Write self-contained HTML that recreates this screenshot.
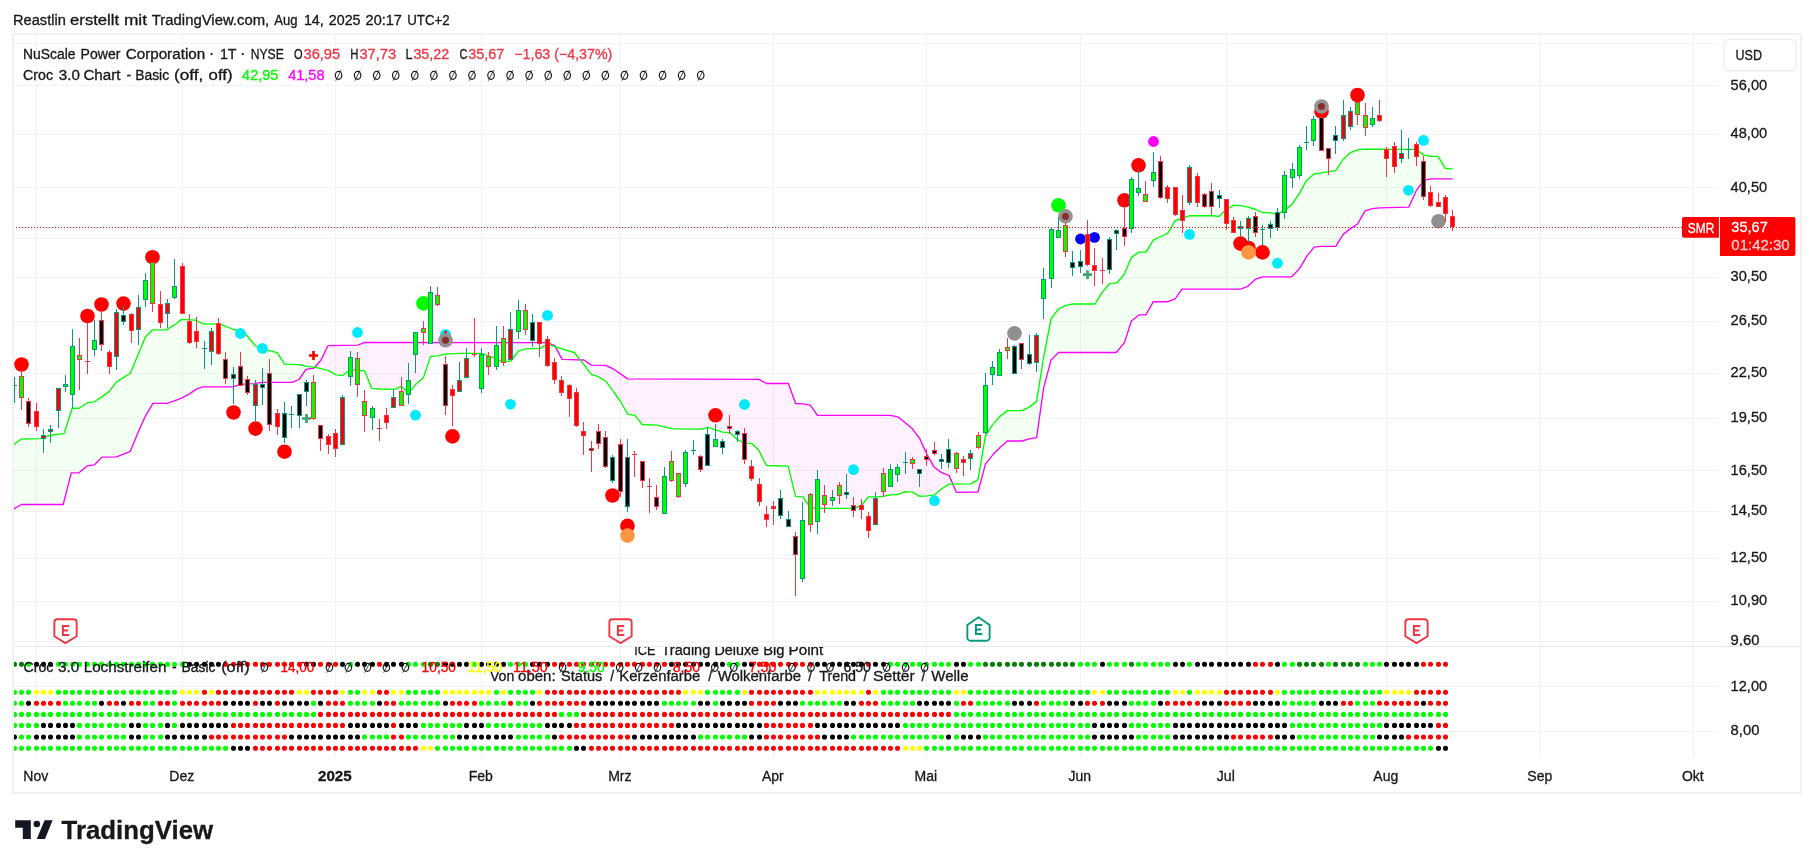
<!DOCTYPE html><html><head><meta charset="utf-8"><title>chart</title>
<style>html,body{margin:0;padding:0;background:#fff}svg{display:block;will-change:transform}text{font-family:"Liberation Sans",sans-serif;font-size:14px;color:#17181c;fill:currentColor;stroke:currentColor;stroke-width:.3px}</style></head><body>
<svg width="1814" height="868" viewBox="0 0 1814 868">
<rect width="1814" height="868" fill="#fff"/>
<path d="M36 35h1V757h-1ZM182 35h1V757h-1ZM335 35h1V757h-1ZM481 35h1V757h-1ZM620 35h1V757h-1ZM773 35h1V757h-1ZM926 35h1V757h-1ZM1080 35h1V757h-1ZM1226 35h1V757h-1ZM1386 35h1V757h-1ZM1540 35h1V757h-1ZM1693 35h1V757h-1ZM14 43H1719v1H14ZM14 85H1719v1H14ZM14 134H1719v1H14ZM14 187H1719v1H14ZM14 238H1719v1H14ZM14 277H1719v1H14ZM14 321H1719v1H14ZM14 373H1719v1H14ZM14 418H1719v1H14ZM14 470H1719v1H14ZM14 511H1719v1H14ZM14 558H1719v1H14ZM14 601H1719v1H14ZM14 641H1719v1H14ZM14 686H1719v1H14ZM14 731H1719v1H14Z" fill="#f3f3f5" shape-rendering="crispEdges"/>
<path d="M14 646H1800v1H14Z" fill="#e8e9ec" shape-rendering="crispEdges"/>
<g>
<path d="M13 445.15L13.5 444.78L14 444.41L14.5 444.04L15 443.66L15.5 443.29L16 442.92L16.5 442.55L17 442.18L17.5 441.8L18 441.43L18.5 441.06L19 440.69L19.5 440.32L20 439.94L20.5 439.57L21 439.2L21.5 439.18L22 439.17L22.5 439.15L23 439.14L23.5 439.12L24 439.11L24.5 439.09L25 439.08L25.5 439.06L26 439.05L26.5 439.03L27 439.01L27.5 439L28 438.98L28.5 438.97L29 438.95L29.5 438.94L30 438.92L30.5 438.91L31 438.89L31.5 438.88L32 438.86L32.5 438.84L33 438.83L33.5 438.81L34 438.8L34.5 438.78L35 438.77L35.5 438.75L36 438.74L36.5 438.72L37 438.71L37.5 438.69L38 438.67L38.5 438.66L39 438.64L39.5 438.63L40 438.61L40.5 438.57L41 438.41L41.5 438.24L42 438.08L42.5 437.92L43 437.76L43.5 437.59L44 437.43L44.5 437.27L45 437.11L45.5 436.95L46 436.78L46.5 436.62L47 436.46L47.5 436.3L48 436.14L48.5 435.97L49 435.81L49.5 435.65L50 435.49L50.5 435.32L51 435.16L51.5 435L52 434.94L52.5 434.89L53 434.83L53.5 434.78L54 434.72L54.5 434.66L55 434.61L55.5 434.55L56 434.5L56.5 434.44L57 434.38L57.5 434.33L58 434.27L58.5 434.22L59 434.16L59.5 434.1L60 434.05L60.5 433.99L61 433.94L61.5 433.88L62 433.82L62.5 433.77L63 433.71L63.5 433.66L64 433.6L64.5 432.05L65 430.5L65.5 428.95L66 427.4L66.5 425.86L67 424.31L67.5 422.76L68 421.21L68.5 419.66L69 418.11L69.5 416.56L70 415.01L70.5 413.47L71 411.92L71.5 410.37L72 408.82L72.5 408.2L73 408.2L73.5 408.2L74 408.2L74.5 408.2L75 408.2L75.5 408.2L76 408.2L76.5 408.2L77 408.2L77.5 408.2L78 408.2L78.5 408.2L79 408.2L79.5 408L80 407.67L80.5 407.34L81 407.01L81.5 406.68L82 406.34L82.5 406.01L83 405.68L83.5 405.35L84 405.02L84.5 404.69L85 404.36L85.5 404.03L86 403.69L86.5 403.36L87 403.03L87.5 402.7L88 402.63L88.5 402.57L89 402.5L89.5 402.44L90 402.37L90.5 402.31L91 402.24L91.5 402.18L92 402.11L92.5 402.05L93 401.98L93.5 401.92L94 401.85L94.5 401.73L95 401.39L95.5 401.05L96 400.71L96.5 400.37L97 400.03L97.5 399.69L98 399.35L98.5 399.01L99 398.67L99.5 398.33L100 397.99L100.5 397.64L101 397.3L101.5 396.96L102 396.6L102.5 396.24L103 395.89L103.5 395.53L104 395.17L104.5 394.81L105 394.46L105.5 394.1L106 393.74L106.5 393.39L107 393.03L107.5 392.67L108 392.31L108.5 391.96L109 391.6L109.5 390.95L110 390.31L110.5 389.66L111 389.01L111.5 388.37L112 387.72L112.5 387.07L113 386.43L113.5 385.78L114 385.13L114.5 384.49L115 383.84L115.5 383.19L116 382.55L116.5 381.9L117 381.59L117.5 381.28L118 380.97L118.5 380.65L119 380.34L119.5 380.03L120 379.72L120.5 379.41L121 379.1L121.5 378.78L122 378.47L122.5 378.16L123 377.85L123.5 377.54L124 377.23L124.5 376.91L125 376.6L125.5 376.29L126 375.98L126.5 375.67L127 375.36L127.5 375.04L128 374.73L128.5 374.42L129 374.11L129.5 373.8L130 373.49L130.5 372.82L131 371.62L131.5 370.42L132 369.22L132.5 368.02L133 366.82L133.5 365.62L134 364.42L134.5 363.21L135 362.01L135.5 360.81L136 359.61L136.5 358.41L137 357.21L137.5 356.01L138 354.81L138.5 353.61L139 352.41L139.5 351.21L140 350.01L140.5 348.81L141 347.61L141.5 346.41L142 345.2L142.5 344L143 342.8L143.5 341.6L144 340.4L144.5 339.2L145 338L145.5 336.8L146 336.31L146.5 335.81L147 335.32L147.5 334.83L148 334.34L148.5 333.84L149 333.35L149.5 332.86L150 332.36L150.5 331.87L151 331.38L151.5 330.89L152 330.39L152.5 329.9L153 329.9L153.5 329.9L154 329.9L154.5 329.9L155 329.9L155.5 329.9L156 329.9L156.5 329.9L157 329.9L157.5 329.9L158 329.9L158.5 329.9L159 329.9L159.5 329.9L160 329.9L160.5 329.9L161 329.9L161.5 329.9L162 329.9L162.5 329.9L163 329.9L163.5 329.9L164 329.9L164.5 329.9L165 329.9L165.5 329.9L166 329.9L166.5 329.77L167 329.46L167.5 329.15L168 328.83L168.5 328.52L169 328.2L169.5 327.89L170 327.57L170.5 327.26L171 326.94L171.5 326.63L172 326.32L172.5 326L173 325.69L173.5 325.37L174 325.06L174.5 324.74L175 324.43L175.5 324.11L176 323.8L176.5 323.4L177 323L177.5 322.6L178 322.2L178.5 321.8L179 321.4L179.5 321L180 320.6L180.5 320.2L181 319.8L181.5 319.4L182 319.43L182.5 319.46L183 319.49L183.5 319.52L184 319.54L184.5 319.57L185 319.6L185.5 319.63L186 319.66L186.5 319.69L187 319.72L187.5 319.75L188 319.78L188.5 319.81L189 319.83L189.5 319.86L190 319.89L190.5 319.92L191 319.95L191.5 319.98L192 320.01L192.5 320.04L193 320.07L193.5 320.1L194 320.12L194.5 320.15L195 320.18L195.5 320.29L196 320.51L196.5 320.73L197 320.95L197.5 321.17L198 321.39L198.5 321.6L199 321.82L199.5 322.04L200 322.26L200.5 322.48L201 322.7L201.5 322.92L202 323.14L202.5 323.36L203 323.58L203.5 323.8L204 323.8L204.5 323.8L205 323.8L205.5 323.8L206 323.8L206.5 323.8L207 323.8L207.5 323.8L208 323.8L208.5 323.8L209 323.8L209.5 323.8L210 323.8L210.5 323.8L211 323.8L211.5 323.8L212 323.8L212.5 323.8L213 323.8L213.5 323.8L214 323.8L214.5 323.8L215 323.8L215.5 323.8L216 323.8L216.5 323.8L217 323.8L217.5 323.8L218 323.8L218.5 323.8L219 323.8L219.5 323.8L220 323.97L220.5 324.17L221 324.38L221.5 324.58L222 324.79L222.5 325L223 325.2L223.5 325.41L224 325.62L224.5 325.82L225 326.03L225.5 326.24L226 326.44L226.5 326.65L227 326.86L227.5 327.06L228 327.27L228.5 327.48L229 327.68L229.5 327.89L230 328.1L230.5 328.3L231 328.51L231.5 328.72L232 328.92L232.5 329.13L233 329.33L233.5 329.52L234 329.63L234.5 329.74L235 329.85L235.5 329.96L236 330.07L236.5 330.19L237 330.3L237.5 330.41L238 330.52L238.5 330.63L239 330.74L239.5 330.85L240 330.96L240.5 331.07L241 331.18L241.5 331.29L242 331.4L242.5 331.51L243 331.62L243.5 331.73L244 332.04L244.5 332.65L245 333.25L245.5 333.85L246 334.46L246.5 335.06L247 335.67L247.5 336.27L248 336.88L248.5 337.48L249 338.09L249.5 338.69L250 339.29L250.5 339.9L251 340.5L251.5 341.11L252 341.71L252.5 342.32L253 342.92L253.5 343.52L254 344.13L254.5 344.73L255 345.34L255.5 345.79L256 346.02L256.5 346.25L257 346.48L257.5 346.71L258 346.94L258.5 347.17L259 347.4L259.5 347.63L260 347.86L260.5 348.09L261 348.32L261.5 348.55L262 348.78L262.5 349.01L263 349.17L263.5 349.29L264 349.41L264.5 349.53L265 349.66L265.5 349.78L266 349.9L266.5 350.02L267 350.14L267.5 350.26L268 350.38L268.5 350.5L269 350.62L269.5 350.74L270 350.86L270.5 350.98L271 351.1L271.5 351.22L272 351.34L272.5 351.47L273 351.59L273.5 351.71L274 351.83L274.5 351.95L275 352.07L275.5 352.19L276 352.31L276.5 352.43L277 352.55L277.5 353.07L278 353.84L278.5 354.62L279 355.4L279.5 356.17L280 356.95L280.5 357.73L281 358.51L281.5 359.28L282 360.06L282.5 360.84L283 361.61L283.5 362.39L284 363.17L284.5 363.94L285 364.11L285.5 364.13L286 364.15L286.5 364.17L287 364.18L287.5 364.2L288 364.22L288.5 364.24L289 364.25L289.5 364.27L290 364.29L290.5 364.3L291 364.32L291.5 364.34L292 364.36L292.5 364.37L293 364.39L293.5 364.41L294 364.43L294.5 364.44L295 364.46L295.5 364.48L296 364.5L296.5 364.51L297 364.53L297.5 364.55L298 364.57L298.5 364.58L299 364.6L299.5 364.72L300 364.83L300.5 364.95L301 365.07L301.5 365.18L302 365.3L302.5 365.42L303 365.54L303.5 365.65L304 365.77L304.5 365.89L305 366L305.5 366.12L306 366.24L306.5 366.35L307 366.43L307.5 366.48L308 366.52L308.5 366.57L309 366.62L309.5 366.67L310 366.72L310.5 366.76L311 366.81L311.5 366.86L312 366.91L312.5 366.96L313 367L313.5 367.05L314 367.1L314.5 367.21L315 367.33L315 367.03L314.5 367.61L314 368.2L313.5 368.27L313 368.35L312.5 368.43L312 368.5L311.5 368.57L311 368.65L310.5 368.72L310 368.8L309.5 368.88L309 368.95L308.5 369.02L308 369.1L307.5 369.17L307 369.25L306.5 369.32L306 369.4L305.5 370.12L305 370.84L304.5 371.56L304 372.29L303.5 373.01L303 373.73L302.5 374.45L302 375.17L301.5 375.89L301 376.61L300.5 377.34L300 378.06L299.5 378.78L299 379.5L298.5 379.71L298 379.91L297.5 380.12L297 380.33L296.5 380.54L296 380.74L295.5 380.95L295 381.16L294.5 381.36L294 381.57L293.5 381.78L293 381.99L292.5 382.19L292 382.4L291.5 382.4L291 382.4L290.5 382.4L290 382.4L289.5 382.4L289 382.4L288.5 382.4L288 382.4L287.5 382.4L287 382.4L286.5 382.4L286 382.4L285.5 382.4L285 382.4L284.5 382.4L284 382.4L283.5 382.4L283 382.4L282.5 382.4L282 382.4L281.5 382.4L281 382.4L280.5 382.4L280 382.4L279.5 382.4L279 382.4L278.5 382.4L278 382.4L277.5 382.4L277 382.4L276.5 382.4L276 382.4L275.5 382.4L275 382.4L274.5 382.4L274 382.4L273.5 382.4L273 382.4L272.5 382.4L272 382.4L271.5 382.4L271 382.4L270.5 382.4L270 382.4L269.5 382.4L269 382.4L268.5 382.4L268 382.4L267.5 382.4L267 382.4L266.5 382.4L266 382.4L265.5 382.4L265 382.4L264.5 382.4L264 382.4L263.5 382.4L263 382.4L262.5 382.4L262 382.4L261.5 382.45L261 382.53L260.5 382.61L260 382.69L259.5 382.77L259 382.85L258.5 382.94L258 383.02L257.5 383.1L257 383.18L256.5 383.26L256 383.34L255.5 383.42L255 383.5L254.5 383.58L254 383.61L253.5 383.62L253 383.64L252.5 383.65L252 383.66L251.5 383.68L251 383.69L250.5 383.71L250 383.72L249.5 383.73L249 383.75L248.5 383.76L248 383.77L247.5 383.79L247 383.8L246.5 383.85L246 383.91L245.5 383.96L245 384.02L244.5 384.07L244 384.13L243.5 384.18L243 384.24L242.5 384.29L242 384.35L241.5 384.4L241 384.46L240.5 384.51L240 384.57L239.5 384.66L239 384.82L238.5 384.98L238 385.14L237.5 385.3L237 385.46L236.5 385.62L236 385.78L235.5 385.94L235 386.1L234.5 386.26L234 386.42L233.5 386.58L233 386.74L232.5 386.8L232 386.8L231.5 386.8L231 386.8L230.5 386.8L230 386.8L229.5 386.8L229 386.8L228.5 386.8L228 386.8L227.5 386.8L227 386.8L226.5 386.8L226 386.8L225.5 386.8L225 386.8L224.5 386.8L224 386.8L223.5 386.8L223 386.8L222.5 386.8L222 386.8L221.5 386.8L221 386.8L220.5 386.8L220 386.8L219.5 386.8L219 386.8L218.5 386.8L218 386.8L217.5 386.8L217 386.8L216.5 386.8L216 386.8L215.5 386.8L215 386.8L214.5 386.8L214 386.8L213.5 386.8L213 386.8L212.5 386.8L212 386.8L211.5 386.8L211 386.8L210.5 386.8L210 386.8L209.5 386.8L209 386.8L208.5 386.8L208 386.8L207.5 386.8L207 386.8L206.5 386.8L206 386.8L205.5 386.8L205 386.8L204.5 386.8L204 386.8L203.5 386.8L203 386.8L202.5 386.91L202 387.08L201.5 387.25L201 387.43L200.5 387.61L200 387.78L199.5 387.95L199 388.13L198.5 388.31L198 388.48L197.5 388.65L197 388.83L196.5 389.1L196 389.43L195.5 389.77L195 390.1L194.5 390.43L194 390.77L193.5 391.1L193 391.43L192.5 391.77L192 392.1L191.5 392.43L191 392.77L190.5 393.1L190 393.43L189.5 393.77L189 394.1L188.5 394.37L188 394.64L187.5 394.91L187 395.18L186.5 395.45L186 395.72L185.5 395.99L185 396.26L184.5 396.53L184 396.8L183.5 397.07L183 397.34L182.5 397.61L182 397.88L181.5 398.14L181 398.33L180.5 398.52L180 398.71L179.5 398.89L179 399.08L178.5 399.27L178 399.46L177.5 399.65L177 399.84L176.5 400.03L176 400.22L175.5 400.41L175 400.6L174.5 400.79L174 400.97L173.5 401.14L173 401.31L172.5 401.48L172 401.65L171.5 401.82L171 402L170.5 402.17L170 402.34L169.5 402.51L169 402.68L168.5 402.85L168 403.02L167.5 403.19L167 403.37L166.5 403.4L166 403.4L165.5 403.4L165 403.4L164.5 403.4L164 403.4L163.5 403.4L163 403.4L162.5 403.4L162 403.4L161.5 403.4L161 403.4L160.5 403.4L160 403.4L159.5 403.4L159 403.4L158.5 403.4L158 403.4L157.5 403.4L157 403.4L156.5 403.4L156 403.4L155.5 403.4L155 403.4L154.5 403.4L154 403.4L153.5 403.4L153 403.4L152.5 404.07L152 404.91L151.5 405.75L151 406.58L150.5 407.42L150 408.26L149.5 409.1L149 409.94L148.5 410.77L148 411.61L147.5 412.45L147 413.29L146.5 414.12L146 414.96L145.5 415.8L145 416.92L144.5 418.03L144 419.15L143.5 420.26L143 421.38L142.5 422.49L142 423.61L141.5 424.72L141 425.84L140.5 426.95L140 428.07L139.5 429.18L139 430.3L138.5 431.51L138 432.71L137.5 433.92L137 435.13L136.5 436.33L136 437.54L135.5 438.75L135 439.96L134.5 441.16L134 442.37L133.5 443.58L133 444.78L132.5 445.99L132 447.2L131.5 448.4L131 449.61L130.5 450.82L130 451.42L129.5 451.62L129 451.82L128.5 452.02L128 452.22L127.5 452.42L127 452.62L126.5 452.81L126 453.01L125.5 453.21L125 453.41L124.5 453.61L124 453.81L123.5 454.01L123 454.21L122.5 454.41L122 454.61L121.5 454.81L121 455.01L120.5 455.21L120 455.41L119.5 455.6L119 455.8L118.5 456L118 456.2L117.5 456.4L117 456.6L116.5 456.8L116 456.81L115.5 456.82L115 456.83L114.5 456.84L114 456.85L113.5 456.86L113 456.87L112.5 456.88L112 456.89L111.5 456.9L111 456.91L110.5 456.92L110 456.93L109.5 456.94L109 456.95L108.5 456.96L108 456.97L107.5 456.98L107 457L106.5 457.01L106 457.02L105.5 457.03L105 457.04L104.5 457.05L104 457.06L103.5 457.07L103 457.08L102.5 457.09L102 457.1L101.5 457.52L101 458.04L100.5 458.56L100 459.08L99.5 459.6L99 460.12L98.5 460.64L98 461.16L97.5 461.68L97 462.2L96.5 462.72L96 463.24L95.5 463.76L95 464.28L94.5 464.8L94 464.87L93.5 464.94L93 465.01L92.5 465.08L92 465.15L91.5 465.22L91 465.29L90.5 465.36L90 465.43L89.5 465.5L89 465.57L88.5 465.65L88 465.72L87.5 465.79L87 466.13L86.5 466.53L86 466.94L85.5 467.35L85 467.76L84.5 468.17L84 468.57L83.5 468.98L83 469.39L82.5 469.8L82 470.21L81.5 470.61L81 471.02L80.5 471.43L80 471.84L79.5 472.25L79 472.66L78.5 472.9L78 472.9L77.5 472.9L77 472.9L76.5 472.9L76 472.9L75.5 472.9L75 472.9L74.5 472.9L74 472.9L73.5 472.9L73 472.9L72.5 472.9L72 472.9L71.5 472.9L71 474.07L70.5 476.02L70 477.97L69.5 479.92L69 481.87L68.5 483.82L68 485.77L67.5 487.72L67 489.68L66.5 491.63L66 493.58L65.5 495.53L65 497.48L64.5 499.43L64 501.38L63.5 503.33L63 504.5L62.5 504.5L62 504.5L61.5 504.5L61 504.5L60.5 504.5L60 504.5L59.5 504.5L59 504.5L58.5 504.5L58 504.5L57.5 504.5L57 504.5L56.5 504.5L56 504.5L55.5 504.5L55 504.5L54.5 504.5L54 504.5L53.5 504.5L53 504.5L52.5 504.5L52 504.5L51.5 504.5L51 504.5L50.5 504.5L50 504.5L49.5 504.5L49 504.5L48.5 504.5L48 504.5L47.5 504.5L47 504.5L46.5 504.5L46 504.5L45.5 504.5L45 504.5L44.5 504.5L44 504.5L43.5 504.5L43 504.5L42.5 504.5L42 504.5L41.5 504.5L41 504.5L40.5 504.5L40 504.5L39.5 504.5L39 504.5L38.5 504.5L38 504.5L37.5 504.5L37 504.5L36.5 504.5L36 504.5L35.5 504.5L35 504.5L34.5 504.5L34 504.5L33.5 504.5L33 504.5L32.5 504.5L32 504.5L31.5 504.5L31 504.5L30.5 504.5L30 504.5L29.5 504.5L29 504.5L28.5 504.5L28 504.5L27.5 504.5L27 504.5L26.5 504.5L26 504.5L25.5 504.5L25 504.5L24.5 504.5L24 504.5L23.5 504.5L23 504.5L22.5 504.5L22 504.5L21.5 504.5L21 504.68L20.5 504.98L20 505.29L19.5 505.59L19 505.89L18.5 506.19L18 506.5L17.5 506.8L17 507.1L16.5 507.4L16 507.71L15.5 508.01L15 508.31L14.5 508.61L14 508.92L13.5 509.22L13 509.4Z" fill="rgba(0,255,0,0.052)" stroke="none"/>
<path d="M315 367.33L315.5 367.44L316 367.56L316.5 367.67L317 367.79L317.5 367.9L318 368.01L318.5 368.13L319 368.24L319.5 368.36L320 368.47L320.5 368.59L321 368.7L321.5 368.81L322 368.92L322.5 369.03L323 369.14L323.5 369.25L324 369.36L324.5 369.47L325 369.58L325.5 369.69L326 369.8L326.5 369.91L327 370.02L327.5 370.12L328 370.23L328.5 370.42L329 370.72L329.5 371.02L330 371.32L330.5 371.61L331 371.91L331.5 372.21L332 372.51L332.5 372.81L333 373.11L333.5 373.41L334 373.71L334.5 374L335 374.3L335.5 374.6L336 374.9L336.5 374.95L337 375L337.5 375.05L338 375.1L338.5 375.15L339 375.2L339.5 375.26L340 375.31L340.5 375.36L341 375.41L341.5 375.46L342 375.51L342.5 375.56L343 375.52L343.5 375.09L344 374.67L344.5 374.24L345 373.82L345.5 373.39L346 372.97L346.5 372.54L347 372.12L347.5 371.69L348 371.27L348.5 370.84L349 370.42L349.5 369.99L350 369.57L350.5 369.43L351 369.49L351.5 369.54L352 369.6L352.5 369.65L353 369.71L353.5 369.76L354 369.82L354.5 369.87L355 369.93L355.5 369.98L356 370.04L356.5 370.1L357 370.15L357.5 370.21L358 370.26L358.5 370.32L359 370.37L359.5 370.43L360 370.48L360.5 370.54L361 370.59L361.5 370.65L362 370.7L362.5 370.76L363 370.81L363.5 370.87L364 370.92L364.5 370.98L365 371.74L365.5 372.98L366 374.21L366.5 375.45L367 376.68L367.5 377.92L368 379.16L368.5 380.39L369 381.63L369.5 382.86L370 384.1L370.5 385.33L371 386.57L371.5 387.81L372 388.33L372.5 388.37L373 388.41L373.5 388.46L374 388.5L374.5 388.55L375 388.59L375.5 388.63L376 388.68L376.5 388.72L377 388.76L377.5 388.81L378 388.85L378.5 388.89L379 388.94L379.5 388.98L380 389.01L380.5 389.02L381 389.04L381.5 389.05L382 389.06L382.5 389.08L383 389.09L383.5 389.1L384 389.12L384.5 389.13L385 389.15L385.5 389.16L386 389.17L386.5 389.19L387 389.2L387.5 389.22L388 389.23L388.5 389.24L389 389.26L389.5 389.27L390 389.28L390.5 389.3L391 389.31L391.5 389.33L392 389.34L392.5 389.35L393 389.37L393.5 389.38L394 389.39L394.5 389.28L395 389.07L395.5 388.87L396 388.66L396.5 388.45L397 388.25L397.5 388.04L398 387.84L398.5 387.63L399 387.43L399.5 387.22L400 387.02L400.5 386.81L401 386.61L401.5 386.4L402 386.88L402.5 387.36L403 387.84L403.5 388.32L404 388.8L404.5 389.27L405 389.75L405.5 390.23L406 390.71L406.5 391.19L407 391.67L407.5 392.15L408 392.63L408.5 393.11L409 392.92L409.5 392.29L410 391.66L410.5 391.03L411 390.4L411.5 389.77L412 389.14L412.5 388.51L413 387.88L413.5 387.25L414 386.62L414.5 385.99L415 385.36L415.5 384.73L416 384.1L416.5 383.67L417 383.25L417.5 382.82L418 382.4L418.5 381.97L419 381.55L419.5 381.12L420 380.69L420.5 380.27L421 379.84L421.5 379.42L422 378.99L422.5 378.57L423 378.14L423.5 377.5L424 376.02L424.5 374.53L425 373.04L425.5 371.56L426 370.07L426.5 368.59L427 367.1L427.5 365.61L428 364.13L428.5 362.64L429 361.16L429.5 359.67L430 358.18L430.5 356.7L431 356.37L431.5 356.34L432 356.31L432.5 356.27L433 356.24L433.5 356.2L434 356.17L434.5 356.14L435 356.1L435.5 356.07L436 356.04L436.5 356L437 355.97L437.5 355.93L438 355.9L438.5 355.78L439 355.65L439.5 355.53L440 355.41L440.5 355.28L441 355.16L441.5 355.04L442 354.91L442.5 354.79L443 354.67L443.5 354.54L444 354.42L444.5 354.3L445 354.17L445.5 354.09L446 354.07L446.5 354.04L447 354.02L447.5 353.99L448 353.97L448.5 353.95L449 353.92L449.5 353.9L450 353.87L450.5 353.85L451 353.82L451.5 353.8L452 353.78L452.5 353.75L453 353.73L453.5 353.7L454 353.68L454.5 353.66L455 353.63L455.5 353.61L456 353.58L456.5 353.56L457 353.54L457.5 353.51L458 353.49L458.5 353.46L459 353.44L459.5 353.41L460 353.4L460.5 353.4L461 353.4L461.5 353.4L462 353.4L462.5 353.4L463 353.4L463.5 353.4L464 353.4L464.5 353.4L465 353.4L465.5 353.4L466 353.4L466.5 353.4L467 353.4L467.5 353.4L468 353.4L468.5 353.4L469 353.4L469.5 353.4L470 353.4L470.5 353.4L471 353.4L471.5 353.4L472 353.4L472.5 353.4L473 353.4L473.5 353.4L474 353.4L474.5 353.4L475 353.4L475.5 353.4L476 353.4L476.5 353.4L477 353.4L477.5 353.4L478 353.4L478.5 353.4L479 353.4L479.5 353.4L480 353.4L480.5 353.4L481 353.4L481.5 353.4L482 353.51L482.5 353.69L483 353.88L483.5 354.06L484 354.24L484.5 354.42L485 354.61L485.5 354.79L486 354.97L486.5 355.15L487 355.34L487.5 355.52L488 355.7L488.5 355.89L489 356.07L489.5 356.25L490 356.43L490.5 356.62L491 356.8L491.5 356.98L492 357.16L492.5 357.35L493 357.53L493.5 357.71L494 357.9L494.5 358.08L495 358.26L495.5 358.44L496 358.63L496.5 358.84L497 359.08L497.5 359.31L498 359.55L498.5 359.79L499 360.02L499.5 360.26L500 360.5L500.5 360.73L501 360.97L501.5 361.21L502 361.44L502.5 361.68L503 361.92L503.5 362.15L504 362.14L504.5 362.05L505 361.97L505.5 361.89L506 361.81L506.5 361.73L507 361.65L507.5 361.57L508 361.49L508.5 361.41L509 361.32L509.5 361.24L510 361.16L510.5 361.08L511 361L511.5 360.32L512 359.64L512.5 358.97L513 358.29L513.5 357.61L514 356.93L514.5 356.25L515 355.58L515.5 354.9L516 354.22L516.5 353.54L517 352.86L517.5 352.18L518 351.51L518.5 351.04L519 350.88L519.5 350.72L520 350.56L520.5 350.4L521 350.24L521.5 350.08L522 349.92L522.5 349.76L523 349.6L523.5 349.44L524 349.28L524.5 349.12L525 348.96L525.5 348.8L526 348.78L526.5 348.77L527 348.75L527.5 348.73L528 348.71L528.5 348.7L529 348.68L529.5 348.66L530 348.64L530.5 348.63L531 348.61L531.5 348.59L532 348.58L532.5 348.56L533 348.54L533.5 348.52L534 348.51L534.5 348.49L535 348.47L535.5 348.46L536 348.44L536.5 348.42L537 348.4L537.5 348.39L538 348.37L538.5 348.35L539 348.33L539.5 348.32L540 348.3L540.5 348.02L541 347.75L541.5 347.47L542 347.19L542.5 346.91L543 346.64L543.5 346.36L544 346.08L544.5 345.81L545 345.53L545.5 345.25L546 344.98L546.5 344.7L547 344.42L547.5 344.23L548 344.41L548.5 344.58L549 344.75L549.5 344.92L550 345.09L550.5 345.26L551 345.43L551.5 345.6L552 345.78L552.5 345.95L553 346.12L553.5 346.29L554 346.46L554.5 346.63L555 346.79L555.5 346.94L555.5 347.09L555 346.16L554.5 345.52L554 345.31L553.5 345.11L553 344.9L552.5 344.7L552 344.49L551.5 344.28L551 344.08L550.5 343.87L550 343.67L549.5 343.46L549 343.26L548.5 343.05L548 342.85L547.5 342.64L547 342.6L546.5 342.6L546 342.6L545.5 342.6L545 342.6L544.5 342.6L544 342.6L543.5 342.6L543 342.6L542.5 342.59L542 342.59L541.5 342.59L541 342.59L540.5 342.59L540 342.59L539.5 342.59L539 342.59L538.5 342.59L538 342.59L537.5 342.59L537 342.59L536.5 342.59L536 342.59L535.5 342.59L535 342.59L534.5 342.59L534 342.59L533.5 342.58L533 342.58L532.5 342.58L532 342.58L531.5 342.58L531 342.58L530.5 342.58L530 342.58L529.5 342.58L529 342.58L528.5 342.58L528 342.58L527.5 342.58L527 342.58L526.5 342.58L526 342.58L525.5 342.58L525 342.58L524.5 342.57L524 342.57L523.5 342.57L523 342.57L522.5 342.57L522 342.57L521.5 342.57L521 342.57L520.5 342.57L520 342.57L519.5 342.57L519 342.57L518.5 342.57L518 342.57L517.5 342.57L517 342.57L516.5 342.57L516 342.57L515.5 342.57L515 342.56L514.5 342.56L514 342.56L513.5 342.56L513 342.56L512.5 342.56L512 342.56L511.5 342.56L511 342.56L510.5 342.56L510 342.56L509.5 342.56L509 342.56L508.5 342.56L508 342.56L507.5 342.56L507 342.56L506.5 342.56L506 342.55L505.5 342.55L505 342.55L504.5 342.55L504 342.55L503.5 342.55L503 342.55L502.5 342.55L502 342.55L501.5 342.55L501 342.55L500.5 342.55L500 342.55L499.5 342.55L499 342.55L498.5 342.55L498 342.55L497.5 342.55L497 342.54L496.5 342.54L496 342.54L495.5 342.54L495 342.54L494.5 342.54L494 342.54L493.5 342.54L493 342.54L492.5 342.54L492 342.54L491.5 342.54L491 342.54L490.5 342.54L490 342.54L489.5 342.54L489 342.54L488.5 342.54L488 342.53L487.5 342.53L487 342.53L486.5 342.53L486 342.53L485.5 342.53L485 342.53L484.5 342.53L484 342.53L483.5 342.53L483 342.53L482.5 342.53L482 342.53L481.5 342.53L481 342.53L480.5 342.53L480 342.53L479.5 342.53L479 342.53L478.5 342.52L478 342.52L477.5 342.52L477 342.52L476.5 342.52L476 342.52L475.5 342.52L475 342.52L474.5 342.52L474 342.52L473.5 342.52L473 342.52L472.5 342.52L472 342.52L471.5 342.52L471 342.52L470.5 342.52L470 342.52L469.5 342.51L469 342.51L468.5 342.51L468 342.51L467.5 342.51L467 342.51L466.5 342.51L466 342.51L465.5 342.51L465 342.51L464.5 342.51L464 342.51L463.5 342.51L463 342.51L462.5 342.51L462 342.51L461.5 342.51L461 342.51L460.5 342.5L460 342.5L459.5 342.5L459 342.5L458.5 342.5L458 342.5L457.5 342.5L457 342.5L456.5 342.5L456 342.5L455.5 342.5L455 342.5L454.5 342.5L454 342.5L453.5 342.5L453 342.5L452.5 342.5L452 342.5L451.5 342.5L451 342.49L450.5 342.49L450 342.49L449.5 342.49L449 342.49L448.5 342.49L448 342.49L447.5 342.49L447 342.49L446.5 342.49L446 342.49L445.5 342.49L445 342.49L444.5 342.49L444 342.49L443.5 342.49L443 342.49L442.5 342.49L442 342.48L441.5 342.48L441 342.48L440.5 342.48L440 342.48L439.5 342.48L439 342.48L438.5 342.48L438 342.48L437.5 342.48L437 342.48L436.5 342.48L436 342.48L435.5 342.48L435 342.48L434.5 342.48L434 342.48L433.5 342.48L433 342.47L432.5 342.47L432 342.47L431.5 342.47L431 342.47L430.5 342.47L430 342.47L429.5 342.47L429 342.47L428.5 342.47L428 342.47L427.5 342.47L427 342.47L426.5 342.47L426 342.47L425.5 342.47L425 342.47L424.5 342.47L424 342.46L423.5 342.46L423 342.46L422.5 342.46L422 342.46L421.5 342.46L421 342.46L420.5 342.46L420 342.46L419.5 342.46L419 342.46L418.5 342.46L418 342.46L417.5 342.46L417 342.46L416.5 342.46L416 342.46L415.5 342.46L415 342.46L414.5 342.45L414 342.45L413.5 342.45L413 342.45L412.5 342.45L412 342.45L411.5 342.45L411 342.45L410.5 342.45L410 342.45L409.5 342.45L409 342.45L408.5 342.45L408 342.45L407.5 342.45L407 342.45L406.5 342.45L406 342.45L405.5 342.44L405 342.44L404.5 342.44L404 342.44L403.5 342.44L403 342.44L402.5 342.44L402 342.44L401.5 342.44L401 342.44L400.5 342.44L400 342.44L399.5 342.44L399 342.44L398.5 342.44L398 342.44L397.5 342.44L397 342.44L396.5 342.43L396 342.43L395.5 342.43L395 342.43L394.5 342.43L394 342.43L393.5 342.43L393 342.43L392.5 342.43L392 342.43L391.5 342.43L391 342.43L390.5 342.43L390 342.43L389.5 342.43L389 342.43L388.5 342.43L388 342.43L387.5 342.42L387 342.42L386.5 342.42L386 342.42L385.5 342.42L385 342.42L384.5 342.42L384 342.42L383.5 342.42L383 342.42L382.5 342.42L382 342.42L381.5 342.42L381 342.42L380.5 342.42L380 342.42L379.5 342.42L379 342.42L378.5 342.42L378 342.41L377.5 342.41L377 342.41L376.5 342.41L376 342.41L375.5 342.41L375 342.41L374.5 342.41L374 342.41L373.5 342.41L373 342.41L372.5 342.41L372 342.41L371.5 342.41L371 342.41L370.5 342.41L370 342.41L369.5 342.41L369 342.4L368.5 342.4L368 342.4L367.5 342.4L367 342.4L366.5 342.4L366 342.4L365.5 342.4L365 342.4L364.5 342.48L364 342.68L363.5 342.89L363 343.09L362.5 343.29L362 343.5L361.5 343.7L361 343.9L360.5 344.1L360 344.31L359.5 344.51L359 344.71L358.5 344.92L358 345.12L357.5 345.21L357 345.21L356.5 345.22L356 345.23L355.5 345.24L355 345.25L354.5 345.26L354 345.26L353.5 345.27L353 345.28L352.5 345.29L352 345.3L351.5 345.31L351 345.31L350.5 345.32L350 345.33L349.5 345.34L349 345.35L348.5 345.36L348 345.36L347.5 345.37L347 345.38L346.5 345.39L346 345.4L345.5 345.41L345 345.41L344.5 345.42L344 345.43L343.5 345.44L343 345.45L342.5 345.46L342 345.46L341.5 345.47L341 345.48L340.5 345.49L340 345.5L339.5 345.51L339 345.51L338.5 345.52L338 345.53L337.5 345.54L337 345.55L336.5 345.56L336 345.56L335.5 345.57L335 345.58L334.5 345.59L334 345.6L333.5 345.61L333 345.61L332.5 345.62L332 345.63L331.5 345.64L331 345.65L330.5 345.66L330 345.66L329.5 345.67L329 345.68L328.5 345.69L328 345.7L327.5 346.53L327 347.57L326.5 348.6L326 349.64L325.5 350.67L325 351.71L324.5 352.75L324 353.78L323.5 354.82L323 355.86L322.5 356.89L322 357.93L321.5 358.96L321 360L320.5 360.59L320 361.17L319.5 361.76L319 362.34L318.5 362.93L318 363.51L317.5 364.1L317 364.69L316.5 365.27L316 365.86L315.5 366.44L315 367.03Z" fill="rgba(255,0,255,0.055)" stroke="none"/>
<path d="M555.5 346.94L556 347.08L556.5 347.23L557 347.38L557.5 347.53L558 347.68L558.5 347.82L559 347.97L559.5 348.12L560 348.27L560.5 348.42L561 348.56L561.5 348.71L562 348.86L562.5 349.01L563 349.16L563.5 349.3L564 349.45L564.5 349.6L565 349.75L565.5 349.9L566 350.04L566.5 350.19L567 350.34L567.5 350.49L568 350.64L568.5 350.78L569 350.93L569.5 351.08L570 351.23L570.5 351.38L571 351.52L571.5 351.67L572 351.82L572.5 351.97L573 352.12L573.5 352.26L574 352.41L574.5 352.75L575 353.37L575.5 354L576 354.62L576.5 355.24L577 355.87L577.5 356.49L578 357.12L578.5 357.74L579 358.36L579.5 358.99L580 359.61L580.5 360.23L580.5 359.9L580 359.89L579.5 359.88L579 359.86L578.5 359.85L578 359.84L577.5 359.82L577 359.81L576.5 359.79L576 359.78L575.5 359.77L575 359.75L574.5 359.74L574 359.73L573.5 359.71L573 359.7L572.5 359.68L572 359.67L571.5 359.66L571 359.64L570.5 359.63L570 359.62L569.5 359.6L569 359.59L568.5 359.58L568 359.56L567.5 359.55L567 359.53L566.5 359.52L566 359.51L565.5 359.49L565 359.48L564.5 359.47L564 359.45L563.5 359.44L563 359.42L562.5 359.41L562 359.21L561.5 358.28L561 357.35L560.5 356.42L560 355.48L559.5 354.55L559 353.62L558.5 352.69L558 351.75L557.5 350.82L557 349.89L556.5 348.96L556 348.02L555.5 347.09Z" fill="rgba(0,255,0,0.052)" stroke="none"/>
<path d="M580.5 360.23L581 360.86L581.5 361.48L582 362.11L582.5 362.73L583 363.35L583.5 363.98L584 364.6L584.5 365.26L585 365.93L585.5 366.59L586 367.26L586.5 367.92L587 368.59L587.5 369.25L588 369.92L588.5 370.58L589 371.24L589.5 371.91L590 372.57L590.5 373.24L591 373.9L591.5 374.36L592 374.53L592.5 374.69L593 374.85L593.5 375.01L594 375.17L594.5 375.34L595 375.5L595.5 375.66L596 375.82L596.5 375.98L597 376.15L597.5 376.31L598 376.47L598.5 376.66L599 376.97L599.5 377.28L600 377.59L600.5 377.91L601 378.22L601.5 378.53L602 378.84L602.5 379.15L603 379.46L603.5 379.77L604 380.08L604.5 380.39L605 380.7L605.5 381.01L606 381.47L606.5 382.14L607 382.81L607.5 383.47L608 384.14L608.5 384.81L609 385.48L609.5 386.15L610 386.82L610.5 387.49L611 388.16L611.5 388.83L612 389.49L612.5 390.16L613 390.83L613.5 391.53L614 392.24L614.5 392.95L615 393.66L615.5 394.38L616 395.09L616.5 395.8L617 396.51L617.5 397.23L618 397.94L618.5 398.65L619 399.36L619.5 400.08L620 400.79L620.5 401.5L621 402.38L621.5 403.25L622 404.12L622.5 405L623 405.88L623.5 406.75L624 407.62L624.5 408.5L625 409.37L625.5 410.25L626 411.12L626.5 412L627 412.87L627.5 413.75L628 414.15L628.5 414.23L629 414.31L629.5 414.4L630 414.48L630.5 414.56L631 414.64L631.5 414.72L632 414.81L632.5 414.89L633 414.97L633.5 415.05L634 415.14L634.5 415.22L635 415.3L635.5 415.94L636 416.58L636.5 417.22L637 417.86L637.5 418.49L638 419.13L638.5 419.77L639 420.41L639.5 421.05L640 421.69L640.5 422.33L641 422.97L641.5 423.61L642 424.24L642.5 424.51L643 424.54L643.5 424.56L644 424.59L644.5 424.61L645 424.63L645.5 424.66L646 424.68L646.5 424.7L647 424.73L647.5 424.75L648 424.77L648.5 424.8L649 424.82L649.5 424.85L650 424.87L650.5 424.89L651 424.92L651.5 424.94L652 424.96L652.5 424.99L653 425.01L653.5 425.03L654 425.06L654.5 425.08L655 425.11L655.5 425.13L656 425.15L656.5 425.18L657 425.2L657.5 425.32L658 425.44L658.5 425.56L659 425.68L659.5 425.8L660 425.92L660.5 426.04L661 426.17L661.5 426.29L662 426.41L662.5 426.53L663 426.65L663.5 426.77L664 426.89L664.5 427.01L665 427.13L665.5 427.25L666 427.37L666.5 427.49L667 427.61L667.5 427.73L668 427.86L668.5 427.98L669 428.1L669.5 428.22L670 428.34L670.5 428.46L671 428.58L671.5 428.7L672 428.71L672.5 428.73L673 428.74L673.5 428.75L674 428.77L674.5 428.78L675 428.8L675.5 428.81L676 428.82L676.5 428.84L677 428.85L677.5 428.86L678 428.88L678.5 428.89L679 428.9L679.5 428.92L680 428.93L680.5 428.94L681 428.96L681.5 428.97L682 428.99L682.5 429L683 429.01L683.5 429.03L684 429.04L684.5 429.05L685 429.07L685.5 429.08L686 429.09L686.5 429.1L687 429.1L687.5 429.1L688 429.1L688.5 429.1L689 429.1L689.5 429.1L690 429.1L690.5 429.1L691 429.1L691.5 429.1L692 429.1L692.5 429.1L693 429.1L693.5 429.1L694 429.1L694.5 429.1L695 429.1L695.5 429.1L696 429.1L696.5 429.1L697 429.1L697.5 429.1L698 429.1L698.5 429.1L699 429.1L699.5 429.1L700 429.1L700.5 429.1L701 429.1L701.5 428.97L702 428.85L702.5 428.72L703 428.59L703.5 428.47L704 428.34L704.5 428.21L705 428.09L705.5 427.96L706 427.83L706.5 427.71L707 427.58L707.5 427.45L708 427.33L708.5 427.44L709 427.6L709.5 427.77L710 427.94L710.5 428.11L711 428.28L711.5 428.45L712 428.62L712.5 428.79L713 428.96L713.5 429.12L714 429.29L714.5 429.46L715 429.63L715.5 429.8L716 429.96L716.5 430.12L717 430.29L717.5 430.45L718 430.61L718.5 430.77L719 430.93L719.5 431.1L720 431.26L720.5 431.42L721 431.58L721.5 431.74L722 431.91L722.5 432.07L723 432.13L723.5 432.16L724 432.19L724.5 432.23L725 432.26L725.5 432.3L726 432.33L726.5 432.36L727 432.4L727.5 432.43L728 432.46L728.5 432.5L729 432.53L729.5 432.57L730 432.6L730.5 433.09L731 433.57L731.5 434.06L732 434.54L732.5 435.03L733 435.52L733.5 436L734 436.49L734.5 436.97L735 437.46L735.5 437.95L736 438.43L736.5 438.92L737 439.4L737.5 439.68L738 439.91L738.5 440.14L739 440.37L739.5 440.6L740 440.83L740.5 441.06L741 441.29L741.5 441.52L742 441.75L742.5 441.98L743 442.21L743.5 442.44L744 442.67L744.5 442.9L745 442.95L745.5 442.99L746 443.04L746.5 443.09L747 443.14L747.5 443.18L748 443.23L748.5 443.28L749 443.33L749.5 443.37L750 443.42L750.5 443.47L751 443.51L751.5 443.56L752 443.7L752.5 444.19L753 444.68L753.5 445.18L754 445.67L754.5 446.16L755 446.66L755.5 447.15L756 447.64L756.5 448.14L757 448.63L757.5 449.12L758 449.61L758.5 450.11L759 450.6L759.5 451.61L760 452.61L760.5 453.62L761 454.63L761.5 455.63L762 456.64L762.5 457.65L763 458.65L763.5 459.66L764 460.67L764.5 461.67L765 462.68L765.5 463.69L766 464.69L766.5 465.5L767 465.52L767.5 465.53L768 465.54L768.5 465.56L769 465.57L769.5 465.59L770 465.6L770.5 465.61L771 465.63L771.5 465.64L772 465.65L772.5 465.67L773 465.68L773.5 465.7L774 465.71L774.5 465.72L775 465.74L775.5 465.75L776 465.76L776.5 465.78L777 465.79L777.5 465.81L778 465.82L778.5 465.83L779 465.85L779.5 465.86L780 465.87L780.5 465.89L781 465.9L781.5 465.92L782 465.93L782.5 465.94L783 465.96L783.5 465.97L784 465.98L784.5 466L785 466.01L785.5 466.03L786 466.04L786.5 466.05L787 466.07L787.5 466.08L788 466.09L788.5 467.32L789 469.36L789.5 471.41L790 473.45L790.5 475.49L791 477.53L791.5 479.57L792 481.61L792.5 483.65L793 485.69L793.5 487.73L794 489.77L794.5 491.81L795 493.85L795.5 495.89L796 496.33L796.5 496.36L797 496.39L797.5 496.43L798 496.46L798.5 496.5L799 496.53L799.5 496.56L800 496.6L800.5 496.63L801 496.66L801.5 496.7L802 496.73L802.5 496.77L803 496.8L803.5 497.55L804 498.31L804.5 499.06L805 499.81L805.5 500.57L806 501.32L806.5 502.07L807 502.83L807.5 503.58L808 504.33L808.5 505.09L809 505.84L809.5 506.59L810 507.35L810.5 507.81L811 507.85L811.5 507.88L812 507.92L812.5 507.95L813 507.99L813.5 508.02L814 508.06L814.5 508.09L815 508.13L815.5 508.16L816 508.2L816.5 508.23L817 508.27L817.5 508.3L818 508.3L818.5 508.3L819 508.3L819.5 508.3L820 508.3L820.5 508.3L821 508.3L821.5 508.3L822 508.3L822.5 508.3L823 508.3L823.5 508.3L824 508.3L824.5 508.3L825 508.3L825.5 508.3L826 508.3L826.5 508.3L827 508.3L827.5 508.3L828 508.3L828.5 508.3L829 508.3L829.5 508.3L830 508.3L830.5 508.3L831 508.3L831.5 508.3L832 508.3L832.5 508.3L833 508.3L833.5 508.3L834 508.3L834.5 508.3L835 508.3L835.5 508.3L836 508.3L836.5 508.3L837 508.3L837.5 508.3L838 508.3L838.5 508.3L839 508.3L839.5 508.3L840 508.3L840.5 508.3L841 508.3L841.5 508.3L842 508.3L842.5 508.3L843 508.3L843.5 508.3L844 508.3L844.5 508.3L845 508.3L845.5 508.3L846 508.3L846.5 508.3L847 508.3L847.5 508.3L848 508.3L848.5 508.3L849 508.3L849.5 508.3L850 508.3L850.5 508.3L851 508.3L851.5 508.3L852 508.3L852.5 508.3L853 508.3L853.5 508.3L854 508.3L854.5 508.14L855 507.95L855.5 507.75L856 507.55L856.5 507.35L857 507.16L857.5 506.96L858 506.76L858.5 506.56L859 506.37L859.5 506.17L860 505.97L860.5 505.78L861 505.58L861.5 505.15L862 504.56L862.5 503.97L863 503.38L863.5 502.8L864 502.21L864.5 501.62L865 501.03L865.5 500.44L866 499.86L866.5 499.27L867 498.68L867.5 498.09L868 497.51L868.5 496.92L869 496.8L869.5 496.8L870 496.8L870.5 496.8L871 496.8L871.5 496.8L872 496.8L872.5 496.8L873 496.8L873.5 496.8L874 496.8L874.5 496.8L875 496.8L875.5 496.8L876 496.8L876.5 496.76L877 496.73L877.5 496.69L878 496.66L878.5 496.62L879 496.59L879.5 496.55L880 496.52L880.5 496.48L881 496.45L881.5 496.41L882 496.38L882.5 496.34L883 496.31L883.5 496.22L884 496.13L884.5 496.04L885 495.94L885.5 495.85L886 495.75L886.5 495.66L887 495.56L887.5 495.47L888 495.37L888.5 495.28L889 495.18L889.5 495.09L890 494.99L890.5 494.9L891 494.87L891.5 494.85L892 494.82L892.5 494.79L893 494.76L893.5 494.74L894 494.71L894.5 494.68L895 494.66L895.5 494.63L896 494.6L896.5 494.58L897 494.55L897.5 494.52L898 494.46L898.5 494.26L899 494.07L899.5 493.87L900 493.67L900.5 493.47L901 493.28L901.5 493.08L902 492.88L902.5 492.69L903 492.49L903.5 492.29L904 492.09L904.5 491.9L905 491.7L905.5 491.73L906 491.77L906.5 491.8L907 491.84L907.5 491.87L908 491.9L908.5 491.94L909 491.97L909.5 492L910 492.04L910.5 492.07L911 492.11L911.5 492.14L912 492.17L912.5 492.26L913 492.53L913.5 492.81L914 493.09L914.5 493.36L915 493.64L915.5 493.92L916 494.19L916.5 494.47L917 494.75L917.5 495.03L918 495.3L918.5 495.58L919 495.86L919.5 496.13L920 496.29L920.5 496.26L921 496.23L921.5 496.21L922 496.18L922.5 496.15L923 496.12L923.5 496.1L924 496.07L924.5 496.04L925 496.02L925.5 495.99L926 495.96L926.5 495.93L927 495.91L927.5 495.84L928 495.77L928.5 495.71L929 495.64L929.5 495.57L930 495.5L930.5 495.43L931 495.36L931.5 495.29L932 495.22L932.5 495.15L933 495.08L933.5 495.01L934 494.94L934.5 494.73L935 494.31L935.5 493.89L936 493.48L936.5 493.06L937 492.64L937.5 492.22L938 491.8L938.5 491.38L939 490.96L939.5 490.54L940 490.12L940.5 489.71L941 489.29L941.5 488.87L942 488.51L942.5 488.2L943 487.88L943.5 487.57L944 487.25L944.5 486.94L945 486.62L945.5 486.31L946 485.99L946.5 485.68L947 485.36L947.5 485.05L948 484.73L948.5 484.42L949 484.1L949.5 484.1L950 484.09L950.5 484.09L951 484.08L951.5 484.08L952 484.07L952.5 484.07L953 484.06L953 484.49L952.5 483.34L952 482.19L951.5 481.04L951 479.89L950.5 478.75L950 477.6L949.5 476.45L949 475.3L948.5 475.12L948 474.93L947.5 474.75L947 474.56L946.5 474.38L946 474.19L945.5 474.01L945 473.82L944.5 473.64L944 473.45L943.5 473.27L943 473.08L942.5 472.9L942 472.71L941.5 472.46L941 472.1L940.5 471.74L940 471.38L939.5 471.02L939 470.67L938.5 470.31L938 469.95L937.5 469.59L937 469.23L936.5 468.88L936 468.52L935.5 468.16L935 467.8L934.5 467.44L934 466.77L933.5 465.89L933 465.01L932.5 464.13L932 463.24L931.5 462.36L931 461.48L930.5 460.6L930 459.72L929.5 458.83L929 457.95L928.5 457.07L928 456.19L927.5 455.31L927 454.38L926.5 453.29L926 452.2L925.5 451.12L925 450.03L924.5 448.94L924 447.85L923.5 446.76L923 445.67L922.5 444.58L922 443.49L921.5 442.4L921 441.31L920.5 440.22L920 439.14L919.5 438.3L919 437.63L918.5 436.96L918 436.29L917.5 435.62L917 434.95L916.5 434.29L916 433.62L915.5 432.95L915 432.28L914.5 431.61L914 430.94L913.5 430.27L913 429.6L912.5 428.93L912 428.46L911.5 428.05L911 427.63L910.5 427.21L910 426.79L909.5 426.37L909 425.95L908.5 425.53L908 425.11L907.5 424.69L907 424.28L906.5 423.86L906 423.44L905.5 423.02L905 422.6L904.5 422.19L904 421.78L903.5 421.37L903 420.97L902.5 420.56L902 420.15L901.5 419.74L901 419.33L900.5 418.92L900 418.52L899.5 418.11L899 417.7L898.5 417.29L898 416.88L897.5 416.72L897 416.63L896.5 416.54L896 416.44L895.5 416.35L895 416.25L894.5 416.16L894 416.06L893.5 415.97L893 415.87L892.5 415.78L892 415.68L891.5 415.59L891 415.49L890.5 415.4L890 415.4L889.5 415.4L889 415.4L888.5 415.4L888 415.4L887.5 415.4L887 415.4L886.5 415.4L886 415.4L885.5 415.4L885 415.4L884.5 415.4L884 415.4L883.5 415.4L883 415.4L882.5 415.4L882 415.4L881.5 415.4L881 415.4L880.5 415.4L880 415.4L879.5 415.4L879 415.4L878.5 415.4L878 415.4L877.5 415.4L877 415.4L876.5 415.4L876 415.4L875.5 415.4L875 415.4L874.5 415.4L874 415.4L873.5 415.4L873 415.4L872.5 415.4L872 415.4L871.5 415.4L871 415.4L870.5 415.4L870 415.4L869.5 415.4L869 415.4L868.5 415.4L868 415.4L867.5 415.4L867 415.4L866.5 415.4L866 415.4L865.5 415.4L865 415.4L864.5 415.4L864 415.4L863.5 415.4L863 415.4L862.5 415.4L862 415.4L861.5 415.4L861 415.4L860.5 415.4L860 415.4L859.5 415.4L859 415.4L858.5 415.4L858 415.4L857.5 415.4L857 415.4L856.5 415.4L856 415.4L855.5 415.4L855 415.4L854.5 415.4L854 415.4L853.5 415.4L853 415.4L852.5 415.4L852 415.4L851.5 415.4L851 415.4L850.5 415.4L850 415.4L849.5 415.4L849 415.4L848.5 415.4L848 415.4L847.5 415.4L847 415.4L846.5 415.4L846 415.4L845.5 415.4L845 415.4L844.5 415.4L844 415.4L843.5 415.4L843 415.4L842.5 415.4L842 415.4L841.5 415.4L841 415.4L840.5 415.4L840 415.4L839.5 415.4L839 415.4L838.5 415.4L838 415.4L837.5 415.4L837 415.4L836.5 415.4L836 415.4L835.5 415.4L835 415.4L834.5 415.4L834 415.4L833.5 415.4L833 415.4L832.5 415.4L832 415.4L831.5 415.4L831 415.4L830.5 415.4L830 415.4L829.5 415.4L829 415.4L828.5 415.4L828 415.4L827.5 415.4L827 415.4L826.5 415.4L826 415.4L825.5 415.4L825 415.4L824.5 415.4L824 415.4L823.5 415.4L823 415.4L822.5 415.4L822 415.4L821.5 415.4L821 415.4L820.5 415.4L820 415.4L819.5 415.4L819 415.4L818.5 415.4L818 415.4L817.5 415.4L817 414.68L816.5 413.97L816 413.25L815.5 412.54L815 411.82L814.5 411.11L814 410.39L813.5 409.68L813 408.96L812.5 408.25L812 407.53L811.5 406.82L811 406.1L810.5 405.39L810 405.05L809.5 404.97L809 404.89L808.5 404.8L808 404.72L807.5 404.64L807 404.56L806.5 404.48L806 404.39L805.5 404.31L805 404.23L804.5 404.15L804 404.06L803.5 403.98L803 403.9L802.5 403.87L802 403.85L801.5 403.82L801 403.79L800.5 403.76L800 403.74L799.5 403.71L799 403.68L798.5 403.66L798 403.63L797.5 403.6L797 403.58L796.5 403.55L796 403.52L795.5 403.22L795 401.83L794.5 400.44L794 399.06L793.5 397.67L793 396.28L792.5 394.89L792 393.5L791.5 392.11L791 390.72L790.5 389.33L790 387.94L789.5 386.56L789 385.17L788.5 383.78L788 383.5L787.5 383.5L787 383.5L786.5 383.5L786 383.5L785.5 383.5L785 383.5L784.5 383.5L784 383.5L783.5 383.5L783 383.5L782.5 383.5L782 383.5L781.5 383.5L781 383.5L780.5 383.5L780 383.5L779.5 383.5L779 383.5L778.5 383.5L778 383.5L777.5 383.5L777 383.5L776.5 383.5L776 383.5L775.5 383.5L775 383.5L774.5 383.5L774 383.5L773.5 383.5L773 383.5L772.5 383.5L772 383.5L771.5 383.5L771 383.5L770.5 383.5L770 383.5L769.5 383.5L769 383.5L768.5 383.5L768 383.5L767.5 383.5L767 383.5L766.5 383.5L766 383.28L765.5 383L765 382.72L764.5 382.45L764 382.17L763.5 381.89L763 381.62L762.5 381.34L762 381.06L761.5 380.79L761 380.51L760.5 380.23L760 379.95L759.5 379.68L759 379.4L758.5 379.4L758 379.4L757.5 379.39L757 379.39L756.5 379.39L756 379.39L755.5 379.39L755 379.38L754.5 379.38L754 379.38L753.5 379.38L753 379.38L752.5 379.38L752 379.37L751.5 379.37L751 379.37L750.5 379.37L750 379.37L749.5 379.36L749 379.36L748.5 379.36L748 379.36L747.5 379.36L747 379.35L746.5 379.35L746 379.35L745.5 379.35L745 379.35L744.5 379.34L744 379.34L743.5 379.34L743 379.34L742.5 379.34L742 379.34L741.5 379.33L741 379.33L740.5 379.33L740 379.33L739.5 379.33L739 379.32L738.5 379.32L738 379.32L737.5 379.32L737 379.32L736.5 379.31L736 379.31L735.5 379.31L735 379.31L734.5 379.31L734 379.3L733.5 379.3L733 379.3L732.5 379.3L732 379.3L731.5 379.3L731 379.29L730.5 379.29L730 379.29L729.5 379.29L729 379.29L728.5 379.28L728 379.28L727.5 379.28L727 379.28L726.5 379.28L726 379.27L725.5 379.27L725 379.27L724.5 379.27L724 379.27L723.5 379.26L723 379.26L722.5 379.26L722 379.26L721.5 379.26L721 379.26L720.5 379.25L720 379.25L719.5 379.25L719 379.25L718.5 379.25L718 379.24L717.5 379.24L717 379.24L716.5 379.24L716 379.24L715.5 379.23L715 379.23L714.5 379.23L714 379.23L713.5 379.23L713 379.22L712.5 379.22L712 379.22L711.5 379.22L711 379.22L710.5 379.22L710 379.21L709.5 379.21L709 379.21L708.5 379.21L708 379.21L707.5 379.2L707 379.2L706.5 379.2L706 379.2L705.5 379.2L705 379.19L704.5 379.19L704 379.19L703.5 379.19L703 379.19L702.5 379.18L702 379.18L701.5 379.18L701 379.18L700.5 379.18L700 379.18L699.5 379.17L699 379.17L698.5 379.17L698 379.17L697.5 379.17L697 379.16L696.5 379.16L696 379.16L695.5 379.16L695 379.16L694.5 379.15L694 379.15L693.5 379.15L693 379.15L692.5 379.15L692 379.14L691.5 379.14L691 379.14L690.5 379.14L690 379.14L689.5 379.14L689 379.13L688.5 379.13L688 379.13L687.5 379.13L687 379.13L686.5 379.12L686 379.12L685.5 379.12L685 379.12L684.5 379.12L684 379.11L683.5 379.11L683 379.11L682.5 379.11L682 379.11L681.5 379.1L681 379.1L680.5 379.1L680 379.1L679.5 379.1L679 379.1L678.5 379.09L678 379.09L677.5 379.09L677 379.09L676.5 379.09L676 379.08L675.5 379.08L675 379.08L674.5 379.08L674 379.08L673.5 379.07L673 379.07L672.5 379.07L672 379.07L671.5 379.07L671 379.06L670.5 379.06L670 379.06L669.5 379.06L669 379.06L668.5 379.06L668 379.05L667.5 379.05L667 379.05L666.5 379.05L666 379.05L665.5 379.04L665 379.04L664.5 379.04L664 379.04L663.5 379.04L663 379.03L662.5 379.03L662 379.03L661.5 379.03L661 379.03L660.5 379.02L660 379.02L659.5 379.02L659 379.02L658.5 379.02L658 379.02L657.5 379.01L657 379.01L656.5 379.01L656 379.01L655.5 379.01L655 379L654.5 379L654 379L653.5 379L653 379L652.5 378.99L652 378.99L651.5 378.99L651 378.99L650.5 378.99L650 378.98L649.5 378.98L649 378.98L648.5 378.98L648 378.98L647.5 378.98L647 378.97L646.5 378.97L646 378.97L645.5 378.97L645 378.97L644.5 378.96L644 378.96L643.5 378.96L643 378.96L642.5 378.96L642 378.95L641.5 378.95L641 378.95L640.5 378.95L640 378.95L639.5 378.94L639 378.94L638.5 378.94L638 378.94L637.5 378.94L637 378.94L636.5 378.93L636 378.93L635.5 378.93L635 378.93L634.5 378.93L634 378.92L633.5 378.92L633 378.92L632.5 378.92L632 378.92L631.5 378.91L631 378.91L630.5 378.91L630 378.91L629.5 378.91L629 378.9L628.5 378.9L628 378.9L627.5 378.76L627 378.41L626.5 378.06L626 377.72L625.5 377.37L625 377.02L624.5 376.67L624 376.32L623.5 375.97L623 375.63L622.5 375.28L622 374.93L621.5 374.58L621 374.23L620.5 373.88L620 373.54L619.5 373.19L619 372.84L618.5 372.49L618 372.14L617.5 371.8L617 371.45L616.5 371.1L616 370.75L615.5 370.4L615 370.05L614.5 369.71L614 369.36L613.5 369.01L613 368.71L612.5 368.47L612 368.23L611.5 368L611 367.76L610.5 367.52L610 367.29L609.5 367.05L609 366.81L608.5 366.58L608 366.34L607.5 366.1L607 365.87L606.5 365.63L606 365.39L605.5 365.3L605 365.29L604.5 365.28L604 365.28L603.5 365.27L603 365.26L602.5 365.25L602 365.25L601.5 365.24L601 365.23L600.5 365.23L600 365.22L599.5 365.21L599 365.21L598.5 365.2L598 365.19L597.5 365.19L597 365.18L596.5 365.17L596 365.16L595.5 365.16L595 365.15L594.5 365.14L594 365.14L593.5 365.13L593 365.12L592.5 365.12L592 365.11L591.5 365.1L591 364.89L590.5 364.54L590 364.19L589.5 363.84L589 363.49L588.5 363.14L588 362.79L587.5 362.45L587 362.1L586.5 361.75L586 361.4L585.5 361.05L585 360.7L584.5 360.35L584 360L583.5 359.99L583 359.97L582.5 359.96L582 359.95L581.5 359.93L581 359.92L580.5 359.9Z" fill="rgba(255,0,255,0.055)" stroke="none"/>
<path d="M953 484.06L953.5 484.06L954 484.05L954.5 484.05L955 484.05L955.5 484.04L956 484.04L956.5 484.03L957 484.03L957.5 484.02L958 484.02L958.5 484.01L959 484.01L959.5 484L960 484L960.5 483.99L961 483.99L961.5 483.99L962 483.98L962.5 483.98L963 483.97L963.5 483.97L964 483.96L964.5 483.96L965 483.95L965.5 483.95L966 483.94L966.5 483.94L967 483.94L967.5 483.93L968 483.93L968.5 483.92L969 483.92L969.5 483.91L970 483.91L970.5 483.9L971 483.84L971.5 483.55L972 483.25L972.5 482.95L973 482.66L973.5 482.36L974 482.07L974.5 481.77L975 481.47L975.5 481.18L976 480.88L976.5 480.59L977 480.29L977.5 480L978 479.7L978.5 476.74L979 473.78L979.5 470.82L980 467.86L980.5 464.9L981 461.94L981.5 458.98L982 456.02L982.5 453.06L983 450.11L983.5 447.15L984 444.19L984.5 441.23L985 438.27L985.5 435.74L986 434.97L986.5 434.19L987 433.41L987.5 432.64L988 431.86L988.5 431.08L989 430.31L989.5 429.53L990 428.75L990.5 427.97L991 427.2L991.5 426.42L992 425.64L992.5 424.87L993 424.18L993.5 423.62L994 423.07L994.5 422.51L995 421.96L995.5 421.4L996 420.84L996.5 420.29L997 419.73L997.5 419.18L998 418.62L998.5 418.07L999 417.51L999.5 416.96L1000 416.4L1000.5 416L1001 415.61L1001.5 415.21L1002 414.81L1002.5 414.41L1003 414.02L1003.5 413.62L1004 413.22L1004.5 412.82L1005 412.43L1005.5 412.03L1006 411.63L1006.5 411.24L1007 410.84L1007.5 410.6L1008 410.6L1008.5 410.6L1009 410.6L1009.5 410.6L1010 410.6L1010.5 410.6L1011 410.6L1011.5 410.6L1012 410.6L1012.5 410.6L1013 410.6L1013.5 410.6L1014 410.6L1014.5 410.6L1015 410.6L1015.5 410.6L1016 410.6L1016.5 410.6L1017 410.6L1017.5 410.6L1018 410.6L1018.5 410.6L1019 410.6L1019.5 410.6L1020 410.6L1020.5 410.6L1021 410.6L1021.5 410.6L1022 410.51L1022.5 410.27L1023 410.03L1023.5 409.8L1024 409.56L1024.5 409.32L1025 409.09L1025.5 408.85L1026 408.61L1026.5 408.38L1027 408.14L1027.5 407.9L1028 407.67L1028.5 407.43L1029 407.19L1029.5 406.87L1030 406.48L1030.5 406.1L1031 405.71L1031.5 405.33L1032 404.94L1032.5 404.56L1033 404.17L1033.5 403.79L1034 403.4L1034.5 403.02L1035 402.63L1035.5 402.25L1036 401.86L1036.5 401.48L1037 398.87L1037.5 395.71L1038 392.55L1038.5 389.38L1039 386.22L1039.5 383.06L1040 379.9L1040.5 376.74L1041 373.57L1041.5 370.41L1042 367.25L1042.5 364.09L1043 360.93L1043.5 357.76L1044 354.98L1044.5 352.44L1045 349.89L1045.5 347.35L1046 344.81L1046.5 342.27L1047 339.73L1047.5 337.19L1048 334.65L1048.5 332.11L1049 329.57L1049.5 327.03L1050 324.49L1050.5 321.95L1051 319.41L1051.5 318.36L1052 317.7L1052.5 317.03L1053 316.36L1053.5 315.69L1054 315.02L1054.5 314.35L1055 313.68L1055.5 313.01L1056 312.34L1056.5 311.68L1057 311.01L1057.5 310.34L1058 309.67L1058.5 309L1059 308.75L1059.5 308.51L1060 308.26L1060.5 308.01L1061 307.77L1061.5 307.52L1062 307.27L1062.5 307.03L1063 306.78L1063.5 306.53L1064 306.29L1064.5 306.04L1065 305.79L1065.5 305.55L1066 305.36L1066.5 305.26L1067 305.17L1067.5 305.07L1068 304.97L1068.5 304.88L1069 304.78L1069.5 304.68L1070 304.58L1070.5 304.49L1071 304.39L1071.5 304.29L1072 304.19L1072.5 304.1L1073 304L1073.5 304L1074 304L1074.5 304L1075 304L1075.5 304L1076 304L1076.5 304L1077 304L1077.5 304L1078 304L1078.5 304L1079 304L1079.5 304L1080 304L1080.5 304L1081 304L1081.5 304L1082 304L1082.5 304L1083 304L1083.5 304L1084 304L1084.5 304L1085 304L1085.5 304L1086 304L1086.5 304L1087 304L1087.5 304L1088 304L1088.5 304L1089 304L1089.5 304L1090 304L1090.5 304L1091 304L1091.5 304L1092 304L1092.5 304L1093 304L1093.5 304L1094 304L1094.5 304L1095 304L1095.5 303.18L1096 302.37L1096.5 301.55L1097 300.73L1097.5 299.92L1098 299.1L1098.5 298.28L1099 297.46L1099.5 296.65L1100 295.83L1100.5 295.01L1101 294.2L1101.5 293.38L1102 292.56L1102.5 291.93L1103 291.34L1103.5 290.75L1104 290.17L1104.5 289.58L1105 288.99L1105.5 288.4L1106 287.81L1106.5 287.23L1107 286.64L1107.5 286.05L1108 285.46L1108.5 284.88L1109 284.29L1109.5 283.7L1110 283.64L1110.5 283.58L1111 283.52L1111.5 283.46L1112 283.4L1112.5 283.34L1113 283.27L1113.5 283.21L1114 283.15L1114.5 283.09L1115 283.03L1115.5 282.97L1116 282.91L1116.5 282.85L1117 282.69L1117.5 282.12L1118 281.55L1118.5 280.97L1119 280.4L1119.5 279.83L1120 279.26L1120.5 278.69L1121 278.12L1121.5 277.55L1122 276.98L1122.5 276.41L1123 275.84L1123.5 275.27L1124 274.7L1124.5 273.53L1125 272.36L1125.5 271.19L1126 270.02L1126.5 268.86L1127 267.69L1127.5 266.52L1128 265.35L1128.5 264.18L1129 263.01L1129.5 261.84L1130 260.67L1130.5 259.5L1131 258.34L1131.5 257.33L1132 256.97L1132.5 256.61L1133 256.25L1133.5 255.9L1134 255.54L1134.5 255.18L1135 254.82L1135.5 254.46L1136 254.11L1136.5 253.75L1137 253.39L1137.5 253.03L1138 252.67L1138.5 252.31L1139 252.1L1139.5 252.1L1140 252.1L1140.5 252.1L1141 252.1L1141.5 252.1L1142 252.1L1142.5 252.1L1143 252.1L1143.5 252.1L1144 252.1L1144.5 252.1L1145 252.1L1145.5 252.1L1146 251.94L1146.5 251.13L1147 250.32L1147.5 249.51L1148 248.69L1148.5 247.88L1149 247.07L1149.5 246.26L1150 245.45L1150.5 244.64L1151 243.83L1151.5 243.02L1152 242.21L1152.5 241.4L1153 240.59L1153.5 240L1154 239.75L1154.5 239.51L1155 239.26L1155.5 239.02L1156 238.77L1156.5 238.52L1157 238.28L1157.5 238.03L1158 237.78L1158.5 237.54L1159 237.29L1159.5 237.04L1160 236.8L1160.5 236.55L1161 236.32L1161.5 236.09L1162 235.86L1162.5 235.63L1163 235.4L1163.5 235.17L1164 234.94L1164.5 234.71L1165 234.48L1165.5 234.25L1166 234.02L1166.5 233.8L1167 233.57L1167.5 233.34L1168 232.86L1168.5 232.01L1169 231.16L1169.5 230.31L1170 229.45L1170.5 228.6L1171 227.75L1171.5 226.9L1172 226.05L1172.5 225.2L1173 224.35L1173.5 223.49L1174 222.64L1174.5 221.79L1175 220.94L1175.5 220.49L1176 220.32L1176.5 220.14L1177 219.96L1177.5 219.78L1178 219.6L1178.5 219.42L1179 219.25L1179.5 219.07L1180 218.89L1180.5 218.71L1181 218.53L1181.5 218.36L1182 218.18L1182.5 218L1183 217.84L1183.5 217.69L1184 217.53L1184.5 217.38L1185 217.22L1185.5 217.07L1186 216.91L1186.5 216.76L1187 216.6L1187.5 216.45L1188 216.29L1188.5 216.14L1189 215.98L1189.5 215.82L1190 215.7L1190.5 215.7L1191 215.7L1191.5 215.7L1192 215.7L1192.5 215.7L1193 215.7L1193.5 215.7L1194 215.7L1194.5 215.7L1195 215.7L1195.5 215.7L1196 215.7L1196.5 215.7L1197 215.7L1197.5 215.7L1198 215.7L1198.5 215.7L1199 215.7L1199.5 215.7L1200 215.7L1200.5 215.7L1201 215.7L1201.5 215.7L1202 215.7L1202.5 215.7L1203 215.7L1203.5 215.7L1204 215.7L1204.5 215.7L1205 215.7L1205.5 215.7L1206 215.7L1206.5 215.7L1207 215.7L1207.5 215.7L1208 215.7L1208.5 215.7L1209 215.7L1209.5 215.7L1210 215.7L1210.5 215.7L1211 215.7L1211.5 215.7L1212 215.72L1212.5 215.78L1213 215.84L1213.5 215.89L1214 215.95L1214.5 216L1215 216.06L1215.5 216.12L1216 216.17L1216.5 216.23L1217 216.29L1217.5 216.34L1218 216.4L1218.5 216.45L1219 216.41L1219.5 215.94L1220 215.47L1220.5 215.01L1221 214.54L1221.5 214.08L1222 213.61L1222.5 213.14L1223 212.68L1223.5 212.21L1224 211.74L1224.5 211.28L1225 210.81L1225.5 210.35L1226 209.88L1226.5 209.48L1227 209.17L1227.5 208.87L1228 208.57L1228.5 208.26L1229 207.96L1229.5 207.65L1230 207.35L1230.5 207.05L1231 206.74L1231.5 206.44L1232 206.13L1232.5 205.83L1233 205.53L1233.5 205.22L1234 205.12L1234.5 205.16L1235 205.19L1235.5 205.23L1236 205.26L1236.5 205.3L1237 205.33L1237.5 205.37L1238 205.4L1238.5 205.44L1239 205.47L1239.5 205.51L1240 205.54L1240.5 205.58L1241 205.64L1241.5 205.75L1242 205.86L1242.5 205.97L1243 206.08L1243.5 206.18L1244 206.29L1244.5 206.4L1245 206.51L1245.5 206.62L1246 206.72L1246.5 206.83L1247 206.94L1247.5 207.05L1248 207.16L1248.5 207.29L1249 207.45L1249.5 207.6L1250 207.76L1250.5 207.91L1251 208.07L1251.5 208.23L1252 208.38L1252.5 208.54L1253 208.69L1253.5 208.85L1254 209L1254.5 209.16L1255 209.31L1255.5 209.47L1256 209.67L1256.5 209.88L1257 210.09L1257.5 210.3L1258 210.51L1258.5 210.73L1259 210.94L1259.5 211.15L1260 211.36L1260.5 211.57L1261 211.78L1261.5 211.99L1262 212.2L1262.5 212.42L1263 212.52L1263.5 212.54L1264 212.57L1264.5 212.6L1265 212.62L1265.5 212.65L1266 212.68L1266.5 212.71L1267 212.73L1267.5 212.76L1268 212.79L1268.5 212.81L1269 212.84L1269.5 212.87L1270 212.89L1270.5 212.98L1271 213.07L1271.5 213.17L1272 213.26L1272.5 213.36L1273 213.46L1273.5 213.55L1274 213.65L1274.5 213.74L1275 213.84L1275.5 213.94L1276 214.03L1276.5 214.13L1277 214.22L1277.5 214.24L1278 213.97L1278.5 213.69L1279 213.41L1279.5 213.14L1280 212.86L1280.5 212.58L1281 212.31L1281.5 212.03L1282 211.75L1282.5 211.47L1283 211.2L1283.5 210.92L1284 210.64L1284.5 210.37L1285 210.04L1285.5 209.64L1286 209.23L1286.5 208.83L1287 208.43L1287.5 208.02L1288 207.62L1288.5 207.22L1289 206.82L1289.5 206.41L1290 206.01L1290.5 205.61L1291 205.21L1291.5 204.8L1292 204.4L1292.5 203.66L1293 202.92L1293.5 202.18L1294 201.44L1294.5 200.7L1295 199.96L1295.5 199.22L1296 198.48L1296.5 197.74L1297 197L1297.5 196.26L1298 195.52L1298.5 194.78L1299 194.04L1299.5 193.24L1300 192.33L1300.5 191.43L1301 190.52L1301.5 189.62L1302 188.71L1302.5 187.81L1303 186.9L1303.5 185.99L1304 185.09L1304.5 184.18L1305 183.28L1305.5 182.37L1306 181.47L1306.5 180.56L1307 179.95L1307.5 179.53L1308 179.11L1308.5 178.69L1309 178.27L1309.5 177.85L1310 177.44L1310.5 177.02L1311 176.6L1311.5 176.18L1312 175.76L1312.5 175.34L1313 174.92L1313.5 174.5L1314 174.08L1314.5 173.94L1315 173.86L1315.5 173.78L1316 173.71L1316.5 173.63L1317 173.55L1317.5 173.47L1318 173.4L1318.5 173.32L1319 173.24L1319.5 173.16L1320 173.09L1320.5 173.01L1321 172.93L1321.5 172.85L1322 172.77L1322.5 172.69L1323 172.61L1323.5 172.53L1324 172.45L1324.5 172.36L1325 172.28L1325.5 172.2L1326 172.12L1326.5 172.04L1327 171.96L1327.5 171.88L1328 171.8L1328.5 171.72L1329 171.64L1329.5 171.56L1330 171.48L1330.5 171.41L1331 171.33L1331.5 171.25L1332 171.17L1332.5 171.1L1333 171.02L1333.5 170.94L1334 170.86L1334.5 170.79L1335 170.71L1335.5 170.63L1336 170.15L1336.5 169.4L1337 168.65L1337.5 167.9L1338 167.15L1338.5 166.4L1339 165.65L1339.5 164.9L1340 164.15L1340.5 163.4L1341 162.65L1341.5 161.9L1342 161.15L1342.5 160.4L1343 159.65L1343.5 159.13L1344 158.66L1344.5 158.19L1345 157.73L1345.5 157.26L1346 156.8L1346.5 156.33L1347 155.86L1347.5 155.4L1348 154.93L1348.5 154.46L1349 154L1349.5 153.53L1350 153.07L1350.5 152.6L1351 152.4L1351.5 152.21L1352 152.01L1352.5 151.81L1353 151.61L1353.5 151.42L1354 151.22L1354.5 151.02L1355 150.83L1355.5 150.63L1356 150.43L1356.5 150.23L1357 150.04L1357.5 149.84L1358 149.77L1358.5 149.73L1359 149.69L1359.5 149.65L1360 149.61L1360.5 149.56L1361 149.52L1361.5 149.48L1362 149.44L1362.5 149.4L1363 149.36L1363.5 149.32L1364 149.28L1364.5 149.24L1365 149.2L1365.5 149.2L1366 149.2L1366.5 149.21L1367 149.21L1367.5 149.21L1368 149.21L1368.5 149.21L1369 149.22L1369.5 149.22L1370 149.22L1370.5 149.22L1371 149.22L1371.5 149.23L1372 149.23L1372.5 149.23L1373 149.23L1373.5 149.23L1374 149.24L1374.5 149.24L1375 149.24L1375.5 149.24L1376 149.24L1376.5 149.24L1377 149.25L1377.5 149.25L1378 149.25L1378.5 149.25L1379 149.25L1379.5 149.26L1380 149.26L1380.5 149.26L1381 149.26L1381.5 149.26L1382 149.27L1382.5 149.27L1383 149.27L1383.5 149.27L1384 149.27L1384.5 149.28L1385 149.28L1385.5 149.28L1386 149.28L1386.5 149.28L1387 149.29L1387.5 149.29L1388 149.29L1388.5 149.29L1389 149.29L1389.5 149.3L1390 149.3L1390.5 149.3L1391 149.3L1391.5 149.3L1392 149.31L1392.5 149.31L1393 149.31L1393.5 149.31L1394 149.31L1394.5 149.32L1395 149.32L1395.5 149.32L1396 149.32L1396.5 149.32L1397 149.32L1397.5 149.33L1398 149.33L1398.5 149.33L1399 149.33L1399.5 149.33L1400 149.34L1400.5 149.34L1401 149.34L1401.5 149.34L1402 149.34L1402.5 149.35L1403 149.35L1403.5 149.35L1404 149.35L1404.5 149.35L1405 149.36L1405.5 149.36L1406 149.36L1406.5 149.36L1407 149.36L1407.5 149.37L1408 149.37L1408.5 149.37L1409 149.37L1409.5 149.37L1410 149.38L1410.5 149.38L1411 149.38L1411.5 149.38L1412 149.38L1412.5 149.39L1413 149.39L1413.5 149.39L1414 149.39L1414.5 149.39L1415 149.4L1415.5 149.4L1416 149.4L1416.5 149.63L1417 150L1417.5 150.38L1418 150.76L1418.5 151.13L1419 151.51L1419.5 151.89L1420 152.26L1420.5 152.64L1421 153.02L1421.5 153.39L1422 153.77L1422.5 154.15L1423 154.52L1423.5 154.9L1424 155L1424.5 155.11L1425 155.21L1425.5 155.32L1426 155.42L1426.5 155.53L1427 155.63L1427.5 155.73L1428 155.84L1428.5 155.94L1429 156.05L1429.5 156.15L1430 156.25L1430.5 156.36L1431 156.4L1431.5 156.4L1432 156.4L1432.5 156.4L1433 156.4L1433.5 156.4L1434 156.4L1434.5 156.4L1435 156.4L1435.5 156.4L1436 156.4L1436.5 156.4L1437 156.4L1437.5 156.4L1438 156.4L1438.5 157.21L1439 158.02L1439.5 158.83L1440 159.64L1440.5 160.45L1441 161.26L1441.5 162.08L1442 162.89L1442.5 163.7L1443 164.51L1443.5 165.32L1444 166.13L1444.5 166.94L1445 167.75L1445.5 168.41L1446 168.43L1446.5 168.46L1447 168.49L1447.5 168.52L1448 168.54L1448.5 168.57L1449 168.6L1449.5 168.62L1450 168.65L1450.5 168.68L1451 168.71L1451.5 168.73L1452 168.76L1452.5 168.79L1452.5 178.9L1452 178.9L1451.5 178.9L1451 178.9L1450.5 178.9L1450 178.9L1449.5 178.9L1449 178.9L1448.5 178.9L1448 178.9L1447.5 178.9L1447 178.9L1446.5 178.9L1446 178.9L1445.5 178.9L1445 178.9L1444.5 178.9L1444 178.9L1443.5 178.9L1443 178.9L1442.5 178.9L1442 178.9L1441.5 178.9L1441 178.9L1440.5 178.9L1440 178.9L1439.5 178.9L1439 178.9L1438.5 178.9L1438 178.9L1437.5 178.9L1437 178.9L1436.5 178.9L1436 178.9L1435.5 178.9L1435 178.9L1434.5 178.9L1434 178.9L1433.5 178.9L1433 178.9L1432.5 178.9L1432 178.9L1431.5 178.9L1431 178.9L1430.5 178.94L1430 179.05L1429.5 179.15L1429 179.25L1428.5 179.36L1428 179.46L1427.5 179.57L1427 179.67L1426.5 179.78L1426 179.88L1425.5 179.98L1425 180.09L1424.5 180.19L1424 180.3L1423.5 180.4L1423 181.11L1422.5 181.82L1422 182.54L1421.5 183.25L1421 183.96L1420.5 184.67L1420 185.39L1419.5 186.1L1419 186.81L1418.5 187.52L1418 188.24L1417.5 188.95L1417 189.66L1416.5 190.37L1416 191.24L1415.5 192.35L1415 193.46L1414.5 194.57L1414 195.68L1413.5 196.78L1413 197.89L1412.5 199L1412 200.11L1411.5 201.22L1411 202.32L1410.5 203.43L1410 204.54L1409.5 205.65L1409 206.76L1408.5 207.21L1408 207.22L1407.5 207.23L1407 207.24L1406.5 207.25L1406 207.27L1405.5 207.28L1405 207.29L1404.5 207.3L1404 207.31L1403.5 207.33L1403 207.34L1402.5 207.35L1402 207.36L1401.5 207.37L1401 207.39L1400.5 207.4L1400 207.41L1399.5 207.42L1399 207.43L1398.5 207.45L1398 207.46L1397.5 207.47L1397 207.48L1396.5 207.49L1396 207.51L1395.5 207.52L1395 207.53L1394.5 207.54L1394 207.55L1393.5 207.57L1393 207.58L1392.5 207.59L1392 207.6L1391.5 207.61L1391 207.63L1390.5 207.64L1390 207.65L1389.5 207.66L1389 207.67L1388.5 207.68L1388 207.7L1387.5 207.71L1387 207.72L1386.5 207.73L1386 207.74L1385.5 207.76L1385 207.77L1384.5 207.78L1384 207.79L1383.5 207.8L1383 207.82L1382.5 207.83L1382 207.84L1381.5 207.85L1381 207.86L1380.5 207.88L1380 207.89L1379.5 207.9L1379 207.95L1378.5 208L1378 208.05L1377.5 208.1L1377 208.15L1376.5 208.2L1376 208.25L1375.5 208.29L1375 208.34L1374.5 208.39L1374 208.44L1373.5 208.49L1373 208.54L1372.5 208.59L1372 208.72L1371.5 208.88L1371 209.04L1370.5 209.19L1370 209.35L1369.5 209.5L1369 209.66L1368.5 209.81L1368 209.97L1367.5 210.12L1367 210.28L1366.5 210.43L1366 210.59L1365.5 210.74L1365 210.9L1364.5 211.79L1364 212.67L1363.5 213.56L1363 214.44L1362.5 215.33L1362 216.21L1361.5 217.1L1361 217.98L1360.5 218.87L1360 219.75L1359.5 220.64L1359 221.52L1358.5 222.41L1358 223.29L1357.5 224.06L1357 224.39L1356.5 224.71L1356 225.04L1355.5 225.36L1355 225.68L1354.5 226.01L1354 226.33L1353.5 226.66L1353 226.98L1352.5 227.3L1352 227.63L1351.5 227.95L1351 228.28L1350.5 228.6L1350 228.99L1349.5 229.38L1349 229.78L1348.5 230.17L1348 230.56L1347.5 230.95L1347 231.34L1346.5 231.74L1346 232.13L1345.5 232.52L1345 232.91L1344.5 233.3L1344 233.69L1343.5 234.09L1343 234.56L1342.5 235.37L1342 236.18L1341.5 236.99L1341 237.81L1340.5 238.62L1340 239.43L1339.5 240.24L1339 241.05L1338.5 241.86L1338 242.67L1337.5 243.48L1337 244.29L1336.5 245.1L1336 245.91L1335.5 246.4L1335 246.4L1334.5 246.4L1334 246.4L1333.5 246.4L1333 246.4L1332.5 246.4L1332 246.4L1331.5 246.4L1331 246.4L1330.5 246.4L1330 246.4L1329.5 246.4L1329 246.4L1328.5 246.4L1328 246.4L1327.5 246.4L1327 246.4L1326.5 246.4L1326 246.4L1325.5 246.4L1325 246.4L1324.5 246.4L1324 246.4L1323.5 246.4L1323 246.4L1322.5 246.4L1322 246.4L1321.5 246.4L1321 246.42L1320.5 246.47L1320 246.52L1319.5 246.57L1319 246.62L1318.5 246.67L1318 246.72L1317.5 246.76L1317 246.81L1316.5 246.86L1316 246.91L1315.5 246.96L1315 247.01L1314.5 247.06L1314 247.22L1313.5 247.85L1313 248.47L1312.5 249.09L1312 249.71L1311.5 250.33L1311 250.95L1310.5 251.58L1310 252.2L1309.5 252.82L1309 253.44L1308.5 254.06L1308 254.68L1307.5 255.31L1307 255.93L1306.5 256.64L1306 257.49L1305.5 258.34L1305 259.19L1304.5 260.05L1304 260.9L1303.5 261.75L1303 262.6L1302.5 263.45L1302 264.3L1301.5 265.15L1301 266.01L1300.5 266.86L1300 267.71L1299.5 268.56L1299 269.21L1298.5 269.72L1298 270.23L1297.5 270.75L1297 271.26L1296.5 271.77L1296 272.29L1295.5 272.8L1295 273.31L1294.5 273.82L1294 274.34L1293.5 274.85L1293 275.36L1292.5 275.88L1292 276.39L1291.5 276.8L1291 276.8L1290.5 276.8L1290 276.8L1289.5 276.8L1289 276.8L1288.5 276.8L1288 276.8L1287.5 276.8L1287 276.8L1286.5 276.8L1286 276.8L1285.5 276.8L1285 276.8L1284.5 276.8L1284 276.8L1283.5 276.8L1283 276.8L1282.5 276.8L1282 276.8L1281.5 276.8L1281 276.8L1280.5 276.8L1280 276.8L1279.5 276.8L1279 276.8L1278.5 276.8L1278 276.8L1277.5 276.8L1277 276.8L1276.5 276.8L1276 276.8L1275.5 276.8L1275 276.8L1274.5 276.8L1274 276.8L1273.5 276.8L1273 276.8L1272.5 276.8L1272 276.8L1271.5 276.8L1271 276.8L1270.5 276.8L1270 276.8L1269.5 276.8L1269 276.8L1268.5 276.8L1268 276.8L1267.5 276.8L1267 276.8L1266.5 276.8L1266 276.8L1265.5 276.8L1265 276.8L1264.5 276.8L1264 276.8L1263.5 276.8L1263 276.8L1262.5 276.84L1262 277.01L1261.5 277.19L1261 277.36L1260.5 277.54L1260 277.71L1259.5 277.89L1259 278.06L1258.5 278.24L1258 278.42L1257.5 278.59L1257 278.77L1256.5 278.94L1256 279.12L1255.5 279.29L1255 279.59L1254.5 280.05L1254 280.52L1253.5 280.99L1253 281.45L1252.5 281.92L1252 282.38L1251.5 282.85L1251 283.32L1250.5 283.78L1250 284.25L1249.5 284.71L1249 285.18L1248.5 285.65L1248 286.11L1247.5 286.42L1247 286.61L1246.5 286.8L1246 286.99L1245.5 287.18L1245 287.37L1244.5 287.57L1244 287.76L1243.5 287.95L1243 288.14L1242.5 288.33L1242 288.52L1241.5 288.72L1241 288.91L1240.5 289.1L1240 289.1L1239.5 289.1L1239 289.1L1238.5 289.1L1238 289.1L1237.5 289.1L1237 289.1L1236.5 289.1L1236 289.1L1235.5 289.1L1235 289.1L1234.5 289.1L1234 289.1L1233.5 289.1L1233 289.1L1232.5 289.1L1232 289.1L1231.5 289.1L1231 289.1L1230.5 289.1L1230 289.1L1229.5 289.1L1229 289.1L1228.5 289.1L1228 289.1L1227.5 289.1L1227 289.1L1226.5 289.1L1226 289.1L1225.5 289.1L1225 289.1L1224.5 289.1L1224 289.1L1223.5 289.1L1223 289.1L1222.5 289.1L1222 289.1L1221.5 289.1L1221 289.1L1220.5 289.1L1220 289.1L1219.5 289.1L1219 289.1L1218.5 289.1L1218 289.1L1217.5 289.1L1217 289.1L1216.5 289.1L1216 289.1L1215.5 289.1L1215 289.1L1214.5 289.1L1214 289.1L1213.5 289.1L1213 289.1L1212.5 289.1L1212 289.1L1211.5 289.1L1211 289.1L1210.5 289.1L1210 289.1L1209.5 289.1L1209 289.1L1208.5 289.1L1208 289.1L1207.5 289.1L1207 289.1L1206.5 289.1L1206 289.1L1205.5 289.1L1205 289.1L1204.5 289.1L1204 289.1L1203.5 289.1L1203 289.1L1202.5 289.1L1202 289.1L1201.5 289.1L1201 289.1L1200.5 289.1L1200 289.1L1199.5 289.1L1199 289.1L1198.5 289.1L1198 289.1L1197.5 289.1L1197 289.1L1196.5 289.1L1196 289.1L1195.5 289.1L1195 289.1L1194.5 289.1L1194 289.1L1193.5 289.1L1193 289.1L1192.5 289.1L1192 289.1L1191.5 289.1L1191 289.1L1190.5 289.1L1190 289.1L1189.5 289.1L1189 289.1L1188.5 289.1L1188 289.1L1187.5 289.1L1187 289.1L1186.5 289.1L1186 289.1L1185.5 289.1L1185 289.1L1184.5 289.1L1184 289.1L1183.5 289.1L1183 289.1L1182.5 289.1L1182 289.1L1181.5 289.69L1181 290.42L1180.5 291.15L1180 291.88L1179.5 292.61L1179 293.34L1178.5 294.07L1178 294.8L1177.5 295.54L1177 296.27L1176.5 297L1176 297.73L1175.5 298.46L1175 298.98L1174.5 299.16L1174 299.35L1173.5 299.54L1173 299.73L1172.5 299.92L1172 300.11L1171.5 300.3L1171 300.49L1170.5 300.68L1170 300.87L1169.5 301.06L1169 301.25L1168.5 301.44L1168 301.62L1167.5 301.7L1167 301.7L1166.5 301.7L1166 301.7L1165.5 301.7L1165 301.7L1164.5 301.7L1164 301.7L1163.5 301.7L1163 301.7L1162.5 301.7L1162 301.7L1161.5 301.7L1161 301.7L1160.5 301.7L1160 301.7L1159.5 301.7L1159 301.7L1158.5 301.7L1158 301.7L1157.5 301.7L1157 301.7L1156.5 301.7L1156 301.7L1155.5 301.7L1155 301.7L1154.5 301.7L1154 301.7L1153.5 301.7L1153 302.23L1152.5 303.12L1152 304L1151.5 304.89L1151 305.77L1150.5 306.66L1150 307.54L1149.5 308.43L1149 309.31L1148.5 310.2L1148 311.08L1147.5 311.97L1147 312.85L1146.5 313.74L1146 314.62L1145.5 314.81L1145 314.81L1144.5 314.82L1144 314.83L1143.5 314.83L1143 314.84L1142.5 314.85L1142 314.85L1141.5 314.86L1141 314.87L1140.5 314.88L1140 314.88L1139.5 314.89L1139 314.9L1138.5 315.15L1138 315.56L1137.5 315.97L1137 316.38L1136.5 316.8L1136 317.21L1135.5 317.62L1135 318.03L1134.5 318.44L1134 318.86L1133.5 319.27L1133 319.68L1132.5 320.09L1132 320.51L1131.5 320.92L1131 322.23L1130.5 323.78L1130 325.32L1129.5 326.86L1129 328.41L1128.5 329.95L1128 331.49L1127.5 333.03L1127 334.58L1126.5 336.12L1126 337.66L1125.5 339.21L1125 340.75L1124.5 342.29L1124 343.09L1123.5 343.7L1123 344.31L1122.5 344.92L1122 345.53L1121.5 346.14L1121 346.76L1120.5 347.37L1120 347.98L1119.5 348.59L1119 349.2L1118.5 349.81L1118 350.42L1117.5 351.03L1117 351.64L1116.5 352.26L1116 352.5L1115.5 352.5L1115 352.5L1114.5 352.5L1114 352.5L1113.5 352.5L1113 352.5L1112.5 352.5L1112 352.5L1111.5 352.5L1111 352.5L1110.5 352.5L1110 352.5L1109.5 352.5L1109 352.5L1108.5 352.5L1108 352.5L1107.5 352.5L1107 352.5L1106.5 352.5L1106 352.5L1105.5 352.5L1105 352.5L1104.5 352.5L1104 352.5L1103.5 352.5L1103 352.5L1102.5 352.5L1102 352.5L1101.5 352.5L1101 352.5L1100.5 352.5L1100 352.5L1099.5 352.5L1099 352.5L1098.5 352.5L1098 352.5L1097.5 352.5L1097 352.5L1096.5 352.5L1096 352.5L1095.5 352.5L1095 352.5L1094.5 352.5L1094 352.5L1093.5 352.5L1093 352.5L1092.5 352.5L1092 352.5L1091.5 352.5L1091 352.5L1090.5 352.5L1090 352.5L1089.5 352.5L1089 352.5L1088.5 352.5L1088 352.5L1087.5 352.5L1087 352.5L1086.5 352.5L1086 352.5L1085.5 352.5L1085 352.5L1084.5 352.5L1084 352.5L1083.5 352.5L1083 352.5L1082.5 352.5L1082 352.5L1081.5 352.5L1081 352.5L1080.5 352.5L1080 352.5L1079.5 352.5L1079 352.5L1078.5 352.5L1078 352.5L1077.5 352.5L1077 352.5L1076.5 352.5L1076 352.5L1075.5 352.5L1075 352.5L1074.5 352.5L1074 352.5L1073.5 352.5L1073 352.5L1072.5 352.5L1072 352.5L1071.5 352.5L1071 352.5L1070.5 352.5L1070 352.5L1069.5 352.5L1069 352.5L1068.5 352.5L1068 352.5L1067.5 352.5L1067 352.5L1066.5 352.5L1066 352.5L1065.5 352.5L1065 352.5L1064.5 352.5L1064 352.5L1063.5 352.5L1063 352.5L1062.5 352.5L1062 352.5L1061.5 352.5L1061 352.5L1060.5 352.5L1060 352.5L1059.5 352.5L1059 352.5L1058.5 352.5L1058 353L1057.5 353.5L1057 354L1056.5 354.5L1056 355L1055.5 355.5L1055 356L1054.5 356.5L1054 357L1053.5 357.5L1053 358L1052.5 358.5L1052 359L1051.5 359.5L1051 360.27L1050.5 362.15L1050 364.02L1049.5 365.89L1049 367.76L1048.5 369.63L1048 371.5L1047.5 373.38L1047 375.25L1046.5 377.12L1046 378.99L1045.5 380.86L1045 382.73L1044.5 384.61L1044 386.48L1043.5 389.01L1043 392.53L1042.5 396.05L1042 399.57L1041.5 403.09L1041 406.61L1040.5 410.14L1040 413.66L1039.5 417.18L1039 420.7L1038.5 424.22L1038 427.74L1037.5 431.26L1037 434.78L1036.5 437.62L1036 437.71L1035.5 437.79L1035 437.88L1034.5 437.97L1034 438.06L1033.5 438.14L1033 438.23L1032.5 438.32L1032 438.41L1031.5 438.5L1031 438.58L1030.5 438.67L1030 438.76L1029.5 438.85L1029 438.96L1028.5 439.1L1028 439.24L1027.5 439.38L1027 439.52L1026.5 439.67L1026 439.81L1025.5 439.95L1025 440.09L1024.5 440.23L1024 440.38L1023.5 440.52L1023 440.66L1022.5 440.8L1022 440.94L1021.5 441L1021 441L1020.5 441L1020 441L1019.5 441L1019 441L1018.5 441L1018 441L1017.5 441L1017 441L1016.5 441L1016 441L1015.5 441L1015 441L1014.5 441L1014 441L1013.5 441L1013 441L1012.5 441L1012 441L1011.5 441L1011 441L1010.5 441L1010 441L1009.5 441L1009 441L1008.5 441L1008 441L1007.5 441L1007 441.27L1006.5 441.71L1006 442.16L1005.5 442.6L1005 443.05L1004.5 443.49L1004 443.94L1003.5 444.38L1003 444.83L1002.5 445.27L1002 445.72L1001.5 446.16L1001 446.61L1000.5 447.05L1000 447.5L999.5 448.01L999 448.51L998.5 449.02L998 449.53L997.5 450.03L997 450.54L996.5 451.05L996 451.56L995.5 452.06L995 452.57L994.5 453.08L994 453.58L993.5 454.09L993 454.6L992.5 455.18L992 455.81L991.5 456.43L991 457.06L990.5 457.69L990 458.32L989.5 458.95L989 459.58L988.5 460.2L988 460.83L987.5 461.46L987 462.09L986.5 462.72L986 463.35L985.5 463.97L985 465.61L984.5 467.49L984 469.38L983.5 471.26L983 473.15L982.5 475.03L982 476.92L981.5 478.8L981 480.69L980.5 482.57L980 484.46L979.5 486.34L979 488.23L978.5 490.11L978 492L977.5 492.01L977 492.01L976.5 492.02L976 492.03L975.5 492.03L975 492.04L974.5 492.05L974 492.06L973.5 492.06L973 492.07L972.5 492.08L972 492.08L971.5 492.09L971 492.1L970.5 492.1L970 492.11L969.5 492.12L969 492.12L968.5 492.13L968 492.14L967.5 492.15L967 492.15L966.5 492.16L966 492.17L965.5 492.17L965 492.18L964.5 492.19L964 492.19L963.5 492.2L963 492.21L962.5 492.22L962 492.22L961.5 492.23L961 492.24L960.5 492.24L960 492.25L959.5 492.26L959 492.26L958.5 492.27L958 492.28L957.5 492.28L957 492.29L956.5 492.3L956 491.38L955.5 490.23L955 489.08L954.5 487.94L954 486.79L953.5 485.64L953 484.49Z" fill="rgba(0,255,0,0.052)" stroke="none"/>
<polyline points="13.2,509.4 21.3,504.5 63.2,504.5 71.3,472.9 78.7,472.9 87.4,465.8 94.5,464.8 101.9,457.1 116.5,456.8 130.3,451.3 139,430.3 145.5,415.8 152.9,403.4 166.9,403.4 174.2,400.9 181.6,398.1 189,394.1 196.8,388.9 202.8,386.8 232.8,386.8 239.7,384.6 247,383.8 254.4,383.6 261.8,382.4 292,382.4 299,379.5 306,369.4 314,368.2 321,360 327.9,345.7 357.8,345.2 364.7,342.4 547.4,342.6 554.7,345.6 562.1,359.4 584,360 591.3,365.1 605.8,365.3 613.2,368.8 627.7,378.9 759,379.4 766.4,383.5 788.4,383.5 795.6,403.5 803,403.9 810.3,405.1 817.5,415.4 890.5,415.4 897.9,416.8 905,422.6 912.4,428.8 919.8,438.7 927.1,454.6 934.3,467.3 941.7,472.6 949,475.3 956.4,492.3 978,492 985.4,464.1 992.8,454.8 1000,447.5 1007.3,441 1021.8,441 1029.2,438.9 1036.6,437.6 1043.7,387.6 1051.1,359.9 1058.5,352.5 1116.3,352.5 1124.4,342.6 1131.4,321 1138.8,314.9 1145.9,314.8 1153.3,301.7 1167.8,301.7 1175.2,298.9 1181.9,289.1 1240.5,289.1 1247.8,286.3 1255.2,279.4 1262.6,276.8 1291.6,276.8 1299.3,268.9 1306.7,256.3 1314.1,247.1 1321.2,246.4 1335.7,246.4 1343.1,234.4 1350.5,228.6 1357.6,224 1365,210.9 1372.4,208.6 1379.5,207.9 1408.8,207.2 1416.2,190.8 1423.5,180.4 1430.7,178.9 1452.7,178.9" fill="none" stroke="#ff00ff" stroke-width="1.35" stroke-linejoin="round"/>
<polyline points="12.8,445.3 21,439.2 40.4,438.6 51.5,435 64,433.6 72.2,408.2 79.2,408.2 87.5,402.7 94.4,401.8 101.3,397.1 109,391.6 116.5,381.9 130.3,373.3 145.5,336.8 152.5,329.9 166.3,329.9 176,323.8 181.5,319.4 195.3,320.2 203.5,323.8 219.6,323.8 233.4,329.5 243.8,331.8 255.3,345.7 262.7,349.1 277.2,352.6 284.6,364.1 299,364.6 306.7,366.4 314,367.1 321,368.7 328.3,370.3 336,374.9 342.9,375.6 350.2,369.4 364.7,371 371.7,388.3 379.7,389 394.2,389.4 401.5,386.4 408.7,393.3 416,384.1 423.4,377.8 430.6,356.4 438,355.9 445.3,354.1 459.8,353.4 481.7,353.4 496.2,358.7 503.6,362.2 511,361 518.3,351.1 525.5,348.8 540,348.3 547.4,344.2 554.7,346.7 574.3,352.5 584,364.6 591.3,374.3 598.4,376.6 605.8,381.2 613.2,391.1 620.5,401.5 627.7,414.1 635,415.3 642.2,424.5 657,425.2 671.5,428.7 686.2,429.1 701,429.1 708.1,427.3 715.5,429.8 722.6,432.1 730,432.6 737.1,439.5 744.5,442.9 751.9,443.6 759,450.6 766.4,465.5 788.2,466.1 795.6,496.3 803,496.8 810.3,507.8 817.5,508.3 854.1,508.3 861.2,505.5 868.6,496.8 876,496.8 883.1,496.3 890.5,494.9 897.9,494.5 905,491.7 912.4,492.2 919.8,496.3 927.1,495.9 934.3,494.9 941.7,488.7 949,484.1 970.9,483.9 978,479.7 985.4,435.9 992.8,424.4 1000,416.4 1007.3,410.6 1021.8,410.6 1029.2,407.1 1036.6,401.4 1043.7,356.5 1051.1,318.9 1058.5,309 1065.8,305.4 1073,304 1095,304 1102.1,292.4 1109.5,283.7 1116.9,282.8 1124,274.7 1131.4,257.4 1138.8,252.1 1145.9,252.1 1153.3,240.1 1160.6,236.5 1167.8,233.2 1175.2,220.6 1182.5,218 1189.9,215.7 1211.8,215.7 1218.9,216.5 1226.3,209.6 1233.7,205.1 1240.8,205.6 1248.2,207.2 1255.6,209.5 1262.7,212.5 1270.1,212.9 1277.4,214.3 1284.8,210.2 1292,204.4 1299.3,193.6 1306.7,180.2 1314.1,174 1321.2,172.9 1328.6,171.7 1335.7,170.6 1343.1,159.5 1350.5,152.6 1357.6,149.8 1365,149.2 1416.2,149.4 1423.5,154.9 1430.7,156.4 1438,156.4 1445.4,168.4 1452.7,168.8" fill="none" stroke="#00ff00" stroke-width="1.35" stroke-linejoin="round"/>
<path d="M444.15 331h2.7v9h-2.7ZM441 334.15h9v2.7h-9Z" fill="#ff0000"/>
<circle cx="445.5" cy="334.3" r="5.4" fill="#00eaff"/>
<path d="M444.15 331h2.7v9h-2.7ZM441 334.15h9v2.7h-9Z" fill="#ff0000"/>
<circle cx="240.5" cy="333.5" r="5.4" fill="#00eaff"/>
<circle cx="262.5" cy="348.4" r="5.4" fill="#00eaff"/>
<circle cx="357.5" cy="332.5" r="5.4" fill="#00eaff"/>
<circle cx="547.5" cy="315.4" r="5.4" fill="#00eaff"/>
<circle cx="415.5" cy="415.2" r="5.4" fill="#00eaff"/>
<circle cx="510.5" cy="404.3" r="5.4" fill="#00eaff"/>
<circle cx="744.5" cy="404.5" r="5.4" fill="#00eaff"/>
<circle cx="853.5" cy="469.6" r="5.4" fill="#00eaff"/>
<circle cx="934.5" cy="500.7" r="5.4" fill="#00eaff"/>
<circle cx="1189.5" cy="234.4" r="5.4" fill="#00eaff"/>
<circle cx="1277.5" cy="263.2" r="5.4" fill="#00eaff"/>
<circle cx="1408.5" cy="190.3" r="5.4" fill="#00eaff"/>
<circle cx="1423.5" cy="140.4" r="5.4" fill="#00eaff"/>
<circle cx="1080.5" cy="239" r="5.4" fill="#0000ff"/>
<circle cx="1094.5" cy="237.4" r="5.4" fill="#0000ff"/>
<circle cx="1153.5" cy="141.5" r="5.4" fill="#ff00ff"/>
<circle cx="21.5" cy="364.5" r="7.3" fill="#ff0000"/>
<circle cx="87.5" cy="316" r="7.3" fill="#ff0000"/>
<circle cx="101.5" cy="304.5" r="7.3" fill="#ff0000"/>
<circle cx="123.5" cy="303.6" r="7.3" fill="#ff0000"/>
<circle cx="152.5" cy="257.2" r="7.3" fill="#ff0000"/>
<circle cx="233.5" cy="412.5" r="7.3" fill="#ff0000"/>
<circle cx="255.5" cy="428.6" r="7.3" fill="#ff0000"/>
<circle cx="284.5" cy="451.7" r="7.3" fill="#ff0000"/>
<circle cx="452.5" cy="436.4" r="7.3" fill="#ff0000"/>
<circle cx="612.5" cy="495.5" r="7.3" fill="#ff0000"/>
<circle cx="627.5" cy="525.9" r="7.3" fill="#ff0000"/>
<circle cx="627.5" cy="535.6" r="7.3" fill="#ff9840"/>
<circle cx="715.5" cy="415.3" r="7.3" fill="#ff0000"/>
<circle cx="1124.5" cy="200.3" r="7.3" fill="#ff0000"/>
<circle cx="1138.5" cy="165.3" r="7.3" fill="#ff0000"/>
<circle cx="1240.5" cy="243.6" r="7.3" fill="#ff0000"/>
<circle cx="1248.5" cy="248" r="7.3" fill="#ff0000"/>
<circle cx="1262.5" cy="252.4" r="7.3" fill="#ff0000"/>
<circle cx="1248.5" cy="252.4" r="7.3" fill="#ff9840"/>
<circle cx="1321.5" cy="111.6" r="7.3" fill="#ff0000"/>
<circle cx="1357.5" cy="95" r="7.3" fill="#ff0000"/>
<circle cx="423.5" cy="303.4" r="7.3" fill="#00ff00"/>
<circle cx="1058.5" cy="205.3" r="7.3" fill="#00ff00"/>
<circle cx="1014.5" cy="333.4" r="7.3" fill="#8f8f8f"/>
<circle cx="1438.5" cy="221.2" r="7.3" fill="#8f8f8f"/>
<circle cx="445.5" cy="340.3" r="7.3" fill="#929292"/>
<circle cx="445.5" cy="340.3" r="3.5" fill="#8f2a2a"/>
<circle cx="1065.5" cy="216.4" r="7.3" fill="#929292"/>
<circle cx="1065.5" cy="216.4" r="3.5" fill="#8f2a2a"/>
<circle cx="1321.5" cy="106.5" r="7.3" fill="#929292"/>
<circle cx="1321.5" cy="106.5" r="3.5" fill="#8f2a2a"/>
<path d="M312.15 351h2.7v9h-2.7ZM309 354.15h9v2.7h-9Z" fill="#ff0000"/>
<path d="M305.15 414h2.7v9h-2.7ZM302 417.15h9v2.7h-9Z" fill="#3aa76d"/>
<path d="M1086.15 270.2h2.7v9h-2.7ZM1083 273.35h9v2.7h-9Z" fill="#3aa76d"/>
<g shape-rendering="crispEdges">
<path d="M14 377h1V403h-1ZM43 429h1V453h-1ZM50 425h1V443h-1ZM58 388h1V428h-1ZM65 375h1V392h-1ZM72 329h1V408h-1ZM94 320h1V356h-1ZM116 309h1V370h-1ZM123 306h1V325h-1ZM138 295h1V345h-1ZM145 273h1V307h-1ZM167 299h1V328h-1ZM174 259h1V299h-1ZM204 341h1V369h-1ZM211 328h1V365h-1ZM233 367h1V404h-1ZM255 380h1V421h-1ZM262 368h1V405h-1ZM284 402h1V443h-1ZM291 406h1V428h-1ZM299 394h1V428h-1ZM306 380h1V406h-1ZM342 395h1V445h-1ZM350 351h1V386h-1ZM372 406h1V430h-1ZM393 389h1V408h-1ZM408 363h1V404h-1ZM415 332h1V373h-1ZM430 286h1V344h-1ZM459 362h1V392h-1ZM466 348h1V378h-1ZM481 348h1V393h-1ZM496 326h1V370h-1ZM510 312h1V360h-1ZM518 300h1V339h-1ZM532 314h1V347h-1ZM612 455h1V483h-1ZM627 439h1V512h-1ZM664 467h1V513h-1ZM685 450h1V487h-1ZM693 440h1V455h-1ZM707 427h1V466h-1ZM715 424h1V447h-1ZM722 439h1V454h-1ZM737 430h1V442h-1ZM780 490h1V519h-1ZM788 511h1V527h-1ZM802 502h1V582h-1ZM817 470h1V534h-1ZM832 490h1V506h-1ZM846 474h1V499h-1ZM875 492h1V525h-1ZM890 464h1V487h-1ZM897 464h1V482h-1ZM905 452h1V474h-1ZM919 469h1V487h-1ZM941 454h1V469h-1ZM948 439h1V468h-1ZM970 450h1V470h-1ZM985 373h1V434h-1ZM992 361h1V385h-1ZM999 349h1V376h-1ZM1014 345h1V374h-1ZM1029 335h1V365h-1ZM1036 333h1V372h-1ZM1043 268h1V319h-1ZM1051 228h1V288h-1ZM1058 217h1V238h-1ZM1072 251h1V276h-1ZM1080 250h1V273h-1ZM1109 237h1V274h-1ZM1116 229h1V250h-1ZM1131 177h1V233h-1ZM1138 169h1V196h-1ZM1153 152h1V187h-1ZM1189 165h1V205h-1ZM1219 190h1V208h-1ZM1240 221h1V236h-1ZM1248 216h1V242h-1ZM1262 225h1V245h-1ZM1270 221h1V238h-1ZM1277 208h1V231h-1ZM1284 171h1V219h-1ZM1292 163h1V188h-1ZM1299 145h1V179h-1ZM1306 126h1V150h-1ZM1313 116h1V146h-1ZM1335 126h1V154h-1ZM1343 100h1V141h-1ZM1350 107h1V130h-1ZM1372 107h1V127h-1ZM1401 130h1V163h-1ZM1408 138h1V159h-1Z" fill="#089981"/>
<path d="M21 370h1V410h-1ZM28 398h1V427h-1ZM36 403h1V431h-1ZM79 338h1V390h-1ZM87 323h1V374h-1ZM101 312h1V351h-1ZM109 350h1V374h-1ZM131 313h1V343h-1ZM152 262h1V312h-1ZM160 291h1V328h-1ZM182 263h1V314h-1ZM189 314h1V344h-1ZM196 317h1V348h-1ZM218 318h1V355h-1ZM225 352h1V384h-1ZM240 352h1V386h-1ZM247 376h1V395h-1ZM269 359h1V431h-1ZM277 409h1V435h-1ZM313 375h1V420h-1ZM320 425h1V451h-1ZM328 434h1V454h-1ZM335 429h1V457h-1ZM357 352h1V397h-1ZM364 390h1V432h-1ZM379 419h1V441h-1ZM386 408h1V429h-1ZM401 377h1V406h-1ZM423 321h1V345h-1ZM437 287h1V306h-1ZM445 356h1V415h-1ZM452 385h1V426h-1ZM474 318h1V357h-1ZM488 352h1V375h-1ZM503 326h1V366h-1ZM525 304h1V335h-1ZM539 322h1V357h-1ZM547 336h1V367h-1ZM554 358h1V384h-1ZM561 376h1V396h-1ZM569 384h1V417h-1ZM576 388h1V427h-1ZM583 422h1V455h-1ZM591 441h1V472h-1ZM598 424h1V449h-1ZM605 431h1V468h-1ZM620 439h1V497h-1ZM634 451h1V477h-1ZM642 461h1V488h-1ZM649 478h1V513h-1ZM656 485h1V510h-1ZM671 451h1V482h-1ZM678 473h1V498h-1ZM700 455h1V472h-1ZM729 415h1V434h-1ZM744 428h1V464h-1ZM751 460h1V481h-1ZM759 478h1V506h-1ZM766 506h1V527h-1ZM773 501h1V525h-1ZM795 532h1V596h-1ZM810 493h1V532h-1ZM824 485h1V513h-1ZM839 482h1V504h-1ZM853 497h1V517h-1ZM861 499h1V519h-1ZM868 512h1V538h-1ZM883 468h1V497h-1ZM912 457h1V469h-1ZM926 449h1V466h-1ZM934 442h1V455h-1ZM956 452h1V473h-1ZM963 456h1V476h-1ZM978 432h1V449h-1ZM1007 338h1V359h-1ZM1021 343h1V369h-1ZM1065 223h1V257h-1ZM1087 220h1V266h-1ZM1094 248h1V286h-1ZM1102 258h1V284h-1ZM1124 205h1V246h-1ZM1145 181h1V202h-1ZM1160 156h1V199h-1ZM1167 185h1V203h-1ZM1175 187h1V216h-1ZM1182 195h1V233h-1ZM1197 173h1V207h-1ZM1204 193h1V208h-1ZM1211 183h1V215h-1ZM1226 199h1V230h-1ZM1233 217h1V233h-1ZM1255 212h1V237h-1ZM1321 117h1V151h-1ZM1328 148h1V175h-1ZM1357 102h1V125h-1ZM1365 103h1V136h-1ZM1379 100h1V122h-1ZM1386 147h1V177h-1ZM1394 142h1V173h-1ZM1416 142h1V166h-1ZM1423 156h1V200h-1ZM1430 186h1V207h-1ZM1438 193h1V207h-1ZM1445 195h1V222h-1ZM1452 210h1V231h-1Z" fill="#f23645"/>
<path d="M12 385h5v1h-5ZM41 435h5V439h-5ZM48 429h5V432h-5ZM56 388h5V411h-5ZM63 384h5V387h-5ZM70 346h5V395h-5ZM92 340h5V350h-5ZM114 312h5V357h-5ZM121 315h5V322h-5ZM136 307h5V330h-5ZM143 280h5V300h-5ZM165 303h5V314h-5ZM172 286h5V298h-5ZM202 348h5v1h-5ZM209 331h5V352h-5ZM231 374h5V379h-5ZM253 384h5V406h-5ZM260 384h5V388h-5ZM282 413h5V438h-5ZM289 414h5v1h-5ZM297 394h5V416h-5ZM304 382h5V392h-5ZM340 397h5V445h-5ZM348 357h5V377h-5ZM370 408h5V418h-5ZM391 397h5V408h-5ZM406 380h5V395h-5ZM413 332h5V355h-5ZM428 292h5V344h-5ZM457 380h5V392h-5ZM464 358h5V378h-5ZM479 354h5V389h-5ZM494 345h5V367h-5ZM508 329h5V360h-5ZM516 310h5V332h-5ZM530 322h5V341h-5ZM610 457h5V481h-5ZM625 457h5V507h-5ZM662 476h5V514h-5ZM683 452h5V484h-5ZM691 450h5v1h-5ZM705 434h5V466h-5ZM713 439h5V447h-5ZM720 441h5V448h-5ZM735 431h5V435h-5ZM778 498h5V516h-5ZM786 519h5V527h-5ZM800 520h5V579h-5ZM815 479h5V522h-5ZM830 497h5V501h-5ZM844 492h5V495h-5ZM873 498h5V525h-5ZM888 469h5V487h-5ZM895 467h5V475h-5ZM903 462h5v1h-5ZM917 469h5V474h-5ZM939 459h5V462h-5ZM946 449h5V463h-5ZM968 453h5V459h-5ZM983 385h5V433h-5ZM990 367h5V375h-5ZM997 352h5V376h-5ZM1012 346h5V374h-5ZM1027 354h5V364h-5ZM1034 335h5V363h-5ZM1041 279h5V299h-5ZM1049 229h5V279h-5ZM1056 230h5V238h-5ZM1070 262h5V268h-5ZM1078 261h5V267h-5ZM1107 239h5V270h-5ZM1114 230h5V234h-5ZM1129 179h5V229h-5ZM1136 188h5V193h-5ZM1151 172h5V181h-5ZM1187 167h5V203h-5ZM1217 195h5V199h-5ZM1238 226h5V229h-5ZM1246 218h5V229h-5ZM1260 229h5v1h-5ZM1268 224h5V229h-5ZM1275 212h5V228h-5ZM1282 175h5V213h-5ZM1290 169h5V178h-5ZM1297 147h5V176h-5ZM1304 142h5v1h-5ZM1311 119h5V141h-5ZM1333 135h5V141h-5ZM1341 115h5V139h-5ZM1348 111h5V127h-5ZM1370 118h5V125h-5ZM1399 153h5V159h-5ZM1406 149h5v1h-5Z" fill="#089981"/>
<path d="M19 376h5V398h-5ZM26 401h5V424h-5ZM34 411h5V427h-5ZM77 355h5V360h-5ZM85 361h5v1h-5ZM99 320h5V345h-5ZM107 352h5V367h-5ZM129 314h5V331h-5ZM150 262h5V304h-5ZM158 304h5V323h-5ZM180 266h5V314h-5ZM187 321h5V343h-5ZM194 331h5V342h-5ZM216 323h5V354h-5ZM223 359h5V379h-5ZM238 366h5V386h-5ZM245 379h5V393h-5ZM267 373h5V425h-5ZM275 413h5V427h-5ZM311 382h5V419h-5ZM318 425h5V439h-5ZM326 436h5V445h-5ZM333 433h5V449h-5ZM355 358h5V385h-5ZM362 401h5V416h-5ZM377 428h5v1h-5ZM384 415h5V423h-5ZM399 391h5V406h-5ZM421 328h5V333h-5ZM435 295h5V305h-5ZM443 364h5V406h-5ZM450 389h5V396h-5ZM472 354h5v1h-5ZM486 356h5V367h-5ZM501 338h5V363h-5ZM523 310h5V330h-5ZM537 322h5V344h-5ZM545 339h5V366h-5ZM552 362h5V380h-5ZM559 380h5V393h-5ZM567 385h5V399h-5ZM574 392h5V426h-5ZM581 431h5V436h-5ZM589 448h5V451h-5ZM596 431h5V444h-5ZM603 437h5V467h-5ZM618 444h5V492h-5ZM632 454h5v1h-5ZM640 461h5V481h-5ZM647 486h5v1h-5ZM654 497h5V507h-5ZM669 461h5V481h-5ZM676 473h5V497h-5ZM698 456h5V470h-5ZM727 426h5V429h-5ZM742 433h5V460h-5ZM749 466h5V479h-5ZM757 484h5V502h-5ZM764 514h5V520h-5ZM771 506h5V509h-5ZM793 536h5V555h-5ZM808 494h5V525h-5ZM822 495h5V505h-5ZM837 485h5V496h-5ZM851 505h5V511h-5ZM859 505h5V510h-5ZM866 516h5V531h-5ZM881 473h5V492h-5ZM910 459h5V464h-5ZM924 456h5V460h-5ZM932 450h5V454h-5ZM954 453h5V469h-5ZM961 459h5V463h-5ZM976 435h5V448h-5ZM1005 347h5V351h-5ZM1019 343h5V360h-5ZM1063 225h5V252h-5ZM1085 234h5V265h-5ZM1092 265h5V271h-5ZM1100 270h5v1h-5ZM1122 228h5V237h-5ZM1143 194h5V202h-5ZM1158 161h5V198h-5ZM1165 187h5V199h-5ZM1173 187h5V215h-5ZM1180 210h5V221h-5ZM1195 176h5V203h-5ZM1202 194h5V207h-5ZM1209 191h5V207h-5ZM1224 199h5V224h-5ZM1231 220h5V233h-5ZM1253 216h5V233h-5ZM1319 117h5V151h-5ZM1326 148h5V159h-5ZM1355 102h5V115h-5ZM1363 115h5V128h-5ZM1377 115h5V121h-5ZM1384 149h5V159h-5ZM1392 146h5V167h-5ZM1414 144h5V157h-5ZM1421 161h5V197h-5ZM1428 192h5V206h-5ZM1436 202h5V207h-5ZM1443 197h5V214h-5ZM1450 216h5V227h-5Z" fill="#f23645"/>
<path d="M20 377h3V397h-3ZM64 385h3V386h-3ZM71 347h3V394h-3ZM78 356h3V359h-3ZM93 341h3V349h-3ZM144 281h3V299h-3ZM151 263h3V303h-3ZM173 287h3V297h-3ZM312 383h3V418h-3ZM349 358h3V376h-3ZM356 359h3V384h-3ZM363 402h3V415h-3ZM371 409h3V417h-3ZM400 392h3V405h-3ZM407 381h3V394h-3ZM414 333h3V354h-3ZM422 329h3V332h-3ZM429 293h3V343h-3ZM436 296h3V304h-3ZM480 355h3V388h-3ZM487 357h3V366h-3ZM495 346h3V366h-3ZM502 339h3V362h-3ZM517 311h3V331h-3ZM524 311h3V329h-3ZM663 477h3V513h-3ZM670 462h3V480h-3ZM677 474h3V496h-3ZM684 453h3V483h-3ZM714 440h3V446h-3ZM801 521h3V578h-3ZM809 495h3V524h-3ZM816 480h3V521h-3ZM823 496h3V504h-3ZM831 498h3V500h-3ZM838 486h3V495h-3ZM882 474h3V491h-3ZM889 470h3V486h-3ZM896 468h3V474h-3ZM911 460h3V463h-3ZM955 454h3V468h-3ZM977 436h3V447h-3ZM984 386h3V432h-3ZM991 368h3V374h-3ZM998 353h3V375h-3ZM1006 348h3V350h-3ZM1042 280h3V298h-3ZM1050 230h3V278h-3ZM1057 231h3V237h-3ZM1064 226h3V251h-3ZM1130 180h3V228h-3ZM1137 189h3V192h-3ZM1144 195h3V201h-3ZM1152 173h3V180h-3ZM1283 176h3V212h-3ZM1291 170h3V177h-3ZM1298 148h3V175h-3ZM1312 120h3V140h-3ZM1356 103h3V114h-3ZM1364 116h3V127h-3ZM1371 119h3V124h-3Z" fill="#00ff00"/>
<path d="M35 412h3V426h-3ZM42 436h3V438h-3ZM49 430h3V431h-3ZM57 389h3V410h-3ZM108 353h3V366h-3ZM115 313h3V356h-3ZM130 315h3V330h-3ZM137 308h3V329h-3ZM159 305h3V322h-3ZM166 304h3V313h-3ZM181 267h3V313h-3ZM188 322h3V342h-3ZM195 332h3V341h-3ZM210 332h3V351h-3ZM217 324h3V353h-3ZM254 385h3V405h-3ZM276 414h3V426h-3ZM327 437h3V444h-3ZM334 434h3V448h-3ZM341 398h3V444h-3ZM385 416h3V422h-3ZM392 398h3V407h-3ZM451 390h3V395h-3ZM458 381h3V391h-3ZM465 359h3V377h-3ZM509 330h3V359h-3ZM538 323h3V343h-3ZM546 340h3V365h-3ZM553 363h3V379h-3ZM560 381h3V392h-3ZM568 386h3V398h-3ZM575 393h3V425h-3ZM582 432h3V435h-3ZM750 467h3V478h-3ZM758 485h3V501h-3ZM765 515h3V519h-3ZM772 507h3V508h-3ZM860 506h3V509h-3ZM867 517h3V530h-3ZM874 499h3V524h-3ZM962 460h3V462h-3ZM969 454h3V458h-3ZM1035 336h3V362h-3ZM1086 235h3V264h-3ZM1093 266h3V270h-3ZM1166 188h3V198h-3ZM1174 188h3V214h-3ZM1181 211h3V220h-3ZM1188 168h3V202h-3ZM1196 177h3V202h-3ZM1225 200h3V223h-3ZM1232 221h3V232h-3ZM1239 227h3V228h-3ZM1247 219h3V228h-3ZM1342 116h3V138h-3ZM1349 112h3V126h-3ZM1378 116h3V120h-3ZM1385 150h3V158h-3ZM1393 147h3V166h-3ZM1400 154h3V158h-3ZM1415 145h3V156h-3ZM1429 193h3V205h-3ZM1437 203h3V206h-3ZM1444 198h3V213h-3ZM1451 217h3V226h-3Z" fill="#ff0000"/>
<path d="M27 402h3V423h-3ZM100 321h3V344h-3ZM122 316h3V321h-3ZM224 360h3V378h-3ZM232 375h3V378h-3ZM239 367h3V385h-3ZM246 380h3V392h-3ZM261 385h3V387h-3ZM268 374h3V424h-3ZM283 414h3V437h-3ZM298 395h3V415h-3ZM305 383h3V391h-3ZM319 426h3V438h-3ZM444 365h3V405h-3ZM531 323h3V340h-3ZM590 449h3V450h-3ZM597 432h3V443h-3ZM604 438h3V466h-3ZM611 458h3V480h-3ZM619 445h3V491h-3ZM626 458h3V506h-3ZM641 462h3V480h-3ZM655 498h3V506h-3ZM699 457h3V469h-3ZM706 435h3V465h-3ZM721 442h3V447h-3ZM728 427h3V428h-3ZM736 432h3V434h-3ZM743 434h3V459h-3ZM779 499h3V515h-3ZM787 520h3V526h-3ZM794 537h3V554h-3ZM845 493h3V494h-3ZM852 506h3V510h-3ZM918 470h3V473h-3ZM925 457h3V459h-3ZM933 451h3V453h-3ZM940 460h3V461h-3ZM947 450h3V462h-3ZM1013 347h3V373h-3ZM1020 344h3V359h-3ZM1028 355h3V363h-3ZM1071 263h3V267h-3ZM1079 262h3V266h-3ZM1108 240h3V269h-3ZM1115 231h3V233h-3ZM1123 229h3V236h-3ZM1159 162h3V197h-3ZM1203 195h3V206h-3ZM1210 192h3V206h-3ZM1218 196h3V198h-3ZM1254 217h3V232h-3ZM1269 225h3V228h-3ZM1276 213h3V227h-3ZM1320 118h3V150h-3ZM1327 149h3V158h-3ZM1334 136h3V140h-3ZM1422 162h3V196h-3Z" fill="#000000"/>
</g>
</g>
<path d="M13 227.5H1682" stroke="#ff0000" stroke-width="1" stroke-dasharray="1 2" fill="none"/>
<path d="M1718.9 217V237.8H1684a2 2 0 0 1 -2 -2V219a2 2 0 0 1 2 -2Z" fill="#ff0000"/>
<text x="1687.8" y="232.8" style="color:#fff;font-size:14.6px" textLength="26.5" lengthAdjust="spacingAndGlyphs">SMR</text>
<path d="M1720 217H1793.4a2 2 0 0 1 2 2V253.9a2 2 0 0 1 -2 2H1720Z" fill="#ff0000"/>
<text x="1731.3" y="231.9" style="color:#fff;font-size:14.6px" textLength="36.5" lengthAdjust="spacingAndGlyphs">35,67</text>
<text x="1731.3" y="249.8" style="color:#ffcdcd;font-size:14.6px" textLength="58.4" lengthAdjust="spacingAndGlyphs">01:42:30</text>
<text x="1730.6" y="89.85" style="font-size:14.7px" textLength="36.6" lengthAdjust="spacingAndGlyphs">56,00</text>
<text x="1730.6" y="138" style="font-size:14.7px" textLength="36.6" lengthAdjust="spacingAndGlyphs">48,00</text>
<text x="1730.6" y="191.9" style="font-size:14.7px" textLength="36.6" lengthAdjust="spacingAndGlyphs">40,50</text>
<text x="1730.6" y="280.9" style="font-size:14.7px" textLength="36.6" lengthAdjust="spacingAndGlyphs">30,50</text>
<text x="1730.6" y="325" style="font-size:14.7px" textLength="36.6" lengthAdjust="spacingAndGlyphs">26,50</text>
<text x="1730.6" y="377.1" style="font-size:14.7px" textLength="36.6" lengthAdjust="spacingAndGlyphs">22,50</text>
<text x="1730.6" y="422.2" style="font-size:14.7px" textLength="36.6" lengthAdjust="spacingAndGlyphs">19,50</text>
<text x="1730.6" y="474.9" style="font-size:14.7px" textLength="36.6" lengthAdjust="spacingAndGlyphs">16,50</text>
<text x="1730.6" y="515.3" style="font-size:14.7px" textLength="36.6" lengthAdjust="spacingAndGlyphs">14,50</text>
<text x="1730.6" y="561.8" style="font-size:14.7px" textLength="36.6" lengthAdjust="spacingAndGlyphs">12,50</text>
<text x="1730.6" y="604.85" style="font-size:14.7px" textLength="36.6" lengthAdjust="spacingAndGlyphs">10,90</text>
<text x="1730.6" y="690.5" style="font-size:14.7px" textLength="36.6" lengthAdjust="spacingAndGlyphs">12,00</text>
<text x="1730.6" y="645.4" style="font-size:14.7px" textLength="28.8" lengthAdjust="spacingAndGlyphs">9,60</text>
<rect x="1722" y="647" width="76" height="6" fill="#fff"/>
<text x="1730.6" y="734.8" style="font-size:14.7px" textLength="28.8" lengthAdjust="spacingAndGlyphs">8,00</text>
<rect x="1724" y="39.2" width="72.1" height="31.6" rx="5" fill="#fff" stroke="#eeeef0" stroke-width="1.5"/>
<text x="1735.5" y="59.8" textLength="26.5" lengthAdjust="spacingAndGlyphs">USD</text>
<text x="35.8" y="780.8" text-anchor="middle">Nov</text>
<text x="181.8" y="780.8" text-anchor="middle">Dez</text>
<text x="334.8" y="780.8" text-anchor="middle" font-weight="bold" textLength="33.6" lengthAdjust="spacingAndGlyphs">2025</text>
<text x="480.8" y="780.8" text-anchor="middle">Feb</text>
<text x="619.8" y="780.8" text-anchor="middle">Mrz</text>
<text x="772.8" y="780.8" text-anchor="middle">Apr</text>
<text x="925.8" y="780.8" text-anchor="middle">Mai</text>
<text x="1079.8" y="780.8" text-anchor="middle">Jun</text>
<text x="1225.8" y="780.8" text-anchor="middle">Jul</text>
<text x="1385.8" y="780.8" text-anchor="middle">Aug</text>
<text x="1539.8" y="780.8" text-anchor="middle">Sep</text>
<text x="1692.8" y="780.8" text-anchor="middle">Okt</text>
<text x="13.1" y="24.8" textLength="52.7" lengthAdjust="spacingAndGlyphs">Reastlin</text>
<text x="70.1" y="24.8" textLength="49" lengthAdjust="spacingAndGlyphs">erstellt</text>
<text x="123.9" y="24.8" textLength="23.1" lengthAdjust="spacingAndGlyphs">mit</text>
<text x="151.8" y="24.8" textLength="117.4" lengthAdjust="spacingAndGlyphs">TradingView.com,</text>
<text x="274.3" y="24.8" textLength="23.3" lengthAdjust="spacingAndGlyphs">Aug</text>
<text x="303.9" y="24.8" textLength="19.9" lengthAdjust="spacingAndGlyphs">14,</text>
<text x="328.8" y="24.8" textLength="31.7" lengthAdjust="spacingAndGlyphs">2025</text>
<text x="365.6" y="24.8" textLength="36.3" lengthAdjust="spacingAndGlyphs">20:17</text>
<text x="407.2" y="24.8" textLength="42.6" lengthAdjust="spacingAndGlyphs">UTC+2</text>
<text x="23.1" y="58.8" textLength="52.4" lengthAdjust="spacingAndGlyphs">NuScale</text>
<text x="80.6" y="58.8" textLength="39.9" lengthAdjust="spacingAndGlyphs">Power</text>
<text x="125.7" y="58.8" textLength="79.5" lengthAdjust="spacingAndGlyphs">Corporation</text>
<text x="219.9" y="58.8" textLength="16.7" lengthAdjust="spacingAndGlyphs">1T</text>
<text x="250.7" y="58.8" textLength="33.1" lengthAdjust="spacingAndGlyphs">NYSE</text>
<text x="294" y="58.8" textLength="8.6" lengthAdjust="spacingAndGlyphs">O</text>
<text x="303.5" y="58.8" style="color:#f23645" textLength="36.6" lengthAdjust="spacingAndGlyphs">36,95</text>
<text x="350.2" y="58.8" textLength="8.2" lengthAdjust="spacingAndGlyphs">H</text>
<text x="359.4" y="58.8" style="color:#f23645" textLength="36.8" lengthAdjust="spacingAndGlyphs">37,73</text>
<text x="405.6" y="58.8" textLength="7" lengthAdjust="spacingAndGlyphs">L</text>
<text x="413.4" y="58.8" style="color:#f23645" textLength="35.8" lengthAdjust="spacingAndGlyphs">35,22</text>
<text x="459.5" y="58.8" textLength="8" lengthAdjust="spacingAndGlyphs">C</text>
<text x="468.3" y="58.8" style="color:#f23645" textLength="36" lengthAdjust="spacingAndGlyphs">35,67</text>
<text x="514.3" y="58.8" style="color:#f23645" textLength="98" lengthAdjust="spacingAndGlyphs">−1,63 (−4,37%)</text>
<circle cx="211.6" cy="54.1" r="1.15" fill="#17181c"/><circle cx="242.7" cy="54.1" r="1.15" fill="#17181c"/>
<text x="23.1" y="79.5" textLength="30" lengthAdjust="spacingAndGlyphs">Croc</text>
<text x="58.8" y="79.5" textLength="21" lengthAdjust="spacingAndGlyphs">3.0</text>
<text x="83.4" y="79.5" textLength="37.1" lengthAdjust="spacingAndGlyphs">Chart</text>
<text x="128.8" y="79.5" text-anchor="middle">-</text>
<text x="135.2" y="79.5" textLength="33.9" lengthAdjust="spacingAndGlyphs">Basic</text>
<text x="173.9" y="79.5" textLength="29.4" lengthAdjust="spacingAndGlyphs">(off,</text>
<text x="208.6" y="79.5" textLength="24" lengthAdjust="spacingAndGlyphs">off)</text>
<text x="242.1" y="79.5" style="color:#00ff00" textLength="36.2" lengthAdjust="spacingAndGlyphs">42,95</text>
<text x="288.2" y="79.5" style="color:#ff00ff" textLength="36.3" lengthAdjust="spacingAndGlyphs">41,58</text>
<ellipse cx="338.55" cy="75.35" rx="3.25" ry="3.95" fill="none" stroke="#17181c" stroke-width="1.2"/><path d="M335.85 80.65L341.15 70.15" stroke="#17181c" stroke-width="0.8" fill="none"/>
<ellipse cx="357.61" cy="75.35" rx="3.25" ry="3.95" fill="none" stroke="#17181c" stroke-width="1.2"/><path d="M354.91 80.65L360.21 70.15" stroke="#17181c" stroke-width="0.8" fill="none"/>
<ellipse cx="376.67" cy="75.35" rx="3.25" ry="3.95" fill="none" stroke="#17181c" stroke-width="1.2"/><path d="M373.97 80.65L379.27 70.15" stroke="#17181c" stroke-width="0.8" fill="none"/>
<ellipse cx="395.73" cy="75.35" rx="3.25" ry="3.95" fill="none" stroke="#17181c" stroke-width="1.2"/><path d="M393.03 80.65L398.33 70.15" stroke="#17181c" stroke-width="0.8" fill="none"/>
<ellipse cx="414.79" cy="75.35" rx="3.25" ry="3.95" fill="none" stroke="#17181c" stroke-width="1.2"/><path d="M412.09 80.65L417.39 70.15" stroke="#17181c" stroke-width="0.8" fill="none"/>
<ellipse cx="433.85" cy="75.35" rx="3.25" ry="3.95" fill="none" stroke="#17181c" stroke-width="1.2"/><path d="M431.15 80.65L436.45 70.15" stroke="#17181c" stroke-width="0.8" fill="none"/>
<ellipse cx="452.91" cy="75.35" rx="3.25" ry="3.95" fill="none" stroke="#17181c" stroke-width="1.2"/><path d="M450.21 80.65L455.51 70.15" stroke="#17181c" stroke-width="0.8" fill="none"/>
<ellipse cx="471.97" cy="75.35" rx="3.25" ry="3.95" fill="none" stroke="#17181c" stroke-width="1.2"/><path d="M469.27 80.65L474.57 70.15" stroke="#17181c" stroke-width="0.8" fill="none"/>
<ellipse cx="491.03" cy="75.35" rx="3.25" ry="3.95" fill="none" stroke="#17181c" stroke-width="1.2"/><path d="M488.33 80.65L493.63 70.15" stroke="#17181c" stroke-width="0.8" fill="none"/>
<ellipse cx="510.09" cy="75.35" rx="3.25" ry="3.95" fill="none" stroke="#17181c" stroke-width="1.2"/><path d="M507.39 80.65L512.69 70.15" stroke="#17181c" stroke-width="0.8" fill="none"/>
<ellipse cx="529.15" cy="75.35" rx="3.25" ry="3.95" fill="none" stroke="#17181c" stroke-width="1.2"/><path d="M526.45 80.65L531.75 70.15" stroke="#17181c" stroke-width="0.8" fill="none"/>
<ellipse cx="548.21" cy="75.35" rx="3.25" ry="3.95" fill="none" stroke="#17181c" stroke-width="1.2"/><path d="M545.51 80.65L550.81 70.15" stroke="#17181c" stroke-width="0.8" fill="none"/>
<ellipse cx="567.27" cy="75.35" rx="3.25" ry="3.95" fill="none" stroke="#17181c" stroke-width="1.2"/><path d="M564.57 80.65L569.87 70.15" stroke="#17181c" stroke-width="0.8" fill="none"/>
<ellipse cx="586.33" cy="75.35" rx="3.25" ry="3.95" fill="none" stroke="#17181c" stroke-width="1.2"/><path d="M583.63 80.65L588.93 70.15" stroke="#17181c" stroke-width="0.8" fill="none"/>
<ellipse cx="605.39" cy="75.35" rx="3.25" ry="3.95" fill="none" stroke="#17181c" stroke-width="1.2"/><path d="M602.69 80.65L607.99 70.15" stroke="#17181c" stroke-width="0.8" fill="none"/>
<ellipse cx="624.45" cy="75.35" rx="3.25" ry="3.95" fill="none" stroke="#17181c" stroke-width="1.2"/><path d="M621.75 80.65L627.05 70.15" stroke="#17181c" stroke-width="0.8" fill="none"/>
<ellipse cx="643.51" cy="75.35" rx="3.25" ry="3.95" fill="none" stroke="#17181c" stroke-width="1.2"/><path d="M640.81 80.65L646.11 70.15" stroke="#17181c" stroke-width="0.8" fill="none"/>
<ellipse cx="662.57" cy="75.35" rx="3.25" ry="3.95" fill="none" stroke="#17181c" stroke-width="1.2"/><path d="M659.87 80.65L665.17 70.15" stroke="#17181c" stroke-width="0.8" fill="none"/>
<ellipse cx="681.63" cy="75.35" rx="3.25" ry="3.95" fill="none" stroke="#17181c" stroke-width="1.2"/><path d="M678.93 80.65L684.23 70.15" stroke="#17181c" stroke-width="0.8" fill="none"/>
<ellipse cx="700.69" cy="75.35" rx="3.25" ry="3.95" fill="none" stroke="#17181c" stroke-width="1.2"/><path d="M697.99 80.65L703.29 70.15" stroke="#17181c" stroke-width="0.8" fill="none"/>
<text x="634.2" y="654.9" textLength="21.2" lengthAdjust="spacingAndGlyphs">ICE</text>
<text x="661.5" y="654.9" textLength="48.8" lengthAdjust="spacingAndGlyphs">Trading</text>
<text x="714.4" y="654.9" textLength="44.7" lengthAdjust="spacingAndGlyphs">Deluxe</text>
<text x="763.2" y="654.9" textLength="21.3" lengthAdjust="spacingAndGlyphs">Big</text>
<text x="788.6" y="654.9" textLength="34.7" lengthAdjust="spacingAndGlyphs">Point</text>
<rect x="634" y="642" width="192" height="5" fill="#fff"/>
<path d="M773 641h1v6h-1Z" fill="#f3f3f5" shape-rendering="crispEdges"/>
<path d="M14 646H1800v1H14Z" fill="#e8e9ec" shape-rendering="crispEdges"/>
<path d="M11.95 664.2a2.55 2.55 0 1 0 5.1 0a2.55 2.55 0 1 0 -5.1 0M18.95 664.2a2.55 2.55 0 1 0 5.1 0a2.55 2.55 0 1 0 -5.1 0M427.95 664.2a2.55 2.55 0 1 0 5.1 0a2.55 2.55 0 1 0 -5.1 0M434.95 664.2a2.55 2.55 0 1 0 5.1 0a2.55 2.55 0 1 0 -5.1 0M982.95 664.2a2.55 2.55 0 1 0 5.1 0a2.55 2.55 0 1 0 -5.1 0M989.95 664.2a2.55 2.55 0 1 0 5.1 0a2.55 2.55 0 1 0 -5.1 0M996.95 664.2a2.55 2.55 0 1 0 5.1 0a2.55 2.55 0 1 0 -5.1 0M1004.95 664.2a2.55 2.55 0 1 0 5.1 0a2.55 2.55 0 1 0 -5.1 0M1011.95 664.2a2.55 2.55 0 1 0 5.1 0a2.55 2.55 0 1 0 -5.1 0M1018.95 664.2a2.55 2.55 0 1 0 5.1 0a2.55 2.55 0 1 0 -5.1 0M1026.95 664.2a2.55 2.55 0 1 0 5.1 0a2.55 2.55 0 1 0 -5.1 0M1033.95 664.2a2.55 2.55 0 1 0 5.1 0a2.55 2.55 0 1 0 -5.1 0M1040.95 664.2a2.55 2.55 0 1 0 5.1 0a2.55 2.55 0 1 0 -5.1 0M1048.95 664.2a2.55 2.55 0 1 0 5.1 0a2.55 2.55 0 1 0 -5.1 0M1055.95 664.2a2.55 2.55 0 1 0 5.1 0a2.55 2.55 0 1 0 -5.1 0M1062.95 664.2a2.55 2.55 0 1 0 5.1 0a2.55 2.55 0 1 0 -5.1 0M1069.95 664.2a2.55 2.55 0 1 0 5.1 0a2.55 2.55 0 1 0 -5.1 0M1128.95 664.2a2.55 2.55 0 1 0 5.1 0a2.55 2.55 0 1 0 -5.1 0M1296.95 664.2a2.55 2.55 0 1 0 5.1 0a2.55 2.55 0 1 0 -5.1 0M1303.95 664.2a2.55 2.55 0 1 0 5.1 0a2.55 2.55 0 1 0 -5.1 0M1310.95 664.2a2.55 2.55 0 1 0 5.1 0a2.55 2.55 0 1 0 -5.1 0M1318.95 664.2a2.55 2.55 0 1 0 5.1 0a2.55 2.55 0 1 0 -5.1 0M1332.95 664.2a2.55 2.55 0 1 0 5.1 0a2.55 2.55 0 1 0 -5.1 0M1340.95 664.2a2.55 2.55 0 1 0 5.1 0a2.55 2.55 0 1 0 -5.1 0M1347.95 664.2a2.55 2.55 0 1 0 5.1 0a2.55 2.55 0 1 0 -5.1 0M1354.95 664.2a2.55 2.55 0 1 0 5.1 0a2.55 2.55 0 1 0 -5.1 0" fill="#008000"/>
<path d="M25.95 664.2a2.55 2.55 0 1 0 5.1 0a2.55 2.55 0 1 0 -5.1 0M55.95 664.2a2.55 2.55 0 1 0 5.1 0a2.55 2.55 0 1 0 -5.1 0M62.95 664.2a2.55 2.55 0 1 0 5.1 0a2.55 2.55 0 1 0 -5.1 0M69.95 664.2a2.55 2.55 0 1 0 5.1 0a2.55 2.55 0 1 0 -5.1 0M76.95 664.2a2.55 2.55 0 1 0 5.1 0a2.55 2.55 0 1 0 -5.1 0M84.95 664.2a2.55 2.55 0 1 0 5.1 0a2.55 2.55 0 1 0 -5.1 0M91.95 664.2a2.55 2.55 0 1 0 5.1 0a2.55 2.55 0 1 0 -5.1 0M98.95 664.2a2.55 2.55 0 1 0 5.1 0a2.55 2.55 0 1 0 -5.1 0M106.95 664.2a2.55 2.55 0 1 0 5.1 0a2.55 2.55 0 1 0 -5.1 0M113.95 664.2a2.55 2.55 0 1 0 5.1 0a2.55 2.55 0 1 0 -5.1 0M120.95 664.2a2.55 2.55 0 1 0 5.1 0a2.55 2.55 0 1 0 -5.1 0M128.95 664.2a2.55 2.55 0 1 0 5.1 0a2.55 2.55 0 1 0 -5.1 0M135.95 664.2a2.55 2.55 0 1 0 5.1 0a2.55 2.55 0 1 0 -5.1 0M142.95 664.2a2.55 2.55 0 1 0 5.1 0a2.55 2.55 0 1 0 -5.1 0M149.95 664.2a2.55 2.55 0 1 0 5.1 0a2.55 2.55 0 1 0 -5.1 0M157.95 664.2a2.55 2.55 0 1 0 5.1 0a2.55 2.55 0 1 0 -5.1 0M164.95 664.2a2.55 2.55 0 1 0 5.1 0a2.55 2.55 0 1 0 -5.1 0M171.95 664.2a2.55 2.55 0 1 0 5.1 0a2.55 2.55 0 1 0 -5.1 0M179.95 664.2a2.55 2.55 0 1 0 5.1 0a2.55 2.55 0 1 0 -5.1 0M347.95 664.2a2.55 2.55 0 1 0 5.1 0a2.55 2.55 0 1 0 -5.1 0M405.95 664.2a2.55 2.55 0 1 0 5.1 0a2.55 2.55 0 1 0 -5.1 0M412.95 664.2a2.55 2.55 0 1 0 5.1 0a2.55 2.55 0 1 0 -5.1 0M420.95 664.2a2.55 2.55 0 1 0 5.1 0a2.55 2.55 0 1 0 -5.1 0M471.95 664.2a2.55 2.55 0 1 0 5.1 0a2.55 2.55 0 1 0 -5.1 0M507.95 664.2a2.55 2.55 0 1 0 5.1 0a2.55 2.55 0 1 0 -5.1 0M515.95 664.2a2.55 2.55 0 1 0 5.1 0a2.55 2.55 0 1 0 -5.1 0M522.95 664.2a2.55 2.55 0 1 0 5.1 0a2.55 2.55 0 1 0 -5.1 0M726.95 664.2a2.55 2.55 0 1 0 5.1 0a2.55 2.55 0 1 0 -5.1 0M734.95 664.2a2.55 2.55 0 1 0 5.1 0a2.55 2.55 0 1 0 -5.1 0M887.95 664.2a2.55 2.55 0 1 0 5.1 0a2.55 2.55 0 1 0 -5.1 0M894.95 664.2a2.55 2.55 0 1 0 5.1 0a2.55 2.55 0 1 0 -5.1 0M902.95 664.2a2.55 2.55 0 1 0 5.1 0a2.55 2.55 0 1 0 -5.1 0M909.95 664.2a2.55 2.55 0 1 0 5.1 0a2.55 2.55 0 1 0 -5.1 0M916.95 664.2a2.55 2.55 0 1 0 5.1 0a2.55 2.55 0 1 0 -5.1 0M923.95 664.2a2.55 2.55 0 1 0 5.1 0a2.55 2.55 0 1 0 -5.1 0M931.95 664.2a2.55 2.55 0 1 0 5.1 0a2.55 2.55 0 1 0 -5.1 0M938.95 664.2a2.55 2.55 0 1 0 5.1 0a2.55 2.55 0 1 0 -5.1 0M945.95 664.2a2.55 2.55 0 1 0 5.1 0a2.55 2.55 0 1 0 -5.1 0M967.95 664.2a2.55 2.55 0 1 0 5.1 0a2.55 2.55 0 1 0 -5.1 0M975.95 664.2a2.55 2.55 0 1 0 5.1 0a2.55 2.55 0 1 0 -5.1 0M1077.95 664.2a2.55 2.55 0 1 0 5.1 0a2.55 2.55 0 1 0 -5.1 0M1084.95 664.2a2.55 2.55 0 1 0 5.1 0a2.55 2.55 0 1 0 -5.1 0M1091.95 664.2a2.55 2.55 0 1 0 5.1 0a2.55 2.55 0 1 0 -5.1 0M1106.95 664.2a2.55 2.55 0 1 0 5.1 0a2.55 2.55 0 1 0 -5.1 0M1113.95 664.2a2.55 2.55 0 1 0 5.1 0a2.55 2.55 0 1 0 -5.1 0M1121.95 664.2a2.55 2.55 0 1 0 5.1 0a2.55 2.55 0 1 0 -5.1 0M1135.95 664.2a2.55 2.55 0 1 0 5.1 0a2.55 2.55 0 1 0 -5.1 0M1142.95 664.2a2.55 2.55 0 1 0 5.1 0a2.55 2.55 0 1 0 -5.1 0M1150.95 664.2a2.55 2.55 0 1 0 5.1 0a2.55 2.55 0 1 0 -5.1 0M1157.95 664.2a2.55 2.55 0 1 0 5.1 0a2.55 2.55 0 1 0 -5.1 0M1164.95 664.2a2.55 2.55 0 1 0 5.1 0a2.55 2.55 0 1 0 -5.1 0M1186.95 664.2a2.55 2.55 0 1 0 5.1 0a2.55 2.55 0 1 0 -5.1 0M1281.95 664.2a2.55 2.55 0 1 0 5.1 0a2.55 2.55 0 1 0 -5.1 0M1289.95 664.2a2.55 2.55 0 1 0 5.1 0a2.55 2.55 0 1 0 -5.1 0M1325.95 664.2a2.55 2.55 0 1 0 5.1 0a2.55 2.55 0 1 0 -5.1 0M1362.95 664.2a2.55 2.55 0 1 0 5.1 0a2.55 2.55 0 1 0 -5.1 0M1369.95 664.2a2.55 2.55 0 1 0 5.1 0a2.55 2.55 0 1 0 -5.1 0M1376.95 664.2a2.55 2.55 0 1 0 5.1 0a2.55 2.55 0 1 0 -5.1 0" fill="#00ff00"/>
<path d="M33.95 664.2a2.55 2.55 0 1 0 5.1 0a2.55 2.55 0 1 0 -5.1 0M40.95 664.2a2.55 2.55 0 1 0 5.1 0a2.55 2.55 0 1 0 -5.1 0M47.95 664.2a2.55 2.55 0 1 0 5.1 0a2.55 2.55 0 1 0 -5.1 0M186.95 664.2a2.55 2.55 0 1 0 5.1 0a2.55 2.55 0 1 0 -5.1 0M193.95 664.2a2.55 2.55 0 1 0 5.1 0a2.55 2.55 0 1 0 -5.1 0M201.95 664.2a2.55 2.55 0 1 0 5.1 0a2.55 2.55 0 1 0 -5.1 0M208.95 664.2a2.55 2.55 0 1 0 5.1 0a2.55 2.55 0 1 0 -5.1 0M215.95 664.2a2.55 2.55 0 1 0 5.1 0a2.55 2.55 0 1 0 -5.1 0M303.95 664.2a2.55 2.55 0 1 0 5.1 0a2.55 2.55 0 1 0 -5.1 0M310.95 664.2a2.55 2.55 0 1 0 5.1 0a2.55 2.55 0 1 0 -5.1 0M339.95 664.2a2.55 2.55 0 1 0 5.1 0a2.55 2.55 0 1 0 -5.1 0M354.95 664.2a2.55 2.55 0 1 0 5.1 0a2.55 2.55 0 1 0 -5.1 0M361.95 664.2a2.55 2.55 0 1 0 5.1 0a2.55 2.55 0 1 0 -5.1 0M369.95 664.2a2.55 2.55 0 1 0 5.1 0a2.55 2.55 0 1 0 -5.1 0M383.95 664.2a2.55 2.55 0 1 0 5.1 0a2.55 2.55 0 1 0 -5.1 0M390.95 664.2a2.55 2.55 0 1 0 5.1 0a2.55 2.55 0 1 0 -5.1 0M398.95 664.2a2.55 2.55 0 1 0 5.1 0a2.55 2.55 0 1 0 -5.1 0M442.95 664.2a2.55 2.55 0 1 0 5.1 0a2.55 2.55 0 1 0 -5.1 0M449.95 664.2a2.55 2.55 0 1 0 5.1 0a2.55 2.55 0 1 0 -5.1 0M456.95 664.2a2.55 2.55 0 1 0 5.1 0a2.55 2.55 0 1 0 -5.1 0M463.95 664.2a2.55 2.55 0 1 0 5.1 0a2.55 2.55 0 1 0 -5.1 0M478.95 664.2a2.55 2.55 0 1 0 5.1 0a2.55 2.55 0 1 0 -5.1 0M485.95 664.2a2.55 2.55 0 1 0 5.1 0a2.55 2.55 0 1 0 -5.1 0M493.95 664.2a2.55 2.55 0 1 0 5.1 0a2.55 2.55 0 1 0 -5.1 0M500.95 664.2a2.55 2.55 0 1 0 5.1 0a2.55 2.55 0 1 0 -5.1 0M529.95 664.2a2.55 2.55 0 1 0 5.1 0a2.55 2.55 0 1 0 -5.1 0M536.95 664.2a2.55 2.55 0 1 0 5.1 0a2.55 2.55 0 1 0 -5.1 0M544.95 664.2a2.55 2.55 0 1 0 5.1 0a2.55 2.55 0 1 0 -5.1 0M668.95 664.2a2.55 2.55 0 1 0 5.1 0a2.55 2.55 0 1 0 -5.1 0M675.95 664.2a2.55 2.55 0 1 0 5.1 0a2.55 2.55 0 1 0 -5.1 0M682.95 664.2a2.55 2.55 0 1 0 5.1 0a2.55 2.55 0 1 0 -5.1 0M690.95 664.2a2.55 2.55 0 1 0 5.1 0a2.55 2.55 0 1 0 -5.1 0M697.95 664.2a2.55 2.55 0 1 0 5.1 0a2.55 2.55 0 1 0 -5.1 0M704.95 664.2a2.55 2.55 0 1 0 5.1 0a2.55 2.55 0 1 0 -5.1 0M712.95 664.2a2.55 2.55 0 1 0 5.1 0a2.55 2.55 0 1 0 -5.1 0M719.95 664.2a2.55 2.55 0 1 0 5.1 0a2.55 2.55 0 1 0 -5.1 0M741.95 664.2a2.55 2.55 0 1 0 5.1 0a2.55 2.55 0 1 0 -5.1 0M748.95 664.2a2.55 2.55 0 1 0 5.1 0a2.55 2.55 0 1 0 -5.1 0M814.95 664.2a2.55 2.55 0 1 0 5.1 0a2.55 2.55 0 1 0 -5.1 0M821.95 664.2a2.55 2.55 0 1 0 5.1 0a2.55 2.55 0 1 0 -5.1 0M829.95 664.2a2.55 2.55 0 1 0 5.1 0a2.55 2.55 0 1 0 -5.1 0M836.95 664.2a2.55 2.55 0 1 0 5.1 0a2.55 2.55 0 1 0 -5.1 0M843.95 664.2a2.55 2.55 0 1 0 5.1 0a2.55 2.55 0 1 0 -5.1 0M850.95 664.2a2.55 2.55 0 1 0 5.1 0a2.55 2.55 0 1 0 -5.1 0M858.95 664.2a2.55 2.55 0 1 0 5.1 0a2.55 2.55 0 1 0 -5.1 0M872.95 664.2a2.55 2.55 0 1 0 5.1 0a2.55 2.55 0 1 0 -5.1 0M880.95 664.2a2.55 2.55 0 1 0 5.1 0a2.55 2.55 0 1 0 -5.1 0M953.95 664.2a2.55 2.55 0 1 0 5.1 0a2.55 2.55 0 1 0 -5.1 0M960.95 664.2a2.55 2.55 0 1 0 5.1 0a2.55 2.55 0 1 0 -5.1 0M1099.95 664.2a2.55 2.55 0 1 0 5.1 0a2.55 2.55 0 1 0 -5.1 0M1172.95 664.2a2.55 2.55 0 1 0 5.1 0a2.55 2.55 0 1 0 -5.1 0M1179.95 664.2a2.55 2.55 0 1 0 5.1 0a2.55 2.55 0 1 0 -5.1 0M1194.95 664.2a2.55 2.55 0 1 0 5.1 0a2.55 2.55 0 1 0 -5.1 0M1201.95 664.2a2.55 2.55 0 1 0 5.1 0a2.55 2.55 0 1 0 -5.1 0M1208.95 664.2a2.55 2.55 0 1 0 5.1 0a2.55 2.55 0 1 0 -5.1 0M1216.95 664.2a2.55 2.55 0 1 0 5.1 0a2.55 2.55 0 1 0 -5.1 0M1223.95 664.2a2.55 2.55 0 1 0 5.1 0a2.55 2.55 0 1 0 -5.1 0M1230.95 664.2a2.55 2.55 0 1 0 5.1 0a2.55 2.55 0 1 0 -5.1 0M1237.95 664.2a2.55 2.55 0 1 0 5.1 0a2.55 2.55 0 1 0 -5.1 0M1245.95 664.2a2.55 2.55 0 1 0 5.1 0a2.55 2.55 0 1 0 -5.1 0M1274.95 664.2a2.55 2.55 0 1 0 5.1 0a2.55 2.55 0 1 0 -5.1 0M1383.95 664.2a2.55 2.55 0 1 0 5.1 0a2.55 2.55 0 1 0 -5.1 0M1391.95 664.2a2.55 2.55 0 1 0 5.1 0a2.55 2.55 0 1 0 -5.1 0M1398.95 664.2a2.55 2.55 0 1 0 5.1 0a2.55 2.55 0 1 0 -5.1 0M1405.95 664.2a2.55 2.55 0 1 0 5.1 0a2.55 2.55 0 1 0 -5.1 0M1413.95 664.2a2.55 2.55 0 1 0 5.1 0a2.55 2.55 0 1 0 -5.1 0" fill="#000000"/>
<path d="M222.95 664.2a2.55 2.55 0 1 0 5.1 0a2.55 2.55 0 1 0 -5.1 0M230.95 664.2a2.55 2.55 0 1 0 5.1 0a2.55 2.55 0 1 0 -5.1 0M237.95 664.2a2.55 2.55 0 1 0 5.1 0a2.55 2.55 0 1 0 -5.1 0M244.95 664.2a2.55 2.55 0 1 0 5.1 0a2.55 2.55 0 1 0 -5.1 0M252.95 664.2a2.55 2.55 0 1 0 5.1 0a2.55 2.55 0 1 0 -5.1 0M259.95 664.2a2.55 2.55 0 1 0 5.1 0a2.55 2.55 0 1 0 -5.1 0M266.95 664.2a2.55 2.55 0 1 0 5.1 0a2.55 2.55 0 1 0 -5.1 0M274.95 664.2a2.55 2.55 0 1 0 5.1 0a2.55 2.55 0 1 0 -5.1 0M281.95 664.2a2.55 2.55 0 1 0 5.1 0a2.55 2.55 0 1 0 -5.1 0M288.95 664.2a2.55 2.55 0 1 0 5.1 0a2.55 2.55 0 1 0 -5.1 0M296.95 664.2a2.55 2.55 0 1 0 5.1 0a2.55 2.55 0 1 0 -5.1 0M317.95 664.2a2.55 2.55 0 1 0 5.1 0a2.55 2.55 0 1 0 -5.1 0M325.95 664.2a2.55 2.55 0 1 0 5.1 0a2.55 2.55 0 1 0 -5.1 0M332.95 664.2a2.55 2.55 0 1 0 5.1 0a2.55 2.55 0 1 0 -5.1 0M376.95 664.2a2.55 2.55 0 1 0 5.1 0a2.55 2.55 0 1 0 -5.1 0M551.95 664.2a2.55 2.55 0 1 0 5.1 0a2.55 2.55 0 1 0 -5.1 0M558.95 664.2a2.55 2.55 0 1 0 5.1 0a2.55 2.55 0 1 0 -5.1 0M566.95 664.2a2.55 2.55 0 1 0 5.1 0a2.55 2.55 0 1 0 -5.1 0M573.95 664.2a2.55 2.55 0 1 0 5.1 0a2.55 2.55 0 1 0 -5.1 0M580.95 664.2a2.55 2.55 0 1 0 5.1 0a2.55 2.55 0 1 0 -5.1 0M588.95 664.2a2.55 2.55 0 1 0 5.1 0a2.55 2.55 0 1 0 -5.1 0M595.95 664.2a2.55 2.55 0 1 0 5.1 0a2.55 2.55 0 1 0 -5.1 0M602.95 664.2a2.55 2.55 0 1 0 5.1 0a2.55 2.55 0 1 0 -5.1 0M609.95 664.2a2.55 2.55 0 1 0 5.1 0a2.55 2.55 0 1 0 -5.1 0M617.95 664.2a2.55 2.55 0 1 0 5.1 0a2.55 2.55 0 1 0 -5.1 0M624.95 664.2a2.55 2.55 0 1 0 5.1 0a2.55 2.55 0 1 0 -5.1 0M631.95 664.2a2.55 2.55 0 1 0 5.1 0a2.55 2.55 0 1 0 -5.1 0M639.95 664.2a2.55 2.55 0 1 0 5.1 0a2.55 2.55 0 1 0 -5.1 0M646.95 664.2a2.55 2.55 0 1 0 5.1 0a2.55 2.55 0 1 0 -5.1 0M653.95 664.2a2.55 2.55 0 1 0 5.1 0a2.55 2.55 0 1 0 -5.1 0M661.95 664.2a2.55 2.55 0 1 0 5.1 0a2.55 2.55 0 1 0 -5.1 0M756.95 664.2a2.55 2.55 0 1 0 5.1 0a2.55 2.55 0 1 0 -5.1 0M763.95 664.2a2.55 2.55 0 1 0 5.1 0a2.55 2.55 0 1 0 -5.1 0M770.95 664.2a2.55 2.55 0 1 0 5.1 0a2.55 2.55 0 1 0 -5.1 0M777.95 664.2a2.55 2.55 0 1 0 5.1 0a2.55 2.55 0 1 0 -5.1 0M785.95 664.2a2.55 2.55 0 1 0 5.1 0a2.55 2.55 0 1 0 -5.1 0M792.95 664.2a2.55 2.55 0 1 0 5.1 0a2.55 2.55 0 1 0 -5.1 0M799.95 664.2a2.55 2.55 0 1 0 5.1 0a2.55 2.55 0 1 0 -5.1 0M807.95 664.2a2.55 2.55 0 1 0 5.1 0a2.55 2.55 0 1 0 -5.1 0M865.95 664.2a2.55 2.55 0 1 0 5.1 0a2.55 2.55 0 1 0 -5.1 0M1252.95 664.2a2.55 2.55 0 1 0 5.1 0a2.55 2.55 0 1 0 -5.1 0M1259.95 664.2a2.55 2.55 0 1 0 5.1 0a2.55 2.55 0 1 0 -5.1 0M1267.95 664.2a2.55 2.55 0 1 0 5.1 0a2.55 2.55 0 1 0 -5.1 0M1420.95 664.2a2.55 2.55 0 1 0 5.1 0a2.55 2.55 0 1 0 -5.1 0M1427.95 664.2a2.55 2.55 0 1 0 5.1 0a2.55 2.55 0 1 0 -5.1 0M1435.95 664.2a2.55 2.55 0 1 0 5.1 0a2.55 2.55 0 1 0 -5.1 0M1442.95 664.2a2.55 2.55 0 1 0 5.1 0a2.55 2.55 0 1 0 -5.1 0" fill="#ff0000"/>
<path d="M11.95 692.2a2.55 2.55 0 1 0 5.1 0a2.55 2.55 0 1 0 -5.1 0M18.95 692.2a2.55 2.55 0 1 0 5.1 0a2.55 2.55 0 1 0 -5.1 0M25.95 692.2a2.55 2.55 0 1 0 5.1 0a2.55 2.55 0 1 0 -5.1 0M55.95 692.2a2.55 2.55 0 1 0 5.1 0a2.55 2.55 0 1 0 -5.1 0M62.95 692.2a2.55 2.55 0 1 0 5.1 0a2.55 2.55 0 1 0 -5.1 0M69.95 692.2a2.55 2.55 0 1 0 5.1 0a2.55 2.55 0 1 0 -5.1 0M76.95 692.2a2.55 2.55 0 1 0 5.1 0a2.55 2.55 0 1 0 -5.1 0M84.95 692.2a2.55 2.55 0 1 0 5.1 0a2.55 2.55 0 1 0 -5.1 0M91.95 692.2a2.55 2.55 0 1 0 5.1 0a2.55 2.55 0 1 0 -5.1 0M98.95 692.2a2.55 2.55 0 1 0 5.1 0a2.55 2.55 0 1 0 -5.1 0M106.95 692.2a2.55 2.55 0 1 0 5.1 0a2.55 2.55 0 1 0 -5.1 0M113.95 692.2a2.55 2.55 0 1 0 5.1 0a2.55 2.55 0 1 0 -5.1 0M120.95 692.2a2.55 2.55 0 1 0 5.1 0a2.55 2.55 0 1 0 -5.1 0M128.95 692.2a2.55 2.55 0 1 0 5.1 0a2.55 2.55 0 1 0 -5.1 0M135.95 692.2a2.55 2.55 0 1 0 5.1 0a2.55 2.55 0 1 0 -5.1 0M142.95 692.2a2.55 2.55 0 1 0 5.1 0a2.55 2.55 0 1 0 -5.1 0M149.95 692.2a2.55 2.55 0 1 0 5.1 0a2.55 2.55 0 1 0 -5.1 0M157.95 692.2a2.55 2.55 0 1 0 5.1 0a2.55 2.55 0 1 0 -5.1 0M164.95 692.2a2.55 2.55 0 1 0 5.1 0a2.55 2.55 0 1 0 -5.1 0M171.95 692.2a2.55 2.55 0 1 0 5.1 0a2.55 2.55 0 1 0 -5.1 0M347.95 692.2a2.55 2.55 0 1 0 5.1 0a2.55 2.55 0 1 0 -5.1 0M354.95 692.2a2.55 2.55 0 1 0 5.1 0a2.55 2.55 0 1 0 -5.1 0M405.95 692.2a2.55 2.55 0 1 0 5.1 0a2.55 2.55 0 1 0 -5.1 0M412.95 692.2a2.55 2.55 0 1 0 5.1 0a2.55 2.55 0 1 0 -5.1 0M420.95 692.2a2.55 2.55 0 1 0 5.1 0a2.55 2.55 0 1 0 -5.1 0M427.95 692.2a2.55 2.55 0 1 0 5.1 0a2.55 2.55 0 1 0 -5.1 0M434.95 692.2a2.55 2.55 0 1 0 5.1 0a2.55 2.55 0 1 0 -5.1 0M493.95 692.2a2.55 2.55 0 1 0 5.1 0a2.55 2.55 0 1 0 -5.1 0M507.95 692.2a2.55 2.55 0 1 0 5.1 0a2.55 2.55 0 1 0 -5.1 0M515.95 692.2a2.55 2.55 0 1 0 5.1 0a2.55 2.55 0 1 0 -5.1 0M522.95 692.2a2.55 2.55 0 1 0 5.1 0a2.55 2.55 0 1 0 -5.1 0M529.95 692.2a2.55 2.55 0 1 0 5.1 0a2.55 2.55 0 1 0 -5.1 0M704.95 692.2a2.55 2.55 0 1 0 5.1 0a2.55 2.55 0 1 0 -5.1 0M712.95 692.2a2.55 2.55 0 1 0 5.1 0a2.55 2.55 0 1 0 -5.1 0M719.95 692.2a2.55 2.55 0 1 0 5.1 0a2.55 2.55 0 1 0 -5.1 0M726.95 692.2a2.55 2.55 0 1 0 5.1 0a2.55 2.55 0 1 0 -5.1 0M734.95 692.2a2.55 2.55 0 1 0 5.1 0a2.55 2.55 0 1 0 -5.1 0M880.95 692.2a2.55 2.55 0 1 0 5.1 0a2.55 2.55 0 1 0 -5.1 0M887.95 692.2a2.55 2.55 0 1 0 5.1 0a2.55 2.55 0 1 0 -5.1 0M894.95 692.2a2.55 2.55 0 1 0 5.1 0a2.55 2.55 0 1 0 -5.1 0M902.95 692.2a2.55 2.55 0 1 0 5.1 0a2.55 2.55 0 1 0 -5.1 0M909.95 692.2a2.55 2.55 0 1 0 5.1 0a2.55 2.55 0 1 0 -5.1 0M916.95 692.2a2.55 2.55 0 1 0 5.1 0a2.55 2.55 0 1 0 -5.1 0M923.95 692.2a2.55 2.55 0 1 0 5.1 0a2.55 2.55 0 1 0 -5.1 0M931.95 692.2a2.55 2.55 0 1 0 5.1 0a2.55 2.55 0 1 0 -5.1 0M938.95 692.2a2.55 2.55 0 1 0 5.1 0a2.55 2.55 0 1 0 -5.1 0M945.95 692.2a2.55 2.55 0 1 0 5.1 0a2.55 2.55 0 1 0 -5.1 0M967.95 692.2a2.55 2.55 0 1 0 5.1 0a2.55 2.55 0 1 0 -5.1 0M975.95 692.2a2.55 2.55 0 1 0 5.1 0a2.55 2.55 0 1 0 -5.1 0M982.95 692.2a2.55 2.55 0 1 0 5.1 0a2.55 2.55 0 1 0 -5.1 0M989.95 692.2a2.55 2.55 0 1 0 5.1 0a2.55 2.55 0 1 0 -5.1 0M996.95 692.2a2.55 2.55 0 1 0 5.1 0a2.55 2.55 0 1 0 -5.1 0M1004.95 692.2a2.55 2.55 0 1 0 5.1 0a2.55 2.55 0 1 0 -5.1 0M1011.95 692.2a2.55 2.55 0 1 0 5.1 0a2.55 2.55 0 1 0 -5.1 0M1018.95 692.2a2.55 2.55 0 1 0 5.1 0a2.55 2.55 0 1 0 -5.1 0M1026.95 692.2a2.55 2.55 0 1 0 5.1 0a2.55 2.55 0 1 0 -5.1 0M1033.95 692.2a2.55 2.55 0 1 0 5.1 0a2.55 2.55 0 1 0 -5.1 0M1040.95 692.2a2.55 2.55 0 1 0 5.1 0a2.55 2.55 0 1 0 -5.1 0M1048.95 692.2a2.55 2.55 0 1 0 5.1 0a2.55 2.55 0 1 0 -5.1 0M1055.95 692.2a2.55 2.55 0 1 0 5.1 0a2.55 2.55 0 1 0 -5.1 0M1062.95 692.2a2.55 2.55 0 1 0 5.1 0a2.55 2.55 0 1 0 -5.1 0M1069.95 692.2a2.55 2.55 0 1 0 5.1 0a2.55 2.55 0 1 0 -5.1 0M1077.95 692.2a2.55 2.55 0 1 0 5.1 0a2.55 2.55 0 1 0 -5.1 0M1084.95 692.2a2.55 2.55 0 1 0 5.1 0a2.55 2.55 0 1 0 -5.1 0M1106.95 692.2a2.55 2.55 0 1 0 5.1 0a2.55 2.55 0 1 0 -5.1 0M1113.95 692.2a2.55 2.55 0 1 0 5.1 0a2.55 2.55 0 1 0 -5.1 0M1121.95 692.2a2.55 2.55 0 1 0 5.1 0a2.55 2.55 0 1 0 -5.1 0M1128.95 692.2a2.55 2.55 0 1 0 5.1 0a2.55 2.55 0 1 0 -5.1 0M1135.95 692.2a2.55 2.55 0 1 0 5.1 0a2.55 2.55 0 1 0 -5.1 0M1142.95 692.2a2.55 2.55 0 1 0 5.1 0a2.55 2.55 0 1 0 -5.1 0M1150.95 692.2a2.55 2.55 0 1 0 5.1 0a2.55 2.55 0 1 0 -5.1 0M1157.95 692.2a2.55 2.55 0 1 0 5.1 0a2.55 2.55 0 1 0 -5.1 0M1164.95 692.2a2.55 2.55 0 1 0 5.1 0a2.55 2.55 0 1 0 -5.1 0M1186.95 692.2a2.55 2.55 0 1 0 5.1 0a2.55 2.55 0 1 0 -5.1 0M1281.95 692.2a2.55 2.55 0 1 0 5.1 0a2.55 2.55 0 1 0 -5.1 0M1289.95 692.2a2.55 2.55 0 1 0 5.1 0a2.55 2.55 0 1 0 -5.1 0M1296.95 692.2a2.55 2.55 0 1 0 5.1 0a2.55 2.55 0 1 0 -5.1 0M1303.95 692.2a2.55 2.55 0 1 0 5.1 0a2.55 2.55 0 1 0 -5.1 0M1310.95 692.2a2.55 2.55 0 1 0 5.1 0a2.55 2.55 0 1 0 -5.1 0M1318.95 692.2a2.55 2.55 0 1 0 5.1 0a2.55 2.55 0 1 0 -5.1 0M1325.95 692.2a2.55 2.55 0 1 0 5.1 0a2.55 2.55 0 1 0 -5.1 0M1332.95 692.2a2.55 2.55 0 1 0 5.1 0a2.55 2.55 0 1 0 -5.1 0M1340.95 692.2a2.55 2.55 0 1 0 5.1 0a2.55 2.55 0 1 0 -5.1 0M1347.95 692.2a2.55 2.55 0 1 0 5.1 0a2.55 2.55 0 1 0 -5.1 0M1354.95 692.2a2.55 2.55 0 1 0 5.1 0a2.55 2.55 0 1 0 -5.1 0M1362.95 692.2a2.55 2.55 0 1 0 5.1 0a2.55 2.55 0 1 0 -5.1 0M1369.95 692.2a2.55 2.55 0 1 0 5.1 0a2.55 2.55 0 1 0 -5.1 0M1376.95 692.2a2.55 2.55 0 1 0 5.1 0a2.55 2.55 0 1 0 -5.1 0" fill="#00ff00"/>
<path d="M33.95 692.2a2.55 2.55 0 1 0 5.1 0a2.55 2.55 0 1 0 -5.1 0M40.95 692.2a2.55 2.55 0 1 0 5.1 0a2.55 2.55 0 1 0 -5.1 0M47.95 692.2a2.55 2.55 0 1 0 5.1 0a2.55 2.55 0 1 0 -5.1 0M179.95 692.2a2.55 2.55 0 1 0 5.1 0a2.55 2.55 0 1 0 -5.1 0M186.95 692.2a2.55 2.55 0 1 0 5.1 0a2.55 2.55 0 1 0 -5.1 0M193.95 692.2a2.55 2.55 0 1 0 5.1 0a2.55 2.55 0 1 0 -5.1 0M208.95 692.2a2.55 2.55 0 1 0 5.1 0a2.55 2.55 0 1 0 -5.1 0M296.95 692.2a2.55 2.55 0 1 0 5.1 0a2.55 2.55 0 1 0 -5.1 0M303.95 692.2a2.55 2.55 0 1 0 5.1 0a2.55 2.55 0 1 0 -5.1 0M339.95 692.2a2.55 2.55 0 1 0 5.1 0a2.55 2.55 0 1 0 -5.1 0M361.95 692.2a2.55 2.55 0 1 0 5.1 0a2.55 2.55 0 1 0 -5.1 0M369.95 692.2a2.55 2.55 0 1 0 5.1 0a2.55 2.55 0 1 0 -5.1 0M390.95 692.2a2.55 2.55 0 1 0 5.1 0a2.55 2.55 0 1 0 -5.1 0M398.95 692.2a2.55 2.55 0 1 0 5.1 0a2.55 2.55 0 1 0 -5.1 0M442.95 692.2a2.55 2.55 0 1 0 5.1 0a2.55 2.55 0 1 0 -5.1 0M449.95 692.2a2.55 2.55 0 1 0 5.1 0a2.55 2.55 0 1 0 -5.1 0M456.95 692.2a2.55 2.55 0 1 0 5.1 0a2.55 2.55 0 1 0 -5.1 0M463.95 692.2a2.55 2.55 0 1 0 5.1 0a2.55 2.55 0 1 0 -5.1 0M471.95 692.2a2.55 2.55 0 1 0 5.1 0a2.55 2.55 0 1 0 -5.1 0M478.95 692.2a2.55 2.55 0 1 0 5.1 0a2.55 2.55 0 1 0 -5.1 0M485.95 692.2a2.55 2.55 0 1 0 5.1 0a2.55 2.55 0 1 0 -5.1 0M500.95 692.2a2.55 2.55 0 1 0 5.1 0a2.55 2.55 0 1 0 -5.1 0M536.95 692.2a2.55 2.55 0 1 0 5.1 0a2.55 2.55 0 1 0 -5.1 0M682.95 692.2a2.55 2.55 0 1 0 5.1 0a2.55 2.55 0 1 0 -5.1 0M690.95 692.2a2.55 2.55 0 1 0 5.1 0a2.55 2.55 0 1 0 -5.1 0M697.95 692.2a2.55 2.55 0 1 0 5.1 0a2.55 2.55 0 1 0 -5.1 0M741.95 692.2a2.55 2.55 0 1 0 5.1 0a2.55 2.55 0 1 0 -5.1 0M814.95 692.2a2.55 2.55 0 1 0 5.1 0a2.55 2.55 0 1 0 -5.1 0M821.95 692.2a2.55 2.55 0 1 0 5.1 0a2.55 2.55 0 1 0 -5.1 0M829.95 692.2a2.55 2.55 0 1 0 5.1 0a2.55 2.55 0 1 0 -5.1 0M836.95 692.2a2.55 2.55 0 1 0 5.1 0a2.55 2.55 0 1 0 -5.1 0M843.95 692.2a2.55 2.55 0 1 0 5.1 0a2.55 2.55 0 1 0 -5.1 0M850.95 692.2a2.55 2.55 0 1 0 5.1 0a2.55 2.55 0 1 0 -5.1 0M858.95 692.2a2.55 2.55 0 1 0 5.1 0a2.55 2.55 0 1 0 -5.1 0M872.95 692.2a2.55 2.55 0 1 0 5.1 0a2.55 2.55 0 1 0 -5.1 0M953.95 692.2a2.55 2.55 0 1 0 5.1 0a2.55 2.55 0 1 0 -5.1 0M960.95 692.2a2.55 2.55 0 1 0 5.1 0a2.55 2.55 0 1 0 -5.1 0M1091.95 692.2a2.55 2.55 0 1 0 5.1 0a2.55 2.55 0 1 0 -5.1 0M1099.95 692.2a2.55 2.55 0 1 0 5.1 0a2.55 2.55 0 1 0 -5.1 0M1172.95 692.2a2.55 2.55 0 1 0 5.1 0a2.55 2.55 0 1 0 -5.1 0M1179.95 692.2a2.55 2.55 0 1 0 5.1 0a2.55 2.55 0 1 0 -5.1 0M1194.95 692.2a2.55 2.55 0 1 0 5.1 0a2.55 2.55 0 1 0 -5.1 0M1201.95 692.2a2.55 2.55 0 1 0 5.1 0a2.55 2.55 0 1 0 -5.1 0M1208.95 692.2a2.55 2.55 0 1 0 5.1 0a2.55 2.55 0 1 0 -5.1 0M1216.95 692.2a2.55 2.55 0 1 0 5.1 0a2.55 2.55 0 1 0 -5.1 0M1274.95 692.2a2.55 2.55 0 1 0 5.1 0a2.55 2.55 0 1 0 -5.1 0M1383.95 692.2a2.55 2.55 0 1 0 5.1 0a2.55 2.55 0 1 0 -5.1 0M1391.95 692.2a2.55 2.55 0 1 0 5.1 0a2.55 2.55 0 1 0 -5.1 0M1398.95 692.2a2.55 2.55 0 1 0 5.1 0a2.55 2.55 0 1 0 -5.1 0M1405.95 692.2a2.55 2.55 0 1 0 5.1 0a2.55 2.55 0 1 0 -5.1 0" fill="#ffff00"/>
<path d="M201.95 692.2a2.55 2.55 0 1 0 5.1 0a2.55 2.55 0 1 0 -5.1 0M215.95 692.2a2.55 2.55 0 1 0 5.1 0a2.55 2.55 0 1 0 -5.1 0M222.95 692.2a2.55 2.55 0 1 0 5.1 0a2.55 2.55 0 1 0 -5.1 0M230.95 692.2a2.55 2.55 0 1 0 5.1 0a2.55 2.55 0 1 0 -5.1 0M237.95 692.2a2.55 2.55 0 1 0 5.1 0a2.55 2.55 0 1 0 -5.1 0M244.95 692.2a2.55 2.55 0 1 0 5.1 0a2.55 2.55 0 1 0 -5.1 0M252.95 692.2a2.55 2.55 0 1 0 5.1 0a2.55 2.55 0 1 0 -5.1 0M259.95 692.2a2.55 2.55 0 1 0 5.1 0a2.55 2.55 0 1 0 -5.1 0M266.95 692.2a2.55 2.55 0 1 0 5.1 0a2.55 2.55 0 1 0 -5.1 0M274.95 692.2a2.55 2.55 0 1 0 5.1 0a2.55 2.55 0 1 0 -5.1 0M281.95 692.2a2.55 2.55 0 1 0 5.1 0a2.55 2.55 0 1 0 -5.1 0M288.95 692.2a2.55 2.55 0 1 0 5.1 0a2.55 2.55 0 1 0 -5.1 0M310.95 692.2a2.55 2.55 0 1 0 5.1 0a2.55 2.55 0 1 0 -5.1 0M317.95 692.2a2.55 2.55 0 1 0 5.1 0a2.55 2.55 0 1 0 -5.1 0M325.95 692.2a2.55 2.55 0 1 0 5.1 0a2.55 2.55 0 1 0 -5.1 0M332.95 692.2a2.55 2.55 0 1 0 5.1 0a2.55 2.55 0 1 0 -5.1 0M376.95 692.2a2.55 2.55 0 1 0 5.1 0a2.55 2.55 0 1 0 -5.1 0M383.95 692.2a2.55 2.55 0 1 0 5.1 0a2.55 2.55 0 1 0 -5.1 0M544.95 692.2a2.55 2.55 0 1 0 5.1 0a2.55 2.55 0 1 0 -5.1 0M551.95 692.2a2.55 2.55 0 1 0 5.1 0a2.55 2.55 0 1 0 -5.1 0M558.95 692.2a2.55 2.55 0 1 0 5.1 0a2.55 2.55 0 1 0 -5.1 0M566.95 692.2a2.55 2.55 0 1 0 5.1 0a2.55 2.55 0 1 0 -5.1 0M573.95 692.2a2.55 2.55 0 1 0 5.1 0a2.55 2.55 0 1 0 -5.1 0M580.95 692.2a2.55 2.55 0 1 0 5.1 0a2.55 2.55 0 1 0 -5.1 0M588.95 692.2a2.55 2.55 0 1 0 5.1 0a2.55 2.55 0 1 0 -5.1 0M595.95 692.2a2.55 2.55 0 1 0 5.1 0a2.55 2.55 0 1 0 -5.1 0M602.95 692.2a2.55 2.55 0 1 0 5.1 0a2.55 2.55 0 1 0 -5.1 0M609.95 692.2a2.55 2.55 0 1 0 5.1 0a2.55 2.55 0 1 0 -5.1 0M617.95 692.2a2.55 2.55 0 1 0 5.1 0a2.55 2.55 0 1 0 -5.1 0M624.95 692.2a2.55 2.55 0 1 0 5.1 0a2.55 2.55 0 1 0 -5.1 0M631.95 692.2a2.55 2.55 0 1 0 5.1 0a2.55 2.55 0 1 0 -5.1 0M639.95 692.2a2.55 2.55 0 1 0 5.1 0a2.55 2.55 0 1 0 -5.1 0M646.95 692.2a2.55 2.55 0 1 0 5.1 0a2.55 2.55 0 1 0 -5.1 0M653.95 692.2a2.55 2.55 0 1 0 5.1 0a2.55 2.55 0 1 0 -5.1 0M661.95 692.2a2.55 2.55 0 1 0 5.1 0a2.55 2.55 0 1 0 -5.1 0M668.95 692.2a2.55 2.55 0 1 0 5.1 0a2.55 2.55 0 1 0 -5.1 0M675.95 692.2a2.55 2.55 0 1 0 5.1 0a2.55 2.55 0 1 0 -5.1 0M748.95 692.2a2.55 2.55 0 1 0 5.1 0a2.55 2.55 0 1 0 -5.1 0M756.95 692.2a2.55 2.55 0 1 0 5.1 0a2.55 2.55 0 1 0 -5.1 0M763.95 692.2a2.55 2.55 0 1 0 5.1 0a2.55 2.55 0 1 0 -5.1 0M770.95 692.2a2.55 2.55 0 1 0 5.1 0a2.55 2.55 0 1 0 -5.1 0M777.95 692.2a2.55 2.55 0 1 0 5.1 0a2.55 2.55 0 1 0 -5.1 0M785.95 692.2a2.55 2.55 0 1 0 5.1 0a2.55 2.55 0 1 0 -5.1 0M792.95 692.2a2.55 2.55 0 1 0 5.1 0a2.55 2.55 0 1 0 -5.1 0M799.95 692.2a2.55 2.55 0 1 0 5.1 0a2.55 2.55 0 1 0 -5.1 0M807.95 692.2a2.55 2.55 0 1 0 5.1 0a2.55 2.55 0 1 0 -5.1 0M865.95 692.2a2.55 2.55 0 1 0 5.1 0a2.55 2.55 0 1 0 -5.1 0M1223.95 692.2a2.55 2.55 0 1 0 5.1 0a2.55 2.55 0 1 0 -5.1 0M1230.95 692.2a2.55 2.55 0 1 0 5.1 0a2.55 2.55 0 1 0 -5.1 0M1237.95 692.2a2.55 2.55 0 1 0 5.1 0a2.55 2.55 0 1 0 -5.1 0M1245.95 692.2a2.55 2.55 0 1 0 5.1 0a2.55 2.55 0 1 0 -5.1 0M1252.95 692.2a2.55 2.55 0 1 0 5.1 0a2.55 2.55 0 1 0 -5.1 0M1259.95 692.2a2.55 2.55 0 1 0 5.1 0a2.55 2.55 0 1 0 -5.1 0M1267.95 692.2a2.55 2.55 0 1 0 5.1 0a2.55 2.55 0 1 0 -5.1 0M1413.95 692.2a2.55 2.55 0 1 0 5.1 0a2.55 2.55 0 1 0 -5.1 0M1420.95 692.2a2.55 2.55 0 1 0 5.1 0a2.55 2.55 0 1 0 -5.1 0M1427.95 692.2a2.55 2.55 0 1 0 5.1 0a2.55 2.55 0 1 0 -5.1 0M1435.95 692.2a2.55 2.55 0 1 0 5.1 0a2.55 2.55 0 1 0 -5.1 0M1442.95 692.2a2.55 2.55 0 1 0 5.1 0a2.55 2.55 0 1 0 -5.1 0" fill="#ff0000"/>
<path d="M11.95 703.3a2.55 2.55 0 1 0 5.1 0a2.55 2.55 0 1 0 -5.1 0M18.95 703.3a2.55 2.55 0 1 0 5.1 0a2.55 2.55 0 1 0 -5.1 0M62.95 703.3a2.55 2.55 0 1 0 5.1 0a2.55 2.55 0 1 0 -5.1 0M69.95 703.3a2.55 2.55 0 1 0 5.1 0a2.55 2.55 0 1 0 -5.1 0M76.95 703.3a2.55 2.55 0 1 0 5.1 0a2.55 2.55 0 1 0 -5.1 0M84.95 703.3a2.55 2.55 0 1 0 5.1 0a2.55 2.55 0 1 0 -5.1 0M91.95 703.3a2.55 2.55 0 1 0 5.1 0a2.55 2.55 0 1 0 -5.1 0M142.95 703.3a2.55 2.55 0 1 0 5.1 0a2.55 2.55 0 1 0 -5.1 0M149.95 703.3a2.55 2.55 0 1 0 5.1 0a2.55 2.55 0 1 0 -5.1 0M171.95 703.3a2.55 2.55 0 1 0 5.1 0a2.55 2.55 0 1 0 -5.1 0M310.95 703.3a2.55 2.55 0 1 0 5.1 0a2.55 2.55 0 1 0 -5.1 0M347.95 703.3a2.55 2.55 0 1 0 5.1 0a2.55 2.55 0 1 0 -5.1 0M354.95 703.3a2.55 2.55 0 1 0 5.1 0a2.55 2.55 0 1 0 -5.1 0M361.95 703.3a2.55 2.55 0 1 0 5.1 0a2.55 2.55 0 1 0 -5.1 0M369.95 703.3a2.55 2.55 0 1 0 5.1 0a2.55 2.55 0 1 0 -5.1 0M398.95 703.3a2.55 2.55 0 1 0 5.1 0a2.55 2.55 0 1 0 -5.1 0M405.95 703.3a2.55 2.55 0 1 0 5.1 0a2.55 2.55 0 1 0 -5.1 0M412.95 703.3a2.55 2.55 0 1 0 5.1 0a2.55 2.55 0 1 0 -5.1 0M420.95 703.3a2.55 2.55 0 1 0 5.1 0a2.55 2.55 0 1 0 -5.1 0M427.95 703.3a2.55 2.55 0 1 0 5.1 0a2.55 2.55 0 1 0 -5.1 0M434.95 703.3a2.55 2.55 0 1 0 5.1 0a2.55 2.55 0 1 0 -5.1 0M478.95 703.3a2.55 2.55 0 1 0 5.1 0a2.55 2.55 0 1 0 -5.1 0M485.95 703.3a2.55 2.55 0 1 0 5.1 0a2.55 2.55 0 1 0 -5.1 0M493.95 703.3a2.55 2.55 0 1 0 5.1 0a2.55 2.55 0 1 0 -5.1 0M500.95 703.3a2.55 2.55 0 1 0 5.1 0a2.55 2.55 0 1 0 -5.1 0M515.95 703.3a2.55 2.55 0 1 0 5.1 0a2.55 2.55 0 1 0 -5.1 0M522.95 703.3a2.55 2.55 0 1 0 5.1 0a2.55 2.55 0 1 0 -5.1 0M661.95 703.3a2.55 2.55 0 1 0 5.1 0a2.55 2.55 0 1 0 -5.1 0M668.95 703.3a2.55 2.55 0 1 0 5.1 0a2.55 2.55 0 1 0 -5.1 0M675.95 703.3a2.55 2.55 0 1 0 5.1 0a2.55 2.55 0 1 0 -5.1 0M682.95 703.3a2.55 2.55 0 1 0 5.1 0a2.55 2.55 0 1 0 -5.1 0M690.95 703.3a2.55 2.55 0 1 0 5.1 0a2.55 2.55 0 1 0 -5.1 0M712.95 703.3a2.55 2.55 0 1 0 5.1 0a2.55 2.55 0 1 0 -5.1 0M799.95 703.3a2.55 2.55 0 1 0 5.1 0a2.55 2.55 0 1 0 -5.1 0M807.95 703.3a2.55 2.55 0 1 0 5.1 0a2.55 2.55 0 1 0 -5.1 0M814.95 703.3a2.55 2.55 0 1 0 5.1 0a2.55 2.55 0 1 0 -5.1 0M821.95 703.3a2.55 2.55 0 1 0 5.1 0a2.55 2.55 0 1 0 -5.1 0M829.95 703.3a2.55 2.55 0 1 0 5.1 0a2.55 2.55 0 1 0 -5.1 0M836.95 703.3a2.55 2.55 0 1 0 5.1 0a2.55 2.55 0 1 0 -5.1 0M880.95 703.3a2.55 2.55 0 1 0 5.1 0a2.55 2.55 0 1 0 -5.1 0M887.95 703.3a2.55 2.55 0 1 0 5.1 0a2.55 2.55 0 1 0 -5.1 0M894.95 703.3a2.55 2.55 0 1 0 5.1 0a2.55 2.55 0 1 0 -5.1 0M902.95 703.3a2.55 2.55 0 1 0 5.1 0a2.55 2.55 0 1 0 -5.1 0M909.95 703.3a2.55 2.55 0 1 0 5.1 0a2.55 2.55 0 1 0 -5.1 0M953.95 703.3a2.55 2.55 0 1 0 5.1 0a2.55 2.55 0 1 0 -5.1 0M975.95 703.3a2.55 2.55 0 1 0 5.1 0a2.55 2.55 0 1 0 -5.1 0M982.95 703.3a2.55 2.55 0 1 0 5.1 0a2.55 2.55 0 1 0 -5.1 0M989.95 703.3a2.55 2.55 0 1 0 5.1 0a2.55 2.55 0 1 0 -5.1 0M996.95 703.3a2.55 2.55 0 1 0 5.1 0a2.55 2.55 0 1 0 -5.1 0M1004.95 703.3a2.55 2.55 0 1 0 5.1 0a2.55 2.55 0 1 0 -5.1 0M1040.95 703.3a2.55 2.55 0 1 0 5.1 0a2.55 2.55 0 1 0 -5.1 0M1048.95 703.3a2.55 2.55 0 1 0 5.1 0a2.55 2.55 0 1 0 -5.1 0M1055.95 703.3a2.55 2.55 0 1 0 5.1 0a2.55 2.55 0 1 0 -5.1 0M1062.95 703.3a2.55 2.55 0 1 0 5.1 0a2.55 2.55 0 1 0 -5.1 0M1128.95 703.3a2.55 2.55 0 1 0 5.1 0a2.55 2.55 0 1 0 -5.1 0M1135.95 703.3a2.55 2.55 0 1 0 5.1 0a2.55 2.55 0 1 0 -5.1 0M1142.95 703.3a2.55 2.55 0 1 0 5.1 0a2.55 2.55 0 1 0 -5.1 0M1150.95 703.3a2.55 2.55 0 1 0 5.1 0a2.55 2.55 0 1 0 -5.1 0M1281.95 703.3a2.55 2.55 0 1 0 5.1 0a2.55 2.55 0 1 0 -5.1 0M1289.95 703.3a2.55 2.55 0 1 0 5.1 0a2.55 2.55 0 1 0 -5.1 0M1296.95 703.3a2.55 2.55 0 1 0 5.1 0a2.55 2.55 0 1 0 -5.1 0M1303.95 703.3a2.55 2.55 0 1 0 5.1 0a2.55 2.55 0 1 0 -5.1 0M1310.95 703.3a2.55 2.55 0 1 0 5.1 0a2.55 2.55 0 1 0 -5.1 0M1354.95 703.3a2.55 2.55 0 1 0 5.1 0a2.55 2.55 0 1 0 -5.1 0M1362.95 703.3a2.55 2.55 0 1 0 5.1 0a2.55 2.55 0 1 0 -5.1 0M1369.95 703.3a2.55 2.55 0 1 0 5.1 0a2.55 2.55 0 1 0 -5.1 0" fill="#00ff00"/>
<path d="M25.95 703.3a2.55 2.55 0 1 0 5.1 0a2.55 2.55 0 1 0 -5.1 0M98.95 703.3a2.55 2.55 0 1 0 5.1 0a2.55 2.55 0 1 0 -5.1 0M120.95 703.3a2.55 2.55 0 1 0 5.1 0a2.55 2.55 0 1 0 -5.1 0M222.95 703.3a2.55 2.55 0 1 0 5.1 0a2.55 2.55 0 1 0 -5.1 0M230.95 703.3a2.55 2.55 0 1 0 5.1 0a2.55 2.55 0 1 0 -5.1 0M237.95 703.3a2.55 2.55 0 1 0 5.1 0a2.55 2.55 0 1 0 -5.1 0M244.95 703.3a2.55 2.55 0 1 0 5.1 0a2.55 2.55 0 1 0 -5.1 0M259.95 703.3a2.55 2.55 0 1 0 5.1 0a2.55 2.55 0 1 0 -5.1 0M266.95 703.3a2.55 2.55 0 1 0 5.1 0a2.55 2.55 0 1 0 -5.1 0M281.95 703.3a2.55 2.55 0 1 0 5.1 0a2.55 2.55 0 1 0 -5.1 0M288.95 703.3a2.55 2.55 0 1 0 5.1 0a2.55 2.55 0 1 0 -5.1 0M296.95 703.3a2.55 2.55 0 1 0 5.1 0a2.55 2.55 0 1 0 -5.1 0M303.95 703.3a2.55 2.55 0 1 0 5.1 0a2.55 2.55 0 1 0 -5.1 0M317.95 703.3a2.55 2.55 0 1 0 5.1 0a2.55 2.55 0 1 0 -5.1 0M376.95 703.3a2.55 2.55 0 1 0 5.1 0a2.55 2.55 0 1 0 -5.1 0M442.95 703.3a2.55 2.55 0 1 0 5.1 0a2.55 2.55 0 1 0 -5.1 0M529.95 703.3a2.55 2.55 0 1 0 5.1 0a2.55 2.55 0 1 0 -5.1 0M588.95 703.3a2.55 2.55 0 1 0 5.1 0a2.55 2.55 0 1 0 -5.1 0M595.95 703.3a2.55 2.55 0 1 0 5.1 0a2.55 2.55 0 1 0 -5.1 0M602.95 703.3a2.55 2.55 0 1 0 5.1 0a2.55 2.55 0 1 0 -5.1 0M609.95 703.3a2.55 2.55 0 1 0 5.1 0a2.55 2.55 0 1 0 -5.1 0M617.95 703.3a2.55 2.55 0 1 0 5.1 0a2.55 2.55 0 1 0 -5.1 0M624.95 703.3a2.55 2.55 0 1 0 5.1 0a2.55 2.55 0 1 0 -5.1 0M631.95 703.3a2.55 2.55 0 1 0 5.1 0a2.55 2.55 0 1 0 -5.1 0M639.95 703.3a2.55 2.55 0 1 0 5.1 0a2.55 2.55 0 1 0 -5.1 0M646.95 703.3a2.55 2.55 0 1 0 5.1 0a2.55 2.55 0 1 0 -5.1 0M653.95 703.3a2.55 2.55 0 1 0 5.1 0a2.55 2.55 0 1 0 -5.1 0M697.95 703.3a2.55 2.55 0 1 0 5.1 0a2.55 2.55 0 1 0 -5.1 0M704.95 703.3a2.55 2.55 0 1 0 5.1 0a2.55 2.55 0 1 0 -5.1 0M719.95 703.3a2.55 2.55 0 1 0 5.1 0a2.55 2.55 0 1 0 -5.1 0M726.95 703.3a2.55 2.55 0 1 0 5.1 0a2.55 2.55 0 1 0 -5.1 0M734.95 703.3a2.55 2.55 0 1 0 5.1 0a2.55 2.55 0 1 0 -5.1 0M741.95 703.3a2.55 2.55 0 1 0 5.1 0a2.55 2.55 0 1 0 -5.1 0M777.95 703.3a2.55 2.55 0 1 0 5.1 0a2.55 2.55 0 1 0 -5.1 0M785.95 703.3a2.55 2.55 0 1 0 5.1 0a2.55 2.55 0 1 0 -5.1 0M792.95 703.3a2.55 2.55 0 1 0 5.1 0a2.55 2.55 0 1 0 -5.1 0M843.95 703.3a2.55 2.55 0 1 0 5.1 0a2.55 2.55 0 1 0 -5.1 0M850.95 703.3a2.55 2.55 0 1 0 5.1 0a2.55 2.55 0 1 0 -5.1 0M916.95 703.3a2.55 2.55 0 1 0 5.1 0a2.55 2.55 0 1 0 -5.1 0M923.95 703.3a2.55 2.55 0 1 0 5.1 0a2.55 2.55 0 1 0 -5.1 0M931.95 703.3a2.55 2.55 0 1 0 5.1 0a2.55 2.55 0 1 0 -5.1 0M938.95 703.3a2.55 2.55 0 1 0 5.1 0a2.55 2.55 0 1 0 -5.1 0M945.95 703.3a2.55 2.55 0 1 0 5.1 0a2.55 2.55 0 1 0 -5.1 0M1011.95 703.3a2.55 2.55 0 1 0 5.1 0a2.55 2.55 0 1 0 -5.1 0M1018.95 703.3a2.55 2.55 0 1 0 5.1 0a2.55 2.55 0 1 0 -5.1 0M1026.95 703.3a2.55 2.55 0 1 0 5.1 0a2.55 2.55 0 1 0 -5.1 0M1069.95 703.3a2.55 2.55 0 1 0 5.1 0a2.55 2.55 0 1 0 -5.1 0M1077.95 703.3a2.55 2.55 0 1 0 5.1 0a2.55 2.55 0 1 0 -5.1 0M1106.95 703.3a2.55 2.55 0 1 0 5.1 0a2.55 2.55 0 1 0 -5.1 0M1113.95 703.3a2.55 2.55 0 1 0 5.1 0a2.55 2.55 0 1 0 -5.1 0M1121.95 703.3a2.55 2.55 0 1 0 5.1 0a2.55 2.55 0 1 0 -5.1 0M1157.95 703.3a2.55 2.55 0 1 0 5.1 0a2.55 2.55 0 1 0 -5.1 0M1201.95 703.3a2.55 2.55 0 1 0 5.1 0a2.55 2.55 0 1 0 -5.1 0M1208.95 703.3a2.55 2.55 0 1 0 5.1 0a2.55 2.55 0 1 0 -5.1 0M1216.95 703.3a2.55 2.55 0 1 0 5.1 0a2.55 2.55 0 1 0 -5.1 0M1252.95 703.3a2.55 2.55 0 1 0 5.1 0a2.55 2.55 0 1 0 -5.1 0M1259.95 703.3a2.55 2.55 0 1 0 5.1 0a2.55 2.55 0 1 0 -5.1 0M1267.95 703.3a2.55 2.55 0 1 0 5.1 0a2.55 2.55 0 1 0 -5.1 0M1274.95 703.3a2.55 2.55 0 1 0 5.1 0a2.55 2.55 0 1 0 -5.1 0M1318.95 703.3a2.55 2.55 0 1 0 5.1 0a2.55 2.55 0 1 0 -5.1 0M1325.95 703.3a2.55 2.55 0 1 0 5.1 0a2.55 2.55 0 1 0 -5.1 0M1332.95 703.3a2.55 2.55 0 1 0 5.1 0a2.55 2.55 0 1 0 -5.1 0M1420.95 703.3a2.55 2.55 0 1 0 5.1 0a2.55 2.55 0 1 0 -5.1 0" fill="#000000"/>
<path d="M33.95 703.3a2.55 2.55 0 1 0 5.1 0a2.55 2.55 0 1 0 -5.1 0M40.95 703.3a2.55 2.55 0 1 0 5.1 0a2.55 2.55 0 1 0 -5.1 0M47.95 703.3a2.55 2.55 0 1 0 5.1 0a2.55 2.55 0 1 0 -5.1 0M55.95 703.3a2.55 2.55 0 1 0 5.1 0a2.55 2.55 0 1 0 -5.1 0M106.95 703.3a2.55 2.55 0 1 0 5.1 0a2.55 2.55 0 1 0 -5.1 0M113.95 703.3a2.55 2.55 0 1 0 5.1 0a2.55 2.55 0 1 0 -5.1 0M128.95 703.3a2.55 2.55 0 1 0 5.1 0a2.55 2.55 0 1 0 -5.1 0M135.95 703.3a2.55 2.55 0 1 0 5.1 0a2.55 2.55 0 1 0 -5.1 0M157.95 703.3a2.55 2.55 0 1 0 5.1 0a2.55 2.55 0 1 0 -5.1 0M164.95 703.3a2.55 2.55 0 1 0 5.1 0a2.55 2.55 0 1 0 -5.1 0M179.95 703.3a2.55 2.55 0 1 0 5.1 0a2.55 2.55 0 1 0 -5.1 0M186.95 703.3a2.55 2.55 0 1 0 5.1 0a2.55 2.55 0 1 0 -5.1 0M193.95 703.3a2.55 2.55 0 1 0 5.1 0a2.55 2.55 0 1 0 -5.1 0M201.95 703.3a2.55 2.55 0 1 0 5.1 0a2.55 2.55 0 1 0 -5.1 0M208.95 703.3a2.55 2.55 0 1 0 5.1 0a2.55 2.55 0 1 0 -5.1 0M215.95 703.3a2.55 2.55 0 1 0 5.1 0a2.55 2.55 0 1 0 -5.1 0M252.95 703.3a2.55 2.55 0 1 0 5.1 0a2.55 2.55 0 1 0 -5.1 0M274.95 703.3a2.55 2.55 0 1 0 5.1 0a2.55 2.55 0 1 0 -5.1 0M325.95 703.3a2.55 2.55 0 1 0 5.1 0a2.55 2.55 0 1 0 -5.1 0M332.95 703.3a2.55 2.55 0 1 0 5.1 0a2.55 2.55 0 1 0 -5.1 0M339.95 703.3a2.55 2.55 0 1 0 5.1 0a2.55 2.55 0 1 0 -5.1 0M383.95 703.3a2.55 2.55 0 1 0 5.1 0a2.55 2.55 0 1 0 -5.1 0M390.95 703.3a2.55 2.55 0 1 0 5.1 0a2.55 2.55 0 1 0 -5.1 0M449.95 703.3a2.55 2.55 0 1 0 5.1 0a2.55 2.55 0 1 0 -5.1 0M456.95 703.3a2.55 2.55 0 1 0 5.1 0a2.55 2.55 0 1 0 -5.1 0M463.95 703.3a2.55 2.55 0 1 0 5.1 0a2.55 2.55 0 1 0 -5.1 0M471.95 703.3a2.55 2.55 0 1 0 5.1 0a2.55 2.55 0 1 0 -5.1 0M507.95 703.3a2.55 2.55 0 1 0 5.1 0a2.55 2.55 0 1 0 -5.1 0M536.95 703.3a2.55 2.55 0 1 0 5.1 0a2.55 2.55 0 1 0 -5.1 0M544.95 703.3a2.55 2.55 0 1 0 5.1 0a2.55 2.55 0 1 0 -5.1 0M551.95 703.3a2.55 2.55 0 1 0 5.1 0a2.55 2.55 0 1 0 -5.1 0M558.95 703.3a2.55 2.55 0 1 0 5.1 0a2.55 2.55 0 1 0 -5.1 0M566.95 703.3a2.55 2.55 0 1 0 5.1 0a2.55 2.55 0 1 0 -5.1 0M573.95 703.3a2.55 2.55 0 1 0 5.1 0a2.55 2.55 0 1 0 -5.1 0M580.95 703.3a2.55 2.55 0 1 0 5.1 0a2.55 2.55 0 1 0 -5.1 0M748.95 703.3a2.55 2.55 0 1 0 5.1 0a2.55 2.55 0 1 0 -5.1 0M756.95 703.3a2.55 2.55 0 1 0 5.1 0a2.55 2.55 0 1 0 -5.1 0M763.95 703.3a2.55 2.55 0 1 0 5.1 0a2.55 2.55 0 1 0 -5.1 0M770.95 703.3a2.55 2.55 0 1 0 5.1 0a2.55 2.55 0 1 0 -5.1 0M858.95 703.3a2.55 2.55 0 1 0 5.1 0a2.55 2.55 0 1 0 -5.1 0M865.95 703.3a2.55 2.55 0 1 0 5.1 0a2.55 2.55 0 1 0 -5.1 0M872.95 703.3a2.55 2.55 0 1 0 5.1 0a2.55 2.55 0 1 0 -5.1 0M960.95 703.3a2.55 2.55 0 1 0 5.1 0a2.55 2.55 0 1 0 -5.1 0M967.95 703.3a2.55 2.55 0 1 0 5.1 0a2.55 2.55 0 1 0 -5.1 0M1033.95 703.3a2.55 2.55 0 1 0 5.1 0a2.55 2.55 0 1 0 -5.1 0M1084.95 703.3a2.55 2.55 0 1 0 5.1 0a2.55 2.55 0 1 0 -5.1 0M1091.95 703.3a2.55 2.55 0 1 0 5.1 0a2.55 2.55 0 1 0 -5.1 0M1099.95 703.3a2.55 2.55 0 1 0 5.1 0a2.55 2.55 0 1 0 -5.1 0M1164.95 703.3a2.55 2.55 0 1 0 5.1 0a2.55 2.55 0 1 0 -5.1 0M1172.95 703.3a2.55 2.55 0 1 0 5.1 0a2.55 2.55 0 1 0 -5.1 0M1179.95 703.3a2.55 2.55 0 1 0 5.1 0a2.55 2.55 0 1 0 -5.1 0M1186.95 703.3a2.55 2.55 0 1 0 5.1 0a2.55 2.55 0 1 0 -5.1 0M1194.95 703.3a2.55 2.55 0 1 0 5.1 0a2.55 2.55 0 1 0 -5.1 0M1223.95 703.3a2.55 2.55 0 1 0 5.1 0a2.55 2.55 0 1 0 -5.1 0M1230.95 703.3a2.55 2.55 0 1 0 5.1 0a2.55 2.55 0 1 0 -5.1 0M1237.95 703.3a2.55 2.55 0 1 0 5.1 0a2.55 2.55 0 1 0 -5.1 0M1245.95 703.3a2.55 2.55 0 1 0 5.1 0a2.55 2.55 0 1 0 -5.1 0M1340.95 703.3a2.55 2.55 0 1 0 5.1 0a2.55 2.55 0 1 0 -5.1 0M1347.95 703.3a2.55 2.55 0 1 0 5.1 0a2.55 2.55 0 1 0 -5.1 0M1376.95 703.3a2.55 2.55 0 1 0 5.1 0a2.55 2.55 0 1 0 -5.1 0M1383.95 703.3a2.55 2.55 0 1 0 5.1 0a2.55 2.55 0 1 0 -5.1 0M1391.95 703.3a2.55 2.55 0 1 0 5.1 0a2.55 2.55 0 1 0 -5.1 0M1398.95 703.3a2.55 2.55 0 1 0 5.1 0a2.55 2.55 0 1 0 -5.1 0M1405.95 703.3a2.55 2.55 0 1 0 5.1 0a2.55 2.55 0 1 0 -5.1 0M1413.95 703.3a2.55 2.55 0 1 0 5.1 0a2.55 2.55 0 1 0 -5.1 0M1427.95 703.3a2.55 2.55 0 1 0 5.1 0a2.55 2.55 0 1 0 -5.1 0M1435.95 703.3a2.55 2.55 0 1 0 5.1 0a2.55 2.55 0 1 0 -5.1 0M1442.95 703.3a2.55 2.55 0 1 0 5.1 0a2.55 2.55 0 1 0 -5.1 0" fill="#ff0000"/>
<path d="M11.95 714.4a2.55 2.55 0 1 0 5.1 0a2.55 2.55 0 1 0 -5.1 0M18.95 714.4a2.55 2.55 0 1 0 5.1 0a2.55 2.55 0 1 0 -5.1 0M25.95 714.4a2.55 2.55 0 1 0 5.1 0a2.55 2.55 0 1 0 -5.1 0M33.95 714.4a2.55 2.55 0 1 0 5.1 0a2.55 2.55 0 1 0 -5.1 0M40.95 714.4a2.55 2.55 0 1 0 5.1 0a2.55 2.55 0 1 0 -5.1 0M47.95 714.4a2.55 2.55 0 1 0 5.1 0a2.55 2.55 0 1 0 -5.1 0M55.95 714.4a2.55 2.55 0 1 0 5.1 0a2.55 2.55 0 1 0 -5.1 0M62.95 714.4a2.55 2.55 0 1 0 5.1 0a2.55 2.55 0 1 0 -5.1 0M69.95 714.4a2.55 2.55 0 1 0 5.1 0a2.55 2.55 0 1 0 -5.1 0M76.95 714.4a2.55 2.55 0 1 0 5.1 0a2.55 2.55 0 1 0 -5.1 0M84.95 714.4a2.55 2.55 0 1 0 5.1 0a2.55 2.55 0 1 0 -5.1 0M91.95 714.4a2.55 2.55 0 1 0 5.1 0a2.55 2.55 0 1 0 -5.1 0M98.95 714.4a2.55 2.55 0 1 0 5.1 0a2.55 2.55 0 1 0 -5.1 0M106.95 714.4a2.55 2.55 0 1 0 5.1 0a2.55 2.55 0 1 0 -5.1 0M113.95 714.4a2.55 2.55 0 1 0 5.1 0a2.55 2.55 0 1 0 -5.1 0M120.95 714.4a2.55 2.55 0 1 0 5.1 0a2.55 2.55 0 1 0 -5.1 0M128.95 714.4a2.55 2.55 0 1 0 5.1 0a2.55 2.55 0 1 0 -5.1 0M135.95 714.4a2.55 2.55 0 1 0 5.1 0a2.55 2.55 0 1 0 -5.1 0M142.95 714.4a2.55 2.55 0 1 0 5.1 0a2.55 2.55 0 1 0 -5.1 0M149.95 714.4a2.55 2.55 0 1 0 5.1 0a2.55 2.55 0 1 0 -5.1 0M157.95 714.4a2.55 2.55 0 1 0 5.1 0a2.55 2.55 0 1 0 -5.1 0M164.95 714.4a2.55 2.55 0 1 0 5.1 0a2.55 2.55 0 1 0 -5.1 0M171.95 714.4a2.55 2.55 0 1 0 5.1 0a2.55 2.55 0 1 0 -5.1 0M179.95 714.4a2.55 2.55 0 1 0 5.1 0a2.55 2.55 0 1 0 -5.1 0M186.95 714.4a2.55 2.55 0 1 0 5.1 0a2.55 2.55 0 1 0 -5.1 0M193.95 714.4a2.55 2.55 0 1 0 5.1 0a2.55 2.55 0 1 0 -5.1 0M201.95 714.4a2.55 2.55 0 1 0 5.1 0a2.55 2.55 0 1 0 -5.1 0M208.95 714.4a2.55 2.55 0 1 0 5.1 0a2.55 2.55 0 1 0 -5.1 0M215.95 714.4a2.55 2.55 0 1 0 5.1 0a2.55 2.55 0 1 0 -5.1 0M222.95 714.4a2.55 2.55 0 1 0 5.1 0a2.55 2.55 0 1 0 -5.1 0M230.95 714.4a2.55 2.55 0 1 0 5.1 0a2.55 2.55 0 1 0 -5.1 0M237.95 714.4a2.55 2.55 0 1 0 5.1 0a2.55 2.55 0 1 0 -5.1 0M244.95 714.4a2.55 2.55 0 1 0 5.1 0a2.55 2.55 0 1 0 -5.1 0M252.95 714.4a2.55 2.55 0 1 0 5.1 0a2.55 2.55 0 1 0 -5.1 0M259.95 714.4a2.55 2.55 0 1 0 5.1 0a2.55 2.55 0 1 0 -5.1 0M266.95 714.4a2.55 2.55 0 1 0 5.1 0a2.55 2.55 0 1 0 -5.1 0M274.95 714.4a2.55 2.55 0 1 0 5.1 0a2.55 2.55 0 1 0 -5.1 0M281.95 714.4a2.55 2.55 0 1 0 5.1 0a2.55 2.55 0 1 0 -5.1 0M288.95 714.4a2.55 2.55 0 1 0 5.1 0a2.55 2.55 0 1 0 -5.1 0M296.95 714.4a2.55 2.55 0 1 0 5.1 0a2.55 2.55 0 1 0 -5.1 0M303.95 714.4a2.55 2.55 0 1 0 5.1 0a2.55 2.55 0 1 0 -5.1 0M310.95 714.4a2.55 2.55 0 1 0 5.1 0a2.55 2.55 0 1 0 -5.1 0M558.95 714.4a2.55 2.55 0 1 0 5.1 0a2.55 2.55 0 1 0 -5.1 0M566.95 714.4a2.55 2.55 0 1 0 5.1 0a2.55 2.55 0 1 0 -5.1 0M573.95 714.4a2.55 2.55 0 1 0 5.1 0a2.55 2.55 0 1 0 -5.1 0M953.95 714.4a2.55 2.55 0 1 0 5.1 0a2.55 2.55 0 1 0 -5.1 0M960.95 714.4a2.55 2.55 0 1 0 5.1 0a2.55 2.55 0 1 0 -5.1 0M967.95 714.4a2.55 2.55 0 1 0 5.1 0a2.55 2.55 0 1 0 -5.1 0M975.95 714.4a2.55 2.55 0 1 0 5.1 0a2.55 2.55 0 1 0 -5.1 0M982.95 714.4a2.55 2.55 0 1 0 5.1 0a2.55 2.55 0 1 0 -5.1 0M989.95 714.4a2.55 2.55 0 1 0 5.1 0a2.55 2.55 0 1 0 -5.1 0M996.95 714.4a2.55 2.55 0 1 0 5.1 0a2.55 2.55 0 1 0 -5.1 0M1004.95 714.4a2.55 2.55 0 1 0 5.1 0a2.55 2.55 0 1 0 -5.1 0M1011.95 714.4a2.55 2.55 0 1 0 5.1 0a2.55 2.55 0 1 0 -5.1 0M1018.95 714.4a2.55 2.55 0 1 0 5.1 0a2.55 2.55 0 1 0 -5.1 0M1026.95 714.4a2.55 2.55 0 1 0 5.1 0a2.55 2.55 0 1 0 -5.1 0M1033.95 714.4a2.55 2.55 0 1 0 5.1 0a2.55 2.55 0 1 0 -5.1 0M1040.95 714.4a2.55 2.55 0 1 0 5.1 0a2.55 2.55 0 1 0 -5.1 0M1048.95 714.4a2.55 2.55 0 1 0 5.1 0a2.55 2.55 0 1 0 -5.1 0M1055.95 714.4a2.55 2.55 0 1 0 5.1 0a2.55 2.55 0 1 0 -5.1 0M1062.95 714.4a2.55 2.55 0 1 0 5.1 0a2.55 2.55 0 1 0 -5.1 0M1069.95 714.4a2.55 2.55 0 1 0 5.1 0a2.55 2.55 0 1 0 -5.1 0M1077.95 714.4a2.55 2.55 0 1 0 5.1 0a2.55 2.55 0 1 0 -5.1 0M1084.95 714.4a2.55 2.55 0 1 0 5.1 0a2.55 2.55 0 1 0 -5.1 0M1091.95 714.4a2.55 2.55 0 1 0 5.1 0a2.55 2.55 0 1 0 -5.1 0M1099.95 714.4a2.55 2.55 0 1 0 5.1 0a2.55 2.55 0 1 0 -5.1 0M1106.95 714.4a2.55 2.55 0 1 0 5.1 0a2.55 2.55 0 1 0 -5.1 0M1113.95 714.4a2.55 2.55 0 1 0 5.1 0a2.55 2.55 0 1 0 -5.1 0M1121.95 714.4a2.55 2.55 0 1 0 5.1 0a2.55 2.55 0 1 0 -5.1 0M1128.95 714.4a2.55 2.55 0 1 0 5.1 0a2.55 2.55 0 1 0 -5.1 0M1135.95 714.4a2.55 2.55 0 1 0 5.1 0a2.55 2.55 0 1 0 -5.1 0M1142.95 714.4a2.55 2.55 0 1 0 5.1 0a2.55 2.55 0 1 0 -5.1 0M1150.95 714.4a2.55 2.55 0 1 0 5.1 0a2.55 2.55 0 1 0 -5.1 0M1157.95 714.4a2.55 2.55 0 1 0 5.1 0a2.55 2.55 0 1 0 -5.1 0M1164.95 714.4a2.55 2.55 0 1 0 5.1 0a2.55 2.55 0 1 0 -5.1 0M1172.95 714.4a2.55 2.55 0 1 0 5.1 0a2.55 2.55 0 1 0 -5.1 0M1179.95 714.4a2.55 2.55 0 1 0 5.1 0a2.55 2.55 0 1 0 -5.1 0M1186.95 714.4a2.55 2.55 0 1 0 5.1 0a2.55 2.55 0 1 0 -5.1 0M1194.95 714.4a2.55 2.55 0 1 0 5.1 0a2.55 2.55 0 1 0 -5.1 0M1201.95 714.4a2.55 2.55 0 1 0 5.1 0a2.55 2.55 0 1 0 -5.1 0M1208.95 714.4a2.55 2.55 0 1 0 5.1 0a2.55 2.55 0 1 0 -5.1 0M1216.95 714.4a2.55 2.55 0 1 0 5.1 0a2.55 2.55 0 1 0 -5.1 0M1223.95 714.4a2.55 2.55 0 1 0 5.1 0a2.55 2.55 0 1 0 -5.1 0M1230.95 714.4a2.55 2.55 0 1 0 5.1 0a2.55 2.55 0 1 0 -5.1 0M1237.95 714.4a2.55 2.55 0 1 0 5.1 0a2.55 2.55 0 1 0 -5.1 0M1245.95 714.4a2.55 2.55 0 1 0 5.1 0a2.55 2.55 0 1 0 -5.1 0M1252.95 714.4a2.55 2.55 0 1 0 5.1 0a2.55 2.55 0 1 0 -5.1 0M1259.95 714.4a2.55 2.55 0 1 0 5.1 0a2.55 2.55 0 1 0 -5.1 0M1267.95 714.4a2.55 2.55 0 1 0 5.1 0a2.55 2.55 0 1 0 -5.1 0M1274.95 714.4a2.55 2.55 0 1 0 5.1 0a2.55 2.55 0 1 0 -5.1 0M1281.95 714.4a2.55 2.55 0 1 0 5.1 0a2.55 2.55 0 1 0 -5.1 0M1289.95 714.4a2.55 2.55 0 1 0 5.1 0a2.55 2.55 0 1 0 -5.1 0M1296.95 714.4a2.55 2.55 0 1 0 5.1 0a2.55 2.55 0 1 0 -5.1 0M1303.95 714.4a2.55 2.55 0 1 0 5.1 0a2.55 2.55 0 1 0 -5.1 0M1310.95 714.4a2.55 2.55 0 1 0 5.1 0a2.55 2.55 0 1 0 -5.1 0M1318.95 714.4a2.55 2.55 0 1 0 5.1 0a2.55 2.55 0 1 0 -5.1 0M1325.95 714.4a2.55 2.55 0 1 0 5.1 0a2.55 2.55 0 1 0 -5.1 0M1332.95 714.4a2.55 2.55 0 1 0 5.1 0a2.55 2.55 0 1 0 -5.1 0M1340.95 714.4a2.55 2.55 0 1 0 5.1 0a2.55 2.55 0 1 0 -5.1 0M1347.95 714.4a2.55 2.55 0 1 0 5.1 0a2.55 2.55 0 1 0 -5.1 0M1354.95 714.4a2.55 2.55 0 1 0 5.1 0a2.55 2.55 0 1 0 -5.1 0M1362.95 714.4a2.55 2.55 0 1 0 5.1 0a2.55 2.55 0 1 0 -5.1 0M1369.95 714.4a2.55 2.55 0 1 0 5.1 0a2.55 2.55 0 1 0 -5.1 0M1376.95 714.4a2.55 2.55 0 1 0 5.1 0a2.55 2.55 0 1 0 -5.1 0M1383.95 714.4a2.55 2.55 0 1 0 5.1 0a2.55 2.55 0 1 0 -5.1 0M1391.95 714.4a2.55 2.55 0 1 0 5.1 0a2.55 2.55 0 1 0 -5.1 0M1398.95 714.4a2.55 2.55 0 1 0 5.1 0a2.55 2.55 0 1 0 -5.1 0M1405.95 714.4a2.55 2.55 0 1 0 5.1 0a2.55 2.55 0 1 0 -5.1 0M1413.95 714.4a2.55 2.55 0 1 0 5.1 0a2.55 2.55 0 1 0 -5.1 0M1420.95 714.4a2.55 2.55 0 1 0 5.1 0a2.55 2.55 0 1 0 -5.1 0M1427.95 714.4a2.55 2.55 0 1 0 5.1 0a2.55 2.55 0 1 0 -5.1 0M1435.95 714.4a2.55 2.55 0 1 0 5.1 0a2.55 2.55 0 1 0 -5.1 0M1442.95 714.4a2.55 2.55 0 1 0 5.1 0a2.55 2.55 0 1 0 -5.1 0" fill="#00ff00"/>
<path d="M317.95 714.4a2.55 2.55 0 1 0 5.1 0a2.55 2.55 0 1 0 -5.1 0M325.95 714.4a2.55 2.55 0 1 0 5.1 0a2.55 2.55 0 1 0 -5.1 0M332.95 714.4a2.55 2.55 0 1 0 5.1 0a2.55 2.55 0 1 0 -5.1 0M339.95 714.4a2.55 2.55 0 1 0 5.1 0a2.55 2.55 0 1 0 -5.1 0M347.95 714.4a2.55 2.55 0 1 0 5.1 0a2.55 2.55 0 1 0 -5.1 0M354.95 714.4a2.55 2.55 0 1 0 5.1 0a2.55 2.55 0 1 0 -5.1 0M361.95 714.4a2.55 2.55 0 1 0 5.1 0a2.55 2.55 0 1 0 -5.1 0M369.95 714.4a2.55 2.55 0 1 0 5.1 0a2.55 2.55 0 1 0 -5.1 0M376.95 714.4a2.55 2.55 0 1 0 5.1 0a2.55 2.55 0 1 0 -5.1 0M383.95 714.4a2.55 2.55 0 1 0 5.1 0a2.55 2.55 0 1 0 -5.1 0M390.95 714.4a2.55 2.55 0 1 0 5.1 0a2.55 2.55 0 1 0 -5.1 0M398.95 714.4a2.55 2.55 0 1 0 5.1 0a2.55 2.55 0 1 0 -5.1 0M405.95 714.4a2.55 2.55 0 1 0 5.1 0a2.55 2.55 0 1 0 -5.1 0M412.95 714.4a2.55 2.55 0 1 0 5.1 0a2.55 2.55 0 1 0 -5.1 0M420.95 714.4a2.55 2.55 0 1 0 5.1 0a2.55 2.55 0 1 0 -5.1 0M427.95 714.4a2.55 2.55 0 1 0 5.1 0a2.55 2.55 0 1 0 -5.1 0M434.95 714.4a2.55 2.55 0 1 0 5.1 0a2.55 2.55 0 1 0 -5.1 0M442.95 714.4a2.55 2.55 0 1 0 5.1 0a2.55 2.55 0 1 0 -5.1 0M449.95 714.4a2.55 2.55 0 1 0 5.1 0a2.55 2.55 0 1 0 -5.1 0M456.95 714.4a2.55 2.55 0 1 0 5.1 0a2.55 2.55 0 1 0 -5.1 0M463.95 714.4a2.55 2.55 0 1 0 5.1 0a2.55 2.55 0 1 0 -5.1 0M471.95 714.4a2.55 2.55 0 1 0 5.1 0a2.55 2.55 0 1 0 -5.1 0M478.95 714.4a2.55 2.55 0 1 0 5.1 0a2.55 2.55 0 1 0 -5.1 0M485.95 714.4a2.55 2.55 0 1 0 5.1 0a2.55 2.55 0 1 0 -5.1 0M493.95 714.4a2.55 2.55 0 1 0 5.1 0a2.55 2.55 0 1 0 -5.1 0M500.95 714.4a2.55 2.55 0 1 0 5.1 0a2.55 2.55 0 1 0 -5.1 0M507.95 714.4a2.55 2.55 0 1 0 5.1 0a2.55 2.55 0 1 0 -5.1 0M515.95 714.4a2.55 2.55 0 1 0 5.1 0a2.55 2.55 0 1 0 -5.1 0M522.95 714.4a2.55 2.55 0 1 0 5.1 0a2.55 2.55 0 1 0 -5.1 0M529.95 714.4a2.55 2.55 0 1 0 5.1 0a2.55 2.55 0 1 0 -5.1 0M536.95 714.4a2.55 2.55 0 1 0 5.1 0a2.55 2.55 0 1 0 -5.1 0M544.95 714.4a2.55 2.55 0 1 0 5.1 0a2.55 2.55 0 1 0 -5.1 0M551.95 714.4a2.55 2.55 0 1 0 5.1 0a2.55 2.55 0 1 0 -5.1 0M580.95 714.4a2.55 2.55 0 1 0 5.1 0a2.55 2.55 0 1 0 -5.1 0M588.95 714.4a2.55 2.55 0 1 0 5.1 0a2.55 2.55 0 1 0 -5.1 0M595.95 714.4a2.55 2.55 0 1 0 5.1 0a2.55 2.55 0 1 0 -5.1 0M602.95 714.4a2.55 2.55 0 1 0 5.1 0a2.55 2.55 0 1 0 -5.1 0M609.95 714.4a2.55 2.55 0 1 0 5.1 0a2.55 2.55 0 1 0 -5.1 0M617.95 714.4a2.55 2.55 0 1 0 5.1 0a2.55 2.55 0 1 0 -5.1 0M624.95 714.4a2.55 2.55 0 1 0 5.1 0a2.55 2.55 0 1 0 -5.1 0M631.95 714.4a2.55 2.55 0 1 0 5.1 0a2.55 2.55 0 1 0 -5.1 0M639.95 714.4a2.55 2.55 0 1 0 5.1 0a2.55 2.55 0 1 0 -5.1 0M646.95 714.4a2.55 2.55 0 1 0 5.1 0a2.55 2.55 0 1 0 -5.1 0M653.95 714.4a2.55 2.55 0 1 0 5.1 0a2.55 2.55 0 1 0 -5.1 0M661.95 714.4a2.55 2.55 0 1 0 5.1 0a2.55 2.55 0 1 0 -5.1 0M668.95 714.4a2.55 2.55 0 1 0 5.1 0a2.55 2.55 0 1 0 -5.1 0M675.95 714.4a2.55 2.55 0 1 0 5.1 0a2.55 2.55 0 1 0 -5.1 0M682.95 714.4a2.55 2.55 0 1 0 5.1 0a2.55 2.55 0 1 0 -5.1 0M690.95 714.4a2.55 2.55 0 1 0 5.1 0a2.55 2.55 0 1 0 -5.1 0M697.95 714.4a2.55 2.55 0 1 0 5.1 0a2.55 2.55 0 1 0 -5.1 0M704.95 714.4a2.55 2.55 0 1 0 5.1 0a2.55 2.55 0 1 0 -5.1 0M712.95 714.4a2.55 2.55 0 1 0 5.1 0a2.55 2.55 0 1 0 -5.1 0M719.95 714.4a2.55 2.55 0 1 0 5.1 0a2.55 2.55 0 1 0 -5.1 0M726.95 714.4a2.55 2.55 0 1 0 5.1 0a2.55 2.55 0 1 0 -5.1 0M734.95 714.4a2.55 2.55 0 1 0 5.1 0a2.55 2.55 0 1 0 -5.1 0M741.95 714.4a2.55 2.55 0 1 0 5.1 0a2.55 2.55 0 1 0 -5.1 0M748.95 714.4a2.55 2.55 0 1 0 5.1 0a2.55 2.55 0 1 0 -5.1 0M756.95 714.4a2.55 2.55 0 1 0 5.1 0a2.55 2.55 0 1 0 -5.1 0M763.95 714.4a2.55 2.55 0 1 0 5.1 0a2.55 2.55 0 1 0 -5.1 0M770.95 714.4a2.55 2.55 0 1 0 5.1 0a2.55 2.55 0 1 0 -5.1 0M777.95 714.4a2.55 2.55 0 1 0 5.1 0a2.55 2.55 0 1 0 -5.1 0M785.95 714.4a2.55 2.55 0 1 0 5.1 0a2.55 2.55 0 1 0 -5.1 0M792.95 714.4a2.55 2.55 0 1 0 5.1 0a2.55 2.55 0 1 0 -5.1 0M799.95 714.4a2.55 2.55 0 1 0 5.1 0a2.55 2.55 0 1 0 -5.1 0M807.95 714.4a2.55 2.55 0 1 0 5.1 0a2.55 2.55 0 1 0 -5.1 0M814.95 714.4a2.55 2.55 0 1 0 5.1 0a2.55 2.55 0 1 0 -5.1 0M821.95 714.4a2.55 2.55 0 1 0 5.1 0a2.55 2.55 0 1 0 -5.1 0M829.95 714.4a2.55 2.55 0 1 0 5.1 0a2.55 2.55 0 1 0 -5.1 0M836.95 714.4a2.55 2.55 0 1 0 5.1 0a2.55 2.55 0 1 0 -5.1 0M843.95 714.4a2.55 2.55 0 1 0 5.1 0a2.55 2.55 0 1 0 -5.1 0M850.95 714.4a2.55 2.55 0 1 0 5.1 0a2.55 2.55 0 1 0 -5.1 0M858.95 714.4a2.55 2.55 0 1 0 5.1 0a2.55 2.55 0 1 0 -5.1 0M865.95 714.4a2.55 2.55 0 1 0 5.1 0a2.55 2.55 0 1 0 -5.1 0M872.95 714.4a2.55 2.55 0 1 0 5.1 0a2.55 2.55 0 1 0 -5.1 0M880.95 714.4a2.55 2.55 0 1 0 5.1 0a2.55 2.55 0 1 0 -5.1 0M887.95 714.4a2.55 2.55 0 1 0 5.1 0a2.55 2.55 0 1 0 -5.1 0M894.95 714.4a2.55 2.55 0 1 0 5.1 0a2.55 2.55 0 1 0 -5.1 0M902.95 714.4a2.55 2.55 0 1 0 5.1 0a2.55 2.55 0 1 0 -5.1 0M909.95 714.4a2.55 2.55 0 1 0 5.1 0a2.55 2.55 0 1 0 -5.1 0M916.95 714.4a2.55 2.55 0 1 0 5.1 0a2.55 2.55 0 1 0 -5.1 0M923.95 714.4a2.55 2.55 0 1 0 5.1 0a2.55 2.55 0 1 0 -5.1 0M931.95 714.4a2.55 2.55 0 1 0 5.1 0a2.55 2.55 0 1 0 -5.1 0M938.95 714.4a2.55 2.55 0 1 0 5.1 0a2.55 2.55 0 1 0 -5.1 0M945.95 714.4a2.55 2.55 0 1 0 5.1 0a2.55 2.55 0 1 0 -5.1 0" fill="#ff0000"/>
<path d="M11.95 725.4a2.55 2.55 0 1 0 5.1 0a2.55 2.55 0 1 0 -5.1 0M18.95 725.4a2.55 2.55 0 1 0 5.1 0a2.55 2.55 0 1 0 -5.1 0M25.95 725.4a2.55 2.55 0 1 0 5.1 0a2.55 2.55 0 1 0 -5.1 0M33.95 725.4a2.55 2.55 0 1 0 5.1 0a2.55 2.55 0 1 0 -5.1 0M76.95 725.4a2.55 2.55 0 1 0 5.1 0a2.55 2.55 0 1 0 -5.1 0M84.95 725.4a2.55 2.55 0 1 0 5.1 0a2.55 2.55 0 1 0 -5.1 0M91.95 725.4a2.55 2.55 0 1 0 5.1 0a2.55 2.55 0 1 0 -5.1 0M98.95 725.4a2.55 2.55 0 1 0 5.1 0a2.55 2.55 0 1 0 -5.1 0M106.95 725.4a2.55 2.55 0 1 0 5.1 0a2.55 2.55 0 1 0 -5.1 0M113.95 725.4a2.55 2.55 0 1 0 5.1 0a2.55 2.55 0 1 0 -5.1 0M120.95 725.4a2.55 2.55 0 1 0 5.1 0a2.55 2.55 0 1 0 -5.1 0M142.95 725.4a2.55 2.55 0 1 0 5.1 0a2.55 2.55 0 1 0 -5.1 0M149.95 725.4a2.55 2.55 0 1 0 5.1 0a2.55 2.55 0 1 0 -5.1 0M157.95 725.4a2.55 2.55 0 1 0 5.1 0a2.55 2.55 0 1 0 -5.1 0M171.95 725.4a2.55 2.55 0 1 0 5.1 0a2.55 2.55 0 1 0 -5.1 0M420.95 725.4a2.55 2.55 0 1 0 5.1 0a2.55 2.55 0 1 0 -5.1 0M427.95 725.4a2.55 2.55 0 1 0 5.1 0a2.55 2.55 0 1 0 -5.1 0M434.95 725.4a2.55 2.55 0 1 0 5.1 0a2.55 2.55 0 1 0 -5.1 0M442.95 725.4a2.55 2.55 0 1 0 5.1 0a2.55 2.55 0 1 0 -5.1 0M449.95 725.4a2.55 2.55 0 1 0 5.1 0a2.55 2.55 0 1 0 -5.1 0M456.95 725.4a2.55 2.55 0 1 0 5.1 0a2.55 2.55 0 1 0 -5.1 0M485.95 725.4a2.55 2.55 0 1 0 5.1 0a2.55 2.55 0 1 0 -5.1 0M493.95 725.4a2.55 2.55 0 1 0 5.1 0a2.55 2.55 0 1 0 -5.1 0M500.95 725.4a2.55 2.55 0 1 0 5.1 0a2.55 2.55 0 1 0 -5.1 0M507.95 725.4a2.55 2.55 0 1 0 5.1 0a2.55 2.55 0 1 0 -5.1 0M515.95 725.4a2.55 2.55 0 1 0 5.1 0a2.55 2.55 0 1 0 -5.1 0M522.95 725.4a2.55 2.55 0 1 0 5.1 0a2.55 2.55 0 1 0 -5.1 0M529.95 725.4a2.55 2.55 0 1 0 5.1 0a2.55 2.55 0 1 0 -5.1 0M536.95 725.4a2.55 2.55 0 1 0 5.1 0a2.55 2.55 0 1 0 -5.1 0M902.95 725.4a2.55 2.55 0 1 0 5.1 0a2.55 2.55 0 1 0 -5.1 0M909.95 725.4a2.55 2.55 0 1 0 5.1 0a2.55 2.55 0 1 0 -5.1 0M916.95 725.4a2.55 2.55 0 1 0 5.1 0a2.55 2.55 0 1 0 -5.1 0M923.95 725.4a2.55 2.55 0 1 0 5.1 0a2.55 2.55 0 1 0 -5.1 0M931.95 725.4a2.55 2.55 0 1 0 5.1 0a2.55 2.55 0 1 0 -5.1 0M938.95 725.4a2.55 2.55 0 1 0 5.1 0a2.55 2.55 0 1 0 -5.1 0M945.95 725.4a2.55 2.55 0 1 0 5.1 0a2.55 2.55 0 1 0 -5.1 0M953.95 725.4a2.55 2.55 0 1 0 5.1 0a2.55 2.55 0 1 0 -5.1 0M960.95 725.4a2.55 2.55 0 1 0 5.1 0a2.55 2.55 0 1 0 -5.1 0M967.95 725.4a2.55 2.55 0 1 0 5.1 0a2.55 2.55 0 1 0 -5.1 0M975.95 725.4a2.55 2.55 0 1 0 5.1 0a2.55 2.55 0 1 0 -5.1 0M982.95 725.4a2.55 2.55 0 1 0 5.1 0a2.55 2.55 0 1 0 -5.1 0M989.95 725.4a2.55 2.55 0 1 0 5.1 0a2.55 2.55 0 1 0 -5.1 0M996.95 725.4a2.55 2.55 0 1 0 5.1 0a2.55 2.55 0 1 0 -5.1 0M1004.95 725.4a2.55 2.55 0 1 0 5.1 0a2.55 2.55 0 1 0 -5.1 0M1011.95 725.4a2.55 2.55 0 1 0 5.1 0a2.55 2.55 0 1 0 -5.1 0M1018.95 725.4a2.55 2.55 0 1 0 5.1 0a2.55 2.55 0 1 0 -5.1 0M1026.95 725.4a2.55 2.55 0 1 0 5.1 0a2.55 2.55 0 1 0 -5.1 0M1033.95 725.4a2.55 2.55 0 1 0 5.1 0a2.55 2.55 0 1 0 -5.1 0M1040.95 725.4a2.55 2.55 0 1 0 5.1 0a2.55 2.55 0 1 0 -5.1 0M1048.95 725.4a2.55 2.55 0 1 0 5.1 0a2.55 2.55 0 1 0 -5.1 0M1055.95 725.4a2.55 2.55 0 1 0 5.1 0a2.55 2.55 0 1 0 -5.1 0M1062.95 725.4a2.55 2.55 0 1 0 5.1 0a2.55 2.55 0 1 0 -5.1 0M1069.95 725.4a2.55 2.55 0 1 0 5.1 0a2.55 2.55 0 1 0 -5.1 0M1077.95 725.4a2.55 2.55 0 1 0 5.1 0a2.55 2.55 0 1 0 -5.1 0M1084.95 725.4a2.55 2.55 0 1 0 5.1 0a2.55 2.55 0 1 0 -5.1 0M1128.95 725.4a2.55 2.55 0 1 0 5.1 0a2.55 2.55 0 1 0 -5.1 0M1135.95 725.4a2.55 2.55 0 1 0 5.1 0a2.55 2.55 0 1 0 -5.1 0M1142.95 725.4a2.55 2.55 0 1 0 5.1 0a2.55 2.55 0 1 0 -5.1 0M1150.95 725.4a2.55 2.55 0 1 0 5.1 0a2.55 2.55 0 1 0 -5.1 0M1157.95 725.4a2.55 2.55 0 1 0 5.1 0a2.55 2.55 0 1 0 -5.1 0M1164.95 725.4a2.55 2.55 0 1 0 5.1 0a2.55 2.55 0 1 0 -5.1 0M1289.95 725.4a2.55 2.55 0 1 0 5.1 0a2.55 2.55 0 1 0 -5.1 0M1296.95 725.4a2.55 2.55 0 1 0 5.1 0a2.55 2.55 0 1 0 -5.1 0M1303.95 725.4a2.55 2.55 0 1 0 5.1 0a2.55 2.55 0 1 0 -5.1 0M1310.95 725.4a2.55 2.55 0 1 0 5.1 0a2.55 2.55 0 1 0 -5.1 0M1318.95 725.4a2.55 2.55 0 1 0 5.1 0a2.55 2.55 0 1 0 -5.1 0M1325.95 725.4a2.55 2.55 0 1 0 5.1 0a2.55 2.55 0 1 0 -5.1 0M1332.95 725.4a2.55 2.55 0 1 0 5.1 0a2.55 2.55 0 1 0 -5.1 0M1340.95 725.4a2.55 2.55 0 1 0 5.1 0a2.55 2.55 0 1 0 -5.1 0M1347.95 725.4a2.55 2.55 0 1 0 5.1 0a2.55 2.55 0 1 0 -5.1 0M1354.95 725.4a2.55 2.55 0 1 0 5.1 0a2.55 2.55 0 1 0 -5.1 0M1362.95 725.4a2.55 2.55 0 1 0 5.1 0a2.55 2.55 0 1 0 -5.1 0M1369.95 725.4a2.55 2.55 0 1 0 5.1 0a2.55 2.55 0 1 0 -5.1 0M1376.95 725.4a2.55 2.55 0 1 0 5.1 0a2.55 2.55 0 1 0 -5.1 0" fill="#00ff00"/>
<path d="M40.95 725.4a2.55 2.55 0 1 0 5.1 0a2.55 2.55 0 1 0 -5.1 0M47.95 725.4a2.55 2.55 0 1 0 5.1 0a2.55 2.55 0 1 0 -5.1 0M55.95 725.4a2.55 2.55 0 1 0 5.1 0a2.55 2.55 0 1 0 -5.1 0M62.95 725.4a2.55 2.55 0 1 0 5.1 0a2.55 2.55 0 1 0 -5.1 0M69.95 725.4a2.55 2.55 0 1 0 5.1 0a2.55 2.55 0 1 0 -5.1 0M128.95 725.4a2.55 2.55 0 1 0 5.1 0a2.55 2.55 0 1 0 -5.1 0M135.95 725.4a2.55 2.55 0 1 0 5.1 0a2.55 2.55 0 1 0 -5.1 0M164.95 725.4a2.55 2.55 0 1 0 5.1 0a2.55 2.55 0 1 0 -5.1 0M179.95 725.4a2.55 2.55 0 1 0 5.1 0a2.55 2.55 0 1 0 -5.1 0M186.95 725.4a2.55 2.55 0 1 0 5.1 0a2.55 2.55 0 1 0 -5.1 0M193.95 725.4a2.55 2.55 0 1 0 5.1 0a2.55 2.55 0 1 0 -5.1 0M201.95 725.4a2.55 2.55 0 1 0 5.1 0a2.55 2.55 0 1 0 -5.1 0M208.95 725.4a2.55 2.55 0 1 0 5.1 0a2.55 2.55 0 1 0 -5.1 0M215.95 725.4a2.55 2.55 0 1 0 5.1 0a2.55 2.55 0 1 0 -5.1 0M222.95 725.4a2.55 2.55 0 1 0 5.1 0a2.55 2.55 0 1 0 -5.1 0M347.95 725.4a2.55 2.55 0 1 0 5.1 0a2.55 2.55 0 1 0 -5.1 0M354.95 725.4a2.55 2.55 0 1 0 5.1 0a2.55 2.55 0 1 0 -5.1 0M361.95 725.4a2.55 2.55 0 1 0 5.1 0a2.55 2.55 0 1 0 -5.1 0M369.95 725.4a2.55 2.55 0 1 0 5.1 0a2.55 2.55 0 1 0 -5.1 0M376.95 725.4a2.55 2.55 0 1 0 5.1 0a2.55 2.55 0 1 0 -5.1 0M383.95 725.4a2.55 2.55 0 1 0 5.1 0a2.55 2.55 0 1 0 -5.1 0M398.95 725.4a2.55 2.55 0 1 0 5.1 0a2.55 2.55 0 1 0 -5.1 0M405.95 725.4a2.55 2.55 0 1 0 5.1 0a2.55 2.55 0 1 0 -5.1 0M412.95 725.4a2.55 2.55 0 1 0 5.1 0a2.55 2.55 0 1 0 -5.1 0M463.95 725.4a2.55 2.55 0 1 0 5.1 0a2.55 2.55 0 1 0 -5.1 0M471.95 725.4a2.55 2.55 0 1 0 5.1 0a2.55 2.55 0 1 0 -5.1 0M478.95 725.4a2.55 2.55 0 1 0 5.1 0a2.55 2.55 0 1 0 -5.1 0M544.95 725.4a2.55 2.55 0 1 0 5.1 0a2.55 2.55 0 1 0 -5.1 0M551.95 725.4a2.55 2.55 0 1 0 5.1 0a2.55 2.55 0 1 0 -5.1 0M558.95 725.4a2.55 2.55 0 1 0 5.1 0a2.55 2.55 0 1 0 -5.1 0M566.95 725.4a2.55 2.55 0 1 0 5.1 0a2.55 2.55 0 1 0 -5.1 0M675.95 725.4a2.55 2.55 0 1 0 5.1 0a2.55 2.55 0 1 0 -5.1 0M682.95 725.4a2.55 2.55 0 1 0 5.1 0a2.55 2.55 0 1 0 -5.1 0M690.95 725.4a2.55 2.55 0 1 0 5.1 0a2.55 2.55 0 1 0 -5.1 0M697.95 725.4a2.55 2.55 0 1 0 5.1 0a2.55 2.55 0 1 0 -5.1 0M704.95 725.4a2.55 2.55 0 1 0 5.1 0a2.55 2.55 0 1 0 -5.1 0M712.95 725.4a2.55 2.55 0 1 0 5.1 0a2.55 2.55 0 1 0 -5.1 0M719.95 725.4a2.55 2.55 0 1 0 5.1 0a2.55 2.55 0 1 0 -5.1 0M726.95 725.4a2.55 2.55 0 1 0 5.1 0a2.55 2.55 0 1 0 -5.1 0M734.95 725.4a2.55 2.55 0 1 0 5.1 0a2.55 2.55 0 1 0 -5.1 0M741.95 725.4a2.55 2.55 0 1 0 5.1 0a2.55 2.55 0 1 0 -5.1 0M748.95 725.4a2.55 2.55 0 1 0 5.1 0a2.55 2.55 0 1 0 -5.1 0M756.95 725.4a2.55 2.55 0 1 0 5.1 0a2.55 2.55 0 1 0 -5.1 0M814.95 725.4a2.55 2.55 0 1 0 5.1 0a2.55 2.55 0 1 0 -5.1 0M821.95 725.4a2.55 2.55 0 1 0 5.1 0a2.55 2.55 0 1 0 -5.1 0M829.95 725.4a2.55 2.55 0 1 0 5.1 0a2.55 2.55 0 1 0 -5.1 0M836.95 725.4a2.55 2.55 0 1 0 5.1 0a2.55 2.55 0 1 0 -5.1 0M843.95 725.4a2.55 2.55 0 1 0 5.1 0a2.55 2.55 0 1 0 -5.1 0M850.95 725.4a2.55 2.55 0 1 0 5.1 0a2.55 2.55 0 1 0 -5.1 0M858.95 725.4a2.55 2.55 0 1 0 5.1 0a2.55 2.55 0 1 0 -5.1 0M865.95 725.4a2.55 2.55 0 1 0 5.1 0a2.55 2.55 0 1 0 -5.1 0M872.95 725.4a2.55 2.55 0 1 0 5.1 0a2.55 2.55 0 1 0 -5.1 0M880.95 725.4a2.55 2.55 0 1 0 5.1 0a2.55 2.55 0 1 0 -5.1 0M887.95 725.4a2.55 2.55 0 1 0 5.1 0a2.55 2.55 0 1 0 -5.1 0M894.95 725.4a2.55 2.55 0 1 0 5.1 0a2.55 2.55 0 1 0 -5.1 0M1091.95 725.4a2.55 2.55 0 1 0 5.1 0a2.55 2.55 0 1 0 -5.1 0M1099.95 725.4a2.55 2.55 0 1 0 5.1 0a2.55 2.55 0 1 0 -5.1 0M1106.95 725.4a2.55 2.55 0 1 0 5.1 0a2.55 2.55 0 1 0 -5.1 0M1113.95 725.4a2.55 2.55 0 1 0 5.1 0a2.55 2.55 0 1 0 -5.1 0M1121.95 725.4a2.55 2.55 0 1 0 5.1 0a2.55 2.55 0 1 0 -5.1 0M1172.95 725.4a2.55 2.55 0 1 0 5.1 0a2.55 2.55 0 1 0 -5.1 0M1179.95 725.4a2.55 2.55 0 1 0 5.1 0a2.55 2.55 0 1 0 -5.1 0M1186.95 725.4a2.55 2.55 0 1 0 5.1 0a2.55 2.55 0 1 0 -5.1 0M1194.95 725.4a2.55 2.55 0 1 0 5.1 0a2.55 2.55 0 1 0 -5.1 0M1201.95 725.4a2.55 2.55 0 1 0 5.1 0a2.55 2.55 0 1 0 -5.1 0M1208.95 725.4a2.55 2.55 0 1 0 5.1 0a2.55 2.55 0 1 0 -5.1 0M1216.95 725.4a2.55 2.55 0 1 0 5.1 0a2.55 2.55 0 1 0 -5.1 0M1223.95 725.4a2.55 2.55 0 1 0 5.1 0a2.55 2.55 0 1 0 -5.1 0M1230.95 725.4a2.55 2.55 0 1 0 5.1 0a2.55 2.55 0 1 0 -5.1 0M1237.95 725.4a2.55 2.55 0 1 0 5.1 0a2.55 2.55 0 1 0 -5.1 0M1245.95 725.4a2.55 2.55 0 1 0 5.1 0a2.55 2.55 0 1 0 -5.1 0M1252.95 725.4a2.55 2.55 0 1 0 5.1 0a2.55 2.55 0 1 0 -5.1 0M1259.95 725.4a2.55 2.55 0 1 0 5.1 0a2.55 2.55 0 1 0 -5.1 0M1267.95 725.4a2.55 2.55 0 1 0 5.1 0a2.55 2.55 0 1 0 -5.1 0M1274.95 725.4a2.55 2.55 0 1 0 5.1 0a2.55 2.55 0 1 0 -5.1 0M1281.95 725.4a2.55 2.55 0 1 0 5.1 0a2.55 2.55 0 1 0 -5.1 0M1383.95 725.4a2.55 2.55 0 1 0 5.1 0a2.55 2.55 0 1 0 -5.1 0M1391.95 725.4a2.55 2.55 0 1 0 5.1 0a2.55 2.55 0 1 0 -5.1 0M1398.95 725.4a2.55 2.55 0 1 0 5.1 0a2.55 2.55 0 1 0 -5.1 0M1405.95 725.4a2.55 2.55 0 1 0 5.1 0a2.55 2.55 0 1 0 -5.1 0M1413.95 725.4a2.55 2.55 0 1 0 5.1 0a2.55 2.55 0 1 0 -5.1 0M1420.95 725.4a2.55 2.55 0 1 0 5.1 0a2.55 2.55 0 1 0 -5.1 0M1427.95 725.4a2.55 2.55 0 1 0 5.1 0a2.55 2.55 0 1 0 -5.1 0" fill="#000000"/>
<path d="M230.95 725.4a2.55 2.55 0 1 0 5.1 0a2.55 2.55 0 1 0 -5.1 0M237.95 725.4a2.55 2.55 0 1 0 5.1 0a2.55 2.55 0 1 0 -5.1 0M244.95 725.4a2.55 2.55 0 1 0 5.1 0a2.55 2.55 0 1 0 -5.1 0M252.95 725.4a2.55 2.55 0 1 0 5.1 0a2.55 2.55 0 1 0 -5.1 0M259.95 725.4a2.55 2.55 0 1 0 5.1 0a2.55 2.55 0 1 0 -5.1 0M266.95 725.4a2.55 2.55 0 1 0 5.1 0a2.55 2.55 0 1 0 -5.1 0M274.95 725.4a2.55 2.55 0 1 0 5.1 0a2.55 2.55 0 1 0 -5.1 0M281.95 725.4a2.55 2.55 0 1 0 5.1 0a2.55 2.55 0 1 0 -5.1 0M288.95 725.4a2.55 2.55 0 1 0 5.1 0a2.55 2.55 0 1 0 -5.1 0M296.95 725.4a2.55 2.55 0 1 0 5.1 0a2.55 2.55 0 1 0 -5.1 0M303.95 725.4a2.55 2.55 0 1 0 5.1 0a2.55 2.55 0 1 0 -5.1 0M310.95 725.4a2.55 2.55 0 1 0 5.1 0a2.55 2.55 0 1 0 -5.1 0M317.95 725.4a2.55 2.55 0 1 0 5.1 0a2.55 2.55 0 1 0 -5.1 0M325.95 725.4a2.55 2.55 0 1 0 5.1 0a2.55 2.55 0 1 0 -5.1 0M332.95 725.4a2.55 2.55 0 1 0 5.1 0a2.55 2.55 0 1 0 -5.1 0M339.95 725.4a2.55 2.55 0 1 0 5.1 0a2.55 2.55 0 1 0 -5.1 0M390.95 725.4a2.55 2.55 0 1 0 5.1 0a2.55 2.55 0 1 0 -5.1 0M573.95 725.4a2.55 2.55 0 1 0 5.1 0a2.55 2.55 0 1 0 -5.1 0M580.95 725.4a2.55 2.55 0 1 0 5.1 0a2.55 2.55 0 1 0 -5.1 0M588.95 725.4a2.55 2.55 0 1 0 5.1 0a2.55 2.55 0 1 0 -5.1 0M595.95 725.4a2.55 2.55 0 1 0 5.1 0a2.55 2.55 0 1 0 -5.1 0M602.95 725.4a2.55 2.55 0 1 0 5.1 0a2.55 2.55 0 1 0 -5.1 0M609.95 725.4a2.55 2.55 0 1 0 5.1 0a2.55 2.55 0 1 0 -5.1 0M617.95 725.4a2.55 2.55 0 1 0 5.1 0a2.55 2.55 0 1 0 -5.1 0M624.95 725.4a2.55 2.55 0 1 0 5.1 0a2.55 2.55 0 1 0 -5.1 0M631.95 725.4a2.55 2.55 0 1 0 5.1 0a2.55 2.55 0 1 0 -5.1 0M639.95 725.4a2.55 2.55 0 1 0 5.1 0a2.55 2.55 0 1 0 -5.1 0M646.95 725.4a2.55 2.55 0 1 0 5.1 0a2.55 2.55 0 1 0 -5.1 0M653.95 725.4a2.55 2.55 0 1 0 5.1 0a2.55 2.55 0 1 0 -5.1 0M661.95 725.4a2.55 2.55 0 1 0 5.1 0a2.55 2.55 0 1 0 -5.1 0M668.95 725.4a2.55 2.55 0 1 0 5.1 0a2.55 2.55 0 1 0 -5.1 0M763.95 725.4a2.55 2.55 0 1 0 5.1 0a2.55 2.55 0 1 0 -5.1 0M770.95 725.4a2.55 2.55 0 1 0 5.1 0a2.55 2.55 0 1 0 -5.1 0M777.95 725.4a2.55 2.55 0 1 0 5.1 0a2.55 2.55 0 1 0 -5.1 0M785.95 725.4a2.55 2.55 0 1 0 5.1 0a2.55 2.55 0 1 0 -5.1 0M792.95 725.4a2.55 2.55 0 1 0 5.1 0a2.55 2.55 0 1 0 -5.1 0M799.95 725.4a2.55 2.55 0 1 0 5.1 0a2.55 2.55 0 1 0 -5.1 0M807.95 725.4a2.55 2.55 0 1 0 5.1 0a2.55 2.55 0 1 0 -5.1 0M1435.95 725.4a2.55 2.55 0 1 0 5.1 0a2.55 2.55 0 1 0 -5.1 0M1442.95 725.4a2.55 2.55 0 1 0 5.1 0a2.55 2.55 0 1 0 -5.1 0" fill="#ff0000"/>
<path d="M11.95 737a2.55 2.55 0 1 0 5.1 0a2.55 2.55 0 1 0 -5.1 0M33.95 737a2.55 2.55 0 1 0 5.1 0a2.55 2.55 0 1 0 -5.1 0M40.95 737a2.55 2.55 0 1 0 5.1 0a2.55 2.55 0 1 0 -5.1 0M47.95 737a2.55 2.55 0 1 0 5.1 0a2.55 2.55 0 1 0 -5.1 0M55.95 737a2.55 2.55 0 1 0 5.1 0a2.55 2.55 0 1 0 -5.1 0M62.95 737a2.55 2.55 0 1 0 5.1 0a2.55 2.55 0 1 0 -5.1 0M69.95 737a2.55 2.55 0 1 0 5.1 0a2.55 2.55 0 1 0 -5.1 0M128.95 737a2.55 2.55 0 1 0 5.1 0a2.55 2.55 0 1 0 -5.1 0M135.95 737a2.55 2.55 0 1 0 5.1 0a2.55 2.55 0 1 0 -5.1 0M164.95 737a2.55 2.55 0 1 0 5.1 0a2.55 2.55 0 1 0 -5.1 0M171.95 737a2.55 2.55 0 1 0 5.1 0a2.55 2.55 0 1 0 -5.1 0M179.95 737a2.55 2.55 0 1 0 5.1 0a2.55 2.55 0 1 0 -5.1 0M186.95 737a2.55 2.55 0 1 0 5.1 0a2.55 2.55 0 1 0 -5.1 0M193.95 737a2.55 2.55 0 1 0 5.1 0a2.55 2.55 0 1 0 -5.1 0M201.95 737a2.55 2.55 0 1 0 5.1 0a2.55 2.55 0 1 0 -5.1 0M288.95 737a2.55 2.55 0 1 0 5.1 0a2.55 2.55 0 1 0 -5.1 0M296.95 737a2.55 2.55 0 1 0 5.1 0a2.55 2.55 0 1 0 -5.1 0M303.95 737a2.55 2.55 0 1 0 5.1 0a2.55 2.55 0 1 0 -5.1 0M310.95 737a2.55 2.55 0 1 0 5.1 0a2.55 2.55 0 1 0 -5.1 0M317.95 737a2.55 2.55 0 1 0 5.1 0a2.55 2.55 0 1 0 -5.1 0M325.95 737a2.55 2.55 0 1 0 5.1 0a2.55 2.55 0 1 0 -5.1 0M332.95 737a2.55 2.55 0 1 0 5.1 0a2.55 2.55 0 1 0 -5.1 0M339.95 737a2.55 2.55 0 1 0 5.1 0a2.55 2.55 0 1 0 -5.1 0M347.95 737a2.55 2.55 0 1 0 5.1 0a2.55 2.55 0 1 0 -5.1 0M354.95 737a2.55 2.55 0 1 0 5.1 0a2.55 2.55 0 1 0 -5.1 0M456.95 737a2.55 2.55 0 1 0 5.1 0a2.55 2.55 0 1 0 -5.1 0M463.95 737a2.55 2.55 0 1 0 5.1 0a2.55 2.55 0 1 0 -5.1 0M471.95 737a2.55 2.55 0 1 0 5.1 0a2.55 2.55 0 1 0 -5.1 0M478.95 737a2.55 2.55 0 1 0 5.1 0a2.55 2.55 0 1 0 -5.1 0M485.95 737a2.55 2.55 0 1 0 5.1 0a2.55 2.55 0 1 0 -5.1 0M493.95 737a2.55 2.55 0 1 0 5.1 0a2.55 2.55 0 1 0 -5.1 0M500.95 737a2.55 2.55 0 1 0 5.1 0a2.55 2.55 0 1 0 -5.1 0M507.95 737a2.55 2.55 0 1 0 5.1 0a2.55 2.55 0 1 0 -5.1 0M551.95 737a2.55 2.55 0 1 0 5.1 0a2.55 2.55 0 1 0 -5.1 0M631.95 737a2.55 2.55 0 1 0 5.1 0a2.55 2.55 0 1 0 -5.1 0M639.95 737a2.55 2.55 0 1 0 5.1 0a2.55 2.55 0 1 0 -5.1 0M646.95 737a2.55 2.55 0 1 0 5.1 0a2.55 2.55 0 1 0 -5.1 0M653.95 737a2.55 2.55 0 1 0 5.1 0a2.55 2.55 0 1 0 -5.1 0M661.95 737a2.55 2.55 0 1 0 5.1 0a2.55 2.55 0 1 0 -5.1 0M668.95 737a2.55 2.55 0 1 0 5.1 0a2.55 2.55 0 1 0 -5.1 0M675.95 737a2.55 2.55 0 1 0 5.1 0a2.55 2.55 0 1 0 -5.1 0M682.95 737a2.55 2.55 0 1 0 5.1 0a2.55 2.55 0 1 0 -5.1 0M690.95 737a2.55 2.55 0 1 0 5.1 0a2.55 2.55 0 1 0 -5.1 0M748.95 737a2.55 2.55 0 1 0 5.1 0a2.55 2.55 0 1 0 -5.1 0M756.95 737a2.55 2.55 0 1 0 5.1 0a2.55 2.55 0 1 0 -5.1 0M821.95 737a2.55 2.55 0 1 0 5.1 0a2.55 2.55 0 1 0 -5.1 0M829.95 737a2.55 2.55 0 1 0 5.1 0a2.55 2.55 0 1 0 -5.1 0M836.95 737a2.55 2.55 0 1 0 5.1 0a2.55 2.55 0 1 0 -5.1 0M843.95 737a2.55 2.55 0 1 0 5.1 0a2.55 2.55 0 1 0 -5.1 0M945.95 737a2.55 2.55 0 1 0 5.1 0a2.55 2.55 0 1 0 -5.1 0M960.95 737a2.55 2.55 0 1 0 5.1 0a2.55 2.55 0 1 0 -5.1 0M967.95 737a2.55 2.55 0 1 0 5.1 0a2.55 2.55 0 1 0 -5.1 0M975.95 737a2.55 2.55 0 1 0 5.1 0a2.55 2.55 0 1 0 -5.1 0M1091.95 737a2.55 2.55 0 1 0 5.1 0a2.55 2.55 0 1 0 -5.1 0M1099.95 737a2.55 2.55 0 1 0 5.1 0a2.55 2.55 0 1 0 -5.1 0M1106.95 737a2.55 2.55 0 1 0 5.1 0a2.55 2.55 0 1 0 -5.1 0M1113.95 737a2.55 2.55 0 1 0 5.1 0a2.55 2.55 0 1 0 -5.1 0M1121.95 737a2.55 2.55 0 1 0 5.1 0a2.55 2.55 0 1 0 -5.1 0M1128.95 737a2.55 2.55 0 1 0 5.1 0a2.55 2.55 0 1 0 -5.1 0M1172.95 737a2.55 2.55 0 1 0 5.1 0a2.55 2.55 0 1 0 -5.1 0M1179.95 737a2.55 2.55 0 1 0 5.1 0a2.55 2.55 0 1 0 -5.1 0M1186.95 737a2.55 2.55 0 1 0 5.1 0a2.55 2.55 0 1 0 -5.1 0M1194.95 737a2.55 2.55 0 1 0 5.1 0a2.55 2.55 0 1 0 -5.1 0M1201.95 737a2.55 2.55 0 1 0 5.1 0a2.55 2.55 0 1 0 -5.1 0M1208.95 737a2.55 2.55 0 1 0 5.1 0a2.55 2.55 0 1 0 -5.1 0M1216.95 737a2.55 2.55 0 1 0 5.1 0a2.55 2.55 0 1 0 -5.1 0M1223.95 737a2.55 2.55 0 1 0 5.1 0a2.55 2.55 0 1 0 -5.1 0M1274.95 737a2.55 2.55 0 1 0 5.1 0a2.55 2.55 0 1 0 -5.1 0M1281.95 737a2.55 2.55 0 1 0 5.1 0a2.55 2.55 0 1 0 -5.1 0M1289.95 737a2.55 2.55 0 1 0 5.1 0a2.55 2.55 0 1 0 -5.1 0M1376.95 737a2.55 2.55 0 1 0 5.1 0a2.55 2.55 0 1 0 -5.1 0M1383.95 737a2.55 2.55 0 1 0 5.1 0a2.55 2.55 0 1 0 -5.1 0M1391.95 737a2.55 2.55 0 1 0 5.1 0a2.55 2.55 0 1 0 -5.1 0M1398.95 737a2.55 2.55 0 1 0 5.1 0a2.55 2.55 0 1 0 -5.1 0" fill="#000000"/>
<path d="M18.95 737a2.55 2.55 0 1 0 5.1 0a2.55 2.55 0 1 0 -5.1 0M25.95 737a2.55 2.55 0 1 0 5.1 0a2.55 2.55 0 1 0 -5.1 0M76.95 737a2.55 2.55 0 1 0 5.1 0a2.55 2.55 0 1 0 -5.1 0M84.95 737a2.55 2.55 0 1 0 5.1 0a2.55 2.55 0 1 0 -5.1 0M91.95 737a2.55 2.55 0 1 0 5.1 0a2.55 2.55 0 1 0 -5.1 0M98.95 737a2.55 2.55 0 1 0 5.1 0a2.55 2.55 0 1 0 -5.1 0M106.95 737a2.55 2.55 0 1 0 5.1 0a2.55 2.55 0 1 0 -5.1 0M113.95 737a2.55 2.55 0 1 0 5.1 0a2.55 2.55 0 1 0 -5.1 0M120.95 737a2.55 2.55 0 1 0 5.1 0a2.55 2.55 0 1 0 -5.1 0M142.95 737a2.55 2.55 0 1 0 5.1 0a2.55 2.55 0 1 0 -5.1 0M149.95 737a2.55 2.55 0 1 0 5.1 0a2.55 2.55 0 1 0 -5.1 0M157.95 737a2.55 2.55 0 1 0 5.1 0a2.55 2.55 0 1 0 -5.1 0M361.95 737a2.55 2.55 0 1 0 5.1 0a2.55 2.55 0 1 0 -5.1 0M369.95 737a2.55 2.55 0 1 0 5.1 0a2.55 2.55 0 1 0 -5.1 0M376.95 737a2.55 2.55 0 1 0 5.1 0a2.55 2.55 0 1 0 -5.1 0M383.95 737a2.55 2.55 0 1 0 5.1 0a2.55 2.55 0 1 0 -5.1 0M405.95 737a2.55 2.55 0 1 0 5.1 0a2.55 2.55 0 1 0 -5.1 0M412.95 737a2.55 2.55 0 1 0 5.1 0a2.55 2.55 0 1 0 -5.1 0M420.95 737a2.55 2.55 0 1 0 5.1 0a2.55 2.55 0 1 0 -5.1 0M427.95 737a2.55 2.55 0 1 0 5.1 0a2.55 2.55 0 1 0 -5.1 0M434.95 737a2.55 2.55 0 1 0 5.1 0a2.55 2.55 0 1 0 -5.1 0M442.95 737a2.55 2.55 0 1 0 5.1 0a2.55 2.55 0 1 0 -5.1 0M449.95 737a2.55 2.55 0 1 0 5.1 0a2.55 2.55 0 1 0 -5.1 0M515.95 737a2.55 2.55 0 1 0 5.1 0a2.55 2.55 0 1 0 -5.1 0M522.95 737a2.55 2.55 0 1 0 5.1 0a2.55 2.55 0 1 0 -5.1 0M529.95 737a2.55 2.55 0 1 0 5.1 0a2.55 2.55 0 1 0 -5.1 0M536.95 737a2.55 2.55 0 1 0 5.1 0a2.55 2.55 0 1 0 -5.1 0M544.95 737a2.55 2.55 0 1 0 5.1 0a2.55 2.55 0 1 0 -5.1 0M697.95 737a2.55 2.55 0 1 0 5.1 0a2.55 2.55 0 1 0 -5.1 0M704.95 737a2.55 2.55 0 1 0 5.1 0a2.55 2.55 0 1 0 -5.1 0M712.95 737a2.55 2.55 0 1 0 5.1 0a2.55 2.55 0 1 0 -5.1 0M719.95 737a2.55 2.55 0 1 0 5.1 0a2.55 2.55 0 1 0 -5.1 0M726.95 737a2.55 2.55 0 1 0 5.1 0a2.55 2.55 0 1 0 -5.1 0M734.95 737a2.55 2.55 0 1 0 5.1 0a2.55 2.55 0 1 0 -5.1 0M741.95 737a2.55 2.55 0 1 0 5.1 0a2.55 2.55 0 1 0 -5.1 0M850.95 737a2.55 2.55 0 1 0 5.1 0a2.55 2.55 0 1 0 -5.1 0M858.95 737a2.55 2.55 0 1 0 5.1 0a2.55 2.55 0 1 0 -5.1 0M865.95 737a2.55 2.55 0 1 0 5.1 0a2.55 2.55 0 1 0 -5.1 0M872.95 737a2.55 2.55 0 1 0 5.1 0a2.55 2.55 0 1 0 -5.1 0M880.95 737a2.55 2.55 0 1 0 5.1 0a2.55 2.55 0 1 0 -5.1 0M887.95 737a2.55 2.55 0 1 0 5.1 0a2.55 2.55 0 1 0 -5.1 0M894.95 737a2.55 2.55 0 1 0 5.1 0a2.55 2.55 0 1 0 -5.1 0M902.95 737a2.55 2.55 0 1 0 5.1 0a2.55 2.55 0 1 0 -5.1 0M909.95 737a2.55 2.55 0 1 0 5.1 0a2.55 2.55 0 1 0 -5.1 0M916.95 737a2.55 2.55 0 1 0 5.1 0a2.55 2.55 0 1 0 -5.1 0M923.95 737a2.55 2.55 0 1 0 5.1 0a2.55 2.55 0 1 0 -5.1 0M931.95 737a2.55 2.55 0 1 0 5.1 0a2.55 2.55 0 1 0 -5.1 0M938.95 737a2.55 2.55 0 1 0 5.1 0a2.55 2.55 0 1 0 -5.1 0M953.95 737a2.55 2.55 0 1 0 5.1 0a2.55 2.55 0 1 0 -5.1 0M982.95 737a2.55 2.55 0 1 0 5.1 0a2.55 2.55 0 1 0 -5.1 0M989.95 737a2.55 2.55 0 1 0 5.1 0a2.55 2.55 0 1 0 -5.1 0M996.95 737a2.55 2.55 0 1 0 5.1 0a2.55 2.55 0 1 0 -5.1 0M1004.95 737a2.55 2.55 0 1 0 5.1 0a2.55 2.55 0 1 0 -5.1 0M1011.95 737a2.55 2.55 0 1 0 5.1 0a2.55 2.55 0 1 0 -5.1 0M1018.95 737a2.55 2.55 0 1 0 5.1 0a2.55 2.55 0 1 0 -5.1 0M1026.95 737a2.55 2.55 0 1 0 5.1 0a2.55 2.55 0 1 0 -5.1 0M1033.95 737a2.55 2.55 0 1 0 5.1 0a2.55 2.55 0 1 0 -5.1 0M1040.95 737a2.55 2.55 0 1 0 5.1 0a2.55 2.55 0 1 0 -5.1 0M1048.95 737a2.55 2.55 0 1 0 5.1 0a2.55 2.55 0 1 0 -5.1 0M1055.95 737a2.55 2.55 0 1 0 5.1 0a2.55 2.55 0 1 0 -5.1 0M1062.95 737a2.55 2.55 0 1 0 5.1 0a2.55 2.55 0 1 0 -5.1 0M1069.95 737a2.55 2.55 0 1 0 5.1 0a2.55 2.55 0 1 0 -5.1 0M1077.95 737a2.55 2.55 0 1 0 5.1 0a2.55 2.55 0 1 0 -5.1 0M1084.95 737a2.55 2.55 0 1 0 5.1 0a2.55 2.55 0 1 0 -5.1 0M1135.95 737a2.55 2.55 0 1 0 5.1 0a2.55 2.55 0 1 0 -5.1 0M1142.95 737a2.55 2.55 0 1 0 5.1 0a2.55 2.55 0 1 0 -5.1 0M1150.95 737a2.55 2.55 0 1 0 5.1 0a2.55 2.55 0 1 0 -5.1 0M1157.95 737a2.55 2.55 0 1 0 5.1 0a2.55 2.55 0 1 0 -5.1 0M1164.95 737a2.55 2.55 0 1 0 5.1 0a2.55 2.55 0 1 0 -5.1 0M1296.95 737a2.55 2.55 0 1 0 5.1 0a2.55 2.55 0 1 0 -5.1 0M1303.95 737a2.55 2.55 0 1 0 5.1 0a2.55 2.55 0 1 0 -5.1 0M1310.95 737a2.55 2.55 0 1 0 5.1 0a2.55 2.55 0 1 0 -5.1 0M1318.95 737a2.55 2.55 0 1 0 5.1 0a2.55 2.55 0 1 0 -5.1 0M1325.95 737a2.55 2.55 0 1 0 5.1 0a2.55 2.55 0 1 0 -5.1 0M1332.95 737a2.55 2.55 0 1 0 5.1 0a2.55 2.55 0 1 0 -5.1 0M1340.95 737a2.55 2.55 0 1 0 5.1 0a2.55 2.55 0 1 0 -5.1 0M1347.95 737a2.55 2.55 0 1 0 5.1 0a2.55 2.55 0 1 0 -5.1 0M1354.95 737a2.55 2.55 0 1 0 5.1 0a2.55 2.55 0 1 0 -5.1 0M1362.95 737a2.55 2.55 0 1 0 5.1 0a2.55 2.55 0 1 0 -5.1 0M1369.95 737a2.55 2.55 0 1 0 5.1 0a2.55 2.55 0 1 0 -5.1 0" fill="#00ff00"/>
<path d="M208.95 737a2.55 2.55 0 1 0 5.1 0a2.55 2.55 0 1 0 -5.1 0M215.95 737a2.55 2.55 0 1 0 5.1 0a2.55 2.55 0 1 0 -5.1 0M222.95 737a2.55 2.55 0 1 0 5.1 0a2.55 2.55 0 1 0 -5.1 0M230.95 737a2.55 2.55 0 1 0 5.1 0a2.55 2.55 0 1 0 -5.1 0M237.95 737a2.55 2.55 0 1 0 5.1 0a2.55 2.55 0 1 0 -5.1 0M244.95 737a2.55 2.55 0 1 0 5.1 0a2.55 2.55 0 1 0 -5.1 0M252.95 737a2.55 2.55 0 1 0 5.1 0a2.55 2.55 0 1 0 -5.1 0M259.95 737a2.55 2.55 0 1 0 5.1 0a2.55 2.55 0 1 0 -5.1 0M266.95 737a2.55 2.55 0 1 0 5.1 0a2.55 2.55 0 1 0 -5.1 0M274.95 737a2.55 2.55 0 1 0 5.1 0a2.55 2.55 0 1 0 -5.1 0M281.95 737a2.55 2.55 0 1 0 5.1 0a2.55 2.55 0 1 0 -5.1 0M390.95 737a2.55 2.55 0 1 0 5.1 0a2.55 2.55 0 1 0 -5.1 0M398.95 737a2.55 2.55 0 1 0 5.1 0a2.55 2.55 0 1 0 -5.1 0M558.95 737a2.55 2.55 0 1 0 5.1 0a2.55 2.55 0 1 0 -5.1 0M566.95 737a2.55 2.55 0 1 0 5.1 0a2.55 2.55 0 1 0 -5.1 0M573.95 737a2.55 2.55 0 1 0 5.1 0a2.55 2.55 0 1 0 -5.1 0M580.95 737a2.55 2.55 0 1 0 5.1 0a2.55 2.55 0 1 0 -5.1 0M588.95 737a2.55 2.55 0 1 0 5.1 0a2.55 2.55 0 1 0 -5.1 0M595.95 737a2.55 2.55 0 1 0 5.1 0a2.55 2.55 0 1 0 -5.1 0M602.95 737a2.55 2.55 0 1 0 5.1 0a2.55 2.55 0 1 0 -5.1 0M609.95 737a2.55 2.55 0 1 0 5.1 0a2.55 2.55 0 1 0 -5.1 0M617.95 737a2.55 2.55 0 1 0 5.1 0a2.55 2.55 0 1 0 -5.1 0M624.95 737a2.55 2.55 0 1 0 5.1 0a2.55 2.55 0 1 0 -5.1 0M763.95 737a2.55 2.55 0 1 0 5.1 0a2.55 2.55 0 1 0 -5.1 0M770.95 737a2.55 2.55 0 1 0 5.1 0a2.55 2.55 0 1 0 -5.1 0M777.95 737a2.55 2.55 0 1 0 5.1 0a2.55 2.55 0 1 0 -5.1 0M785.95 737a2.55 2.55 0 1 0 5.1 0a2.55 2.55 0 1 0 -5.1 0M792.95 737a2.55 2.55 0 1 0 5.1 0a2.55 2.55 0 1 0 -5.1 0M799.95 737a2.55 2.55 0 1 0 5.1 0a2.55 2.55 0 1 0 -5.1 0M807.95 737a2.55 2.55 0 1 0 5.1 0a2.55 2.55 0 1 0 -5.1 0M814.95 737a2.55 2.55 0 1 0 5.1 0a2.55 2.55 0 1 0 -5.1 0M1230.95 737a2.55 2.55 0 1 0 5.1 0a2.55 2.55 0 1 0 -5.1 0M1237.95 737a2.55 2.55 0 1 0 5.1 0a2.55 2.55 0 1 0 -5.1 0M1245.95 737a2.55 2.55 0 1 0 5.1 0a2.55 2.55 0 1 0 -5.1 0M1252.95 737a2.55 2.55 0 1 0 5.1 0a2.55 2.55 0 1 0 -5.1 0M1259.95 737a2.55 2.55 0 1 0 5.1 0a2.55 2.55 0 1 0 -5.1 0M1267.95 737a2.55 2.55 0 1 0 5.1 0a2.55 2.55 0 1 0 -5.1 0M1405.95 737a2.55 2.55 0 1 0 5.1 0a2.55 2.55 0 1 0 -5.1 0M1413.95 737a2.55 2.55 0 1 0 5.1 0a2.55 2.55 0 1 0 -5.1 0M1420.95 737a2.55 2.55 0 1 0 5.1 0a2.55 2.55 0 1 0 -5.1 0M1427.95 737a2.55 2.55 0 1 0 5.1 0a2.55 2.55 0 1 0 -5.1 0M1435.95 737a2.55 2.55 0 1 0 5.1 0a2.55 2.55 0 1 0 -5.1 0M1442.95 737a2.55 2.55 0 1 0 5.1 0a2.55 2.55 0 1 0 -5.1 0" fill="#ff0000"/>
<path d="M11.95 748.2a2.55 2.55 0 1 0 5.1 0a2.55 2.55 0 1 0 -5.1 0M18.95 748.2a2.55 2.55 0 1 0 5.1 0a2.55 2.55 0 1 0 -5.1 0M25.95 748.2a2.55 2.55 0 1 0 5.1 0a2.55 2.55 0 1 0 -5.1 0M33.95 748.2a2.55 2.55 0 1 0 5.1 0a2.55 2.55 0 1 0 -5.1 0M40.95 748.2a2.55 2.55 0 1 0 5.1 0a2.55 2.55 0 1 0 -5.1 0M47.95 748.2a2.55 2.55 0 1 0 5.1 0a2.55 2.55 0 1 0 -5.1 0M55.95 748.2a2.55 2.55 0 1 0 5.1 0a2.55 2.55 0 1 0 -5.1 0M62.95 748.2a2.55 2.55 0 1 0 5.1 0a2.55 2.55 0 1 0 -5.1 0M69.95 748.2a2.55 2.55 0 1 0 5.1 0a2.55 2.55 0 1 0 -5.1 0M76.95 748.2a2.55 2.55 0 1 0 5.1 0a2.55 2.55 0 1 0 -5.1 0M84.95 748.2a2.55 2.55 0 1 0 5.1 0a2.55 2.55 0 1 0 -5.1 0M91.95 748.2a2.55 2.55 0 1 0 5.1 0a2.55 2.55 0 1 0 -5.1 0M98.95 748.2a2.55 2.55 0 1 0 5.1 0a2.55 2.55 0 1 0 -5.1 0M106.95 748.2a2.55 2.55 0 1 0 5.1 0a2.55 2.55 0 1 0 -5.1 0M113.95 748.2a2.55 2.55 0 1 0 5.1 0a2.55 2.55 0 1 0 -5.1 0M120.95 748.2a2.55 2.55 0 1 0 5.1 0a2.55 2.55 0 1 0 -5.1 0M128.95 748.2a2.55 2.55 0 1 0 5.1 0a2.55 2.55 0 1 0 -5.1 0M135.95 748.2a2.55 2.55 0 1 0 5.1 0a2.55 2.55 0 1 0 -5.1 0M142.95 748.2a2.55 2.55 0 1 0 5.1 0a2.55 2.55 0 1 0 -5.1 0M149.95 748.2a2.55 2.55 0 1 0 5.1 0a2.55 2.55 0 1 0 -5.1 0M157.95 748.2a2.55 2.55 0 1 0 5.1 0a2.55 2.55 0 1 0 -5.1 0M164.95 748.2a2.55 2.55 0 1 0 5.1 0a2.55 2.55 0 1 0 -5.1 0M171.95 748.2a2.55 2.55 0 1 0 5.1 0a2.55 2.55 0 1 0 -5.1 0M179.95 748.2a2.55 2.55 0 1 0 5.1 0a2.55 2.55 0 1 0 -5.1 0M186.95 748.2a2.55 2.55 0 1 0 5.1 0a2.55 2.55 0 1 0 -5.1 0M193.95 748.2a2.55 2.55 0 1 0 5.1 0a2.55 2.55 0 1 0 -5.1 0M201.95 748.2a2.55 2.55 0 1 0 5.1 0a2.55 2.55 0 1 0 -5.1 0M208.95 748.2a2.55 2.55 0 1 0 5.1 0a2.55 2.55 0 1 0 -5.1 0M215.95 748.2a2.55 2.55 0 1 0 5.1 0a2.55 2.55 0 1 0 -5.1 0M222.95 748.2a2.55 2.55 0 1 0 5.1 0a2.55 2.55 0 1 0 -5.1 0M434.95 748.2a2.55 2.55 0 1 0 5.1 0a2.55 2.55 0 1 0 -5.1 0M442.95 748.2a2.55 2.55 0 1 0 5.1 0a2.55 2.55 0 1 0 -5.1 0M449.95 748.2a2.55 2.55 0 1 0 5.1 0a2.55 2.55 0 1 0 -5.1 0M456.95 748.2a2.55 2.55 0 1 0 5.1 0a2.55 2.55 0 1 0 -5.1 0M463.95 748.2a2.55 2.55 0 1 0 5.1 0a2.55 2.55 0 1 0 -5.1 0M471.95 748.2a2.55 2.55 0 1 0 5.1 0a2.55 2.55 0 1 0 -5.1 0M478.95 748.2a2.55 2.55 0 1 0 5.1 0a2.55 2.55 0 1 0 -5.1 0M485.95 748.2a2.55 2.55 0 1 0 5.1 0a2.55 2.55 0 1 0 -5.1 0M493.95 748.2a2.55 2.55 0 1 0 5.1 0a2.55 2.55 0 1 0 -5.1 0M500.95 748.2a2.55 2.55 0 1 0 5.1 0a2.55 2.55 0 1 0 -5.1 0M507.95 748.2a2.55 2.55 0 1 0 5.1 0a2.55 2.55 0 1 0 -5.1 0M515.95 748.2a2.55 2.55 0 1 0 5.1 0a2.55 2.55 0 1 0 -5.1 0M522.95 748.2a2.55 2.55 0 1 0 5.1 0a2.55 2.55 0 1 0 -5.1 0M529.95 748.2a2.55 2.55 0 1 0 5.1 0a2.55 2.55 0 1 0 -5.1 0M536.95 748.2a2.55 2.55 0 1 0 5.1 0a2.55 2.55 0 1 0 -5.1 0M544.95 748.2a2.55 2.55 0 1 0 5.1 0a2.55 2.55 0 1 0 -5.1 0M551.95 748.2a2.55 2.55 0 1 0 5.1 0a2.55 2.55 0 1 0 -5.1 0M558.95 748.2a2.55 2.55 0 1 0 5.1 0a2.55 2.55 0 1 0 -5.1 0M566.95 748.2a2.55 2.55 0 1 0 5.1 0a2.55 2.55 0 1 0 -5.1 0M923.95 748.2a2.55 2.55 0 1 0 5.1 0a2.55 2.55 0 1 0 -5.1 0M931.95 748.2a2.55 2.55 0 1 0 5.1 0a2.55 2.55 0 1 0 -5.1 0M938.95 748.2a2.55 2.55 0 1 0 5.1 0a2.55 2.55 0 1 0 -5.1 0M945.95 748.2a2.55 2.55 0 1 0 5.1 0a2.55 2.55 0 1 0 -5.1 0M953.95 748.2a2.55 2.55 0 1 0 5.1 0a2.55 2.55 0 1 0 -5.1 0M960.95 748.2a2.55 2.55 0 1 0 5.1 0a2.55 2.55 0 1 0 -5.1 0M967.95 748.2a2.55 2.55 0 1 0 5.1 0a2.55 2.55 0 1 0 -5.1 0M975.95 748.2a2.55 2.55 0 1 0 5.1 0a2.55 2.55 0 1 0 -5.1 0M982.95 748.2a2.55 2.55 0 1 0 5.1 0a2.55 2.55 0 1 0 -5.1 0M989.95 748.2a2.55 2.55 0 1 0 5.1 0a2.55 2.55 0 1 0 -5.1 0M996.95 748.2a2.55 2.55 0 1 0 5.1 0a2.55 2.55 0 1 0 -5.1 0M1004.95 748.2a2.55 2.55 0 1 0 5.1 0a2.55 2.55 0 1 0 -5.1 0M1011.95 748.2a2.55 2.55 0 1 0 5.1 0a2.55 2.55 0 1 0 -5.1 0M1018.95 748.2a2.55 2.55 0 1 0 5.1 0a2.55 2.55 0 1 0 -5.1 0M1026.95 748.2a2.55 2.55 0 1 0 5.1 0a2.55 2.55 0 1 0 -5.1 0M1033.95 748.2a2.55 2.55 0 1 0 5.1 0a2.55 2.55 0 1 0 -5.1 0M1040.95 748.2a2.55 2.55 0 1 0 5.1 0a2.55 2.55 0 1 0 -5.1 0M1048.95 748.2a2.55 2.55 0 1 0 5.1 0a2.55 2.55 0 1 0 -5.1 0M1055.95 748.2a2.55 2.55 0 1 0 5.1 0a2.55 2.55 0 1 0 -5.1 0M1062.95 748.2a2.55 2.55 0 1 0 5.1 0a2.55 2.55 0 1 0 -5.1 0M1069.95 748.2a2.55 2.55 0 1 0 5.1 0a2.55 2.55 0 1 0 -5.1 0M1077.95 748.2a2.55 2.55 0 1 0 5.1 0a2.55 2.55 0 1 0 -5.1 0M1084.95 748.2a2.55 2.55 0 1 0 5.1 0a2.55 2.55 0 1 0 -5.1 0M1091.95 748.2a2.55 2.55 0 1 0 5.1 0a2.55 2.55 0 1 0 -5.1 0M1099.95 748.2a2.55 2.55 0 1 0 5.1 0a2.55 2.55 0 1 0 -5.1 0M1106.95 748.2a2.55 2.55 0 1 0 5.1 0a2.55 2.55 0 1 0 -5.1 0M1113.95 748.2a2.55 2.55 0 1 0 5.1 0a2.55 2.55 0 1 0 -5.1 0M1121.95 748.2a2.55 2.55 0 1 0 5.1 0a2.55 2.55 0 1 0 -5.1 0M1128.95 748.2a2.55 2.55 0 1 0 5.1 0a2.55 2.55 0 1 0 -5.1 0M1135.95 748.2a2.55 2.55 0 1 0 5.1 0a2.55 2.55 0 1 0 -5.1 0M1142.95 748.2a2.55 2.55 0 1 0 5.1 0a2.55 2.55 0 1 0 -5.1 0M1150.95 748.2a2.55 2.55 0 1 0 5.1 0a2.55 2.55 0 1 0 -5.1 0M1157.95 748.2a2.55 2.55 0 1 0 5.1 0a2.55 2.55 0 1 0 -5.1 0M1164.95 748.2a2.55 2.55 0 1 0 5.1 0a2.55 2.55 0 1 0 -5.1 0M1172.95 748.2a2.55 2.55 0 1 0 5.1 0a2.55 2.55 0 1 0 -5.1 0M1179.95 748.2a2.55 2.55 0 1 0 5.1 0a2.55 2.55 0 1 0 -5.1 0M1186.95 748.2a2.55 2.55 0 1 0 5.1 0a2.55 2.55 0 1 0 -5.1 0M1194.95 748.2a2.55 2.55 0 1 0 5.1 0a2.55 2.55 0 1 0 -5.1 0M1201.95 748.2a2.55 2.55 0 1 0 5.1 0a2.55 2.55 0 1 0 -5.1 0M1208.95 748.2a2.55 2.55 0 1 0 5.1 0a2.55 2.55 0 1 0 -5.1 0M1216.95 748.2a2.55 2.55 0 1 0 5.1 0a2.55 2.55 0 1 0 -5.1 0M1223.95 748.2a2.55 2.55 0 1 0 5.1 0a2.55 2.55 0 1 0 -5.1 0M1230.95 748.2a2.55 2.55 0 1 0 5.1 0a2.55 2.55 0 1 0 -5.1 0M1237.95 748.2a2.55 2.55 0 1 0 5.1 0a2.55 2.55 0 1 0 -5.1 0M1245.95 748.2a2.55 2.55 0 1 0 5.1 0a2.55 2.55 0 1 0 -5.1 0M1252.95 748.2a2.55 2.55 0 1 0 5.1 0a2.55 2.55 0 1 0 -5.1 0M1259.95 748.2a2.55 2.55 0 1 0 5.1 0a2.55 2.55 0 1 0 -5.1 0M1267.95 748.2a2.55 2.55 0 1 0 5.1 0a2.55 2.55 0 1 0 -5.1 0M1274.95 748.2a2.55 2.55 0 1 0 5.1 0a2.55 2.55 0 1 0 -5.1 0M1281.95 748.2a2.55 2.55 0 1 0 5.1 0a2.55 2.55 0 1 0 -5.1 0M1289.95 748.2a2.55 2.55 0 1 0 5.1 0a2.55 2.55 0 1 0 -5.1 0M1296.95 748.2a2.55 2.55 0 1 0 5.1 0a2.55 2.55 0 1 0 -5.1 0M1303.95 748.2a2.55 2.55 0 1 0 5.1 0a2.55 2.55 0 1 0 -5.1 0M1310.95 748.2a2.55 2.55 0 1 0 5.1 0a2.55 2.55 0 1 0 -5.1 0M1318.95 748.2a2.55 2.55 0 1 0 5.1 0a2.55 2.55 0 1 0 -5.1 0M1325.95 748.2a2.55 2.55 0 1 0 5.1 0a2.55 2.55 0 1 0 -5.1 0M1332.95 748.2a2.55 2.55 0 1 0 5.1 0a2.55 2.55 0 1 0 -5.1 0M1340.95 748.2a2.55 2.55 0 1 0 5.1 0a2.55 2.55 0 1 0 -5.1 0M1347.95 748.2a2.55 2.55 0 1 0 5.1 0a2.55 2.55 0 1 0 -5.1 0M1354.95 748.2a2.55 2.55 0 1 0 5.1 0a2.55 2.55 0 1 0 -5.1 0M1362.95 748.2a2.55 2.55 0 1 0 5.1 0a2.55 2.55 0 1 0 -5.1 0M1369.95 748.2a2.55 2.55 0 1 0 5.1 0a2.55 2.55 0 1 0 -5.1 0M1376.95 748.2a2.55 2.55 0 1 0 5.1 0a2.55 2.55 0 1 0 -5.1 0M1383.95 748.2a2.55 2.55 0 1 0 5.1 0a2.55 2.55 0 1 0 -5.1 0M1391.95 748.2a2.55 2.55 0 1 0 5.1 0a2.55 2.55 0 1 0 -5.1 0M1398.95 748.2a2.55 2.55 0 1 0 5.1 0a2.55 2.55 0 1 0 -5.1 0M1405.95 748.2a2.55 2.55 0 1 0 5.1 0a2.55 2.55 0 1 0 -5.1 0M1413.95 748.2a2.55 2.55 0 1 0 5.1 0a2.55 2.55 0 1 0 -5.1 0M1420.95 748.2a2.55 2.55 0 1 0 5.1 0a2.55 2.55 0 1 0 -5.1 0M1427.95 748.2a2.55 2.55 0 1 0 5.1 0a2.55 2.55 0 1 0 -5.1 0" fill="#00ff00"/>
<path d="M230.95 748.2a2.55 2.55 0 1 0 5.1 0a2.55 2.55 0 1 0 -5.1 0M237.95 748.2a2.55 2.55 0 1 0 5.1 0a2.55 2.55 0 1 0 -5.1 0M244.95 748.2a2.55 2.55 0 1 0 5.1 0a2.55 2.55 0 1 0 -5.1 0M573.95 748.2a2.55 2.55 0 1 0 5.1 0a2.55 2.55 0 1 0 -5.1 0M580.95 748.2a2.55 2.55 0 1 0 5.1 0a2.55 2.55 0 1 0 -5.1 0M1435.95 748.2a2.55 2.55 0 1 0 5.1 0a2.55 2.55 0 1 0 -5.1 0M1442.95 748.2a2.55 2.55 0 1 0 5.1 0a2.55 2.55 0 1 0 -5.1 0" fill="#000000"/>
<path d="M252.95 748.2a2.55 2.55 0 1 0 5.1 0a2.55 2.55 0 1 0 -5.1 0M259.95 748.2a2.55 2.55 0 1 0 5.1 0a2.55 2.55 0 1 0 -5.1 0M266.95 748.2a2.55 2.55 0 1 0 5.1 0a2.55 2.55 0 1 0 -5.1 0M274.95 748.2a2.55 2.55 0 1 0 5.1 0a2.55 2.55 0 1 0 -5.1 0M281.95 748.2a2.55 2.55 0 1 0 5.1 0a2.55 2.55 0 1 0 -5.1 0M288.95 748.2a2.55 2.55 0 1 0 5.1 0a2.55 2.55 0 1 0 -5.1 0M296.95 748.2a2.55 2.55 0 1 0 5.1 0a2.55 2.55 0 1 0 -5.1 0M303.95 748.2a2.55 2.55 0 1 0 5.1 0a2.55 2.55 0 1 0 -5.1 0M310.95 748.2a2.55 2.55 0 1 0 5.1 0a2.55 2.55 0 1 0 -5.1 0M317.95 748.2a2.55 2.55 0 1 0 5.1 0a2.55 2.55 0 1 0 -5.1 0M325.95 748.2a2.55 2.55 0 1 0 5.1 0a2.55 2.55 0 1 0 -5.1 0M332.95 748.2a2.55 2.55 0 1 0 5.1 0a2.55 2.55 0 1 0 -5.1 0M339.95 748.2a2.55 2.55 0 1 0 5.1 0a2.55 2.55 0 1 0 -5.1 0M347.95 748.2a2.55 2.55 0 1 0 5.1 0a2.55 2.55 0 1 0 -5.1 0M354.95 748.2a2.55 2.55 0 1 0 5.1 0a2.55 2.55 0 1 0 -5.1 0M361.95 748.2a2.55 2.55 0 1 0 5.1 0a2.55 2.55 0 1 0 -5.1 0M369.95 748.2a2.55 2.55 0 1 0 5.1 0a2.55 2.55 0 1 0 -5.1 0M376.95 748.2a2.55 2.55 0 1 0 5.1 0a2.55 2.55 0 1 0 -5.1 0M383.95 748.2a2.55 2.55 0 1 0 5.1 0a2.55 2.55 0 1 0 -5.1 0M390.95 748.2a2.55 2.55 0 1 0 5.1 0a2.55 2.55 0 1 0 -5.1 0M398.95 748.2a2.55 2.55 0 1 0 5.1 0a2.55 2.55 0 1 0 -5.1 0M405.95 748.2a2.55 2.55 0 1 0 5.1 0a2.55 2.55 0 1 0 -5.1 0M412.95 748.2a2.55 2.55 0 1 0 5.1 0a2.55 2.55 0 1 0 -5.1 0M588.95 748.2a2.55 2.55 0 1 0 5.1 0a2.55 2.55 0 1 0 -5.1 0M595.95 748.2a2.55 2.55 0 1 0 5.1 0a2.55 2.55 0 1 0 -5.1 0M602.95 748.2a2.55 2.55 0 1 0 5.1 0a2.55 2.55 0 1 0 -5.1 0M609.95 748.2a2.55 2.55 0 1 0 5.1 0a2.55 2.55 0 1 0 -5.1 0M617.95 748.2a2.55 2.55 0 1 0 5.1 0a2.55 2.55 0 1 0 -5.1 0M624.95 748.2a2.55 2.55 0 1 0 5.1 0a2.55 2.55 0 1 0 -5.1 0M631.95 748.2a2.55 2.55 0 1 0 5.1 0a2.55 2.55 0 1 0 -5.1 0M639.95 748.2a2.55 2.55 0 1 0 5.1 0a2.55 2.55 0 1 0 -5.1 0M646.95 748.2a2.55 2.55 0 1 0 5.1 0a2.55 2.55 0 1 0 -5.1 0M653.95 748.2a2.55 2.55 0 1 0 5.1 0a2.55 2.55 0 1 0 -5.1 0M661.95 748.2a2.55 2.55 0 1 0 5.1 0a2.55 2.55 0 1 0 -5.1 0M668.95 748.2a2.55 2.55 0 1 0 5.1 0a2.55 2.55 0 1 0 -5.1 0M675.95 748.2a2.55 2.55 0 1 0 5.1 0a2.55 2.55 0 1 0 -5.1 0M682.95 748.2a2.55 2.55 0 1 0 5.1 0a2.55 2.55 0 1 0 -5.1 0M690.95 748.2a2.55 2.55 0 1 0 5.1 0a2.55 2.55 0 1 0 -5.1 0M697.95 748.2a2.55 2.55 0 1 0 5.1 0a2.55 2.55 0 1 0 -5.1 0M704.95 748.2a2.55 2.55 0 1 0 5.1 0a2.55 2.55 0 1 0 -5.1 0M712.95 748.2a2.55 2.55 0 1 0 5.1 0a2.55 2.55 0 1 0 -5.1 0M719.95 748.2a2.55 2.55 0 1 0 5.1 0a2.55 2.55 0 1 0 -5.1 0M726.95 748.2a2.55 2.55 0 1 0 5.1 0a2.55 2.55 0 1 0 -5.1 0M734.95 748.2a2.55 2.55 0 1 0 5.1 0a2.55 2.55 0 1 0 -5.1 0M741.95 748.2a2.55 2.55 0 1 0 5.1 0a2.55 2.55 0 1 0 -5.1 0M748.95 748.2a2.55 2.55 0 1 0 5.1 0a2.55 2.55 0 1 0 -5.1 0M756.95 748.2a2.55 2.55 0 1 0 5.1 0a2.55 2.55 0 1 0 -5.1 0M763.95 748.2a2.55 2.55 0 1 0 5.1 0a2.55 2.55 0 1 0 -5.1 0M770.95 748.2a2.55 2.55 0 1 0 5.1 0a2.55 2.55 0 1 0 -5.1 0M777.95 748.2a2.55 2.55 0 1 0 5.1 0a2.55 2.55 0 1 0 -5.1 0M785.95 748.2a2.55 2.55 0 1 0 5.1 0a2.55 2.55 0 1 0 -5.1 0M792.95 748.2a2.55 2.55 0 1 0 5.1 0a2.55 2.55 0 1 0 -5.1 0M799.95 748.2a2.55 2.55 0 1 0 5.1 0a2.55 2.55 0 1 0 -5.1 0M807.95 748.2a2.55 2.55 0 1 0 5.1 0a2.55 2.55 0 1 0 -5.1 0M814.95 748.2a2.55 2.55 0 1 0 5.1 0a2.55 2.55 0 1 0 -5.1 0M821.95 748.2a2.55 2.55 0 1 0 5.1 0a2.55 2.55 0 1 0 -5.1 0M829.95 748.2a2.55 2.55 0 1 0 5.1 0a2.55 2.55 0 1 0 -5.1 0M836.95 748.2a2.55 2.55 0 1 0 5.1 0a2.55 2.55 0 1 0 -5.1 0M843.95 748.2a2.55 2.55 0 1 0 5.1 0a2.55 2.55 0 1 0 -5.1 0M850.95 748.2a2.55 2.55 0 1 0 5.1 0a2.55 2.55 0 1 0 -5.1 0M858.95 748.2a2.55 2.55 0 1 0 5.1 0a2.55 2.55 0 1 0 -5.1 0M865.95 748.2a2.55 2.55 0 1 0 5.1 0a2.55 2.55 0 1 0 -5.1 0M872.95 748.2a2.55 2.55 0 1 0 5.1 0a2.55 2.55 0 1 0 -5.1 0M880.95 748.2a2.55 2.55 0 1 0 5.1 0a2.55 2.55 0 1 0 -5.1 0M887.95 748.2a2.55 2.55 0 1 0 5.1 0a2.55 2.55 0 1 0 -5.1 0M894.95 748.2a2.55 2.55 0 1 0 5.1 0a2.55 2.55 0 1 0 -5.1 0" fill="#ff0000"/>
<path d="M420.95 748.2a2.55 2.55 0 1 0 5.1 0a2.55 2.55 0 1 0 -5.1 0M427.95 748.2a2.55 2.55 0 1 0 5.1 0a2.55 2.55 0 1 0 -5.1 0M902.95 748.2a2.55 2.55 0 1 0 5.1 0a2.55 2.55 0 1 0 -5.1 0M909.95 748.2a2.55 2.55 0 1 0 5.1 0a2.55 2.55 0 1 0 -5.1 0M916.95 748.2a2.55 2.55 0 1 0 5.1 0a2.55 2.55 0 1 0 -5.1 0" fill="#ffff00"/>
<text x="489.9" y="681.3" textLength="24.4" lengthAdjust="spacingAndGlyphs">Von</text>
<text x="518.1" y="681.3" textLength="37.5" lengthAdjust="spacingAndGlyphs">oben:</text>
<text x="561.1" y="681.3" textLength="41.3" lengthAdjust="spacingAndGlyphs">Status</text>
<text x="612.15" y="681.3" text-anchor="middle">/</text>
<text x="619.3" y="681.3" textLength="81" lengthAdjust="spacingAndGlyphs">Kerzenfarbe</text>
<text x="710.3" y="681.3" text-anchor="middle">/</text>
<text x="717.7" y="681.3" textLength="83.3" lengthAdjust="spacingAndGlyphs">Wolkenfarbe</text>
<text x="810.25" y="681.3" text-anchor="middle">/</text>
<text x="819.2" y="681.3" textLength="36.9" lengthAdjust="spacingAndGlyphs">Trend</text>
<text x="865.5" y="681.3" text-anchor="middle">/</text>
<text x="873" y="681.3" textLength="41.8" lengthAdjust="spacingAndGlyphs">Setter</text>
<text x="923.55" y="681.3" text-anchor="middle">/</text>
<text x="931.3" y="681.3" textLength="37.2" lengthAdjust="spacingAndGlyphs">Welle</text>
<text x="23.5" y="671.5" textLength="29.9" lengthAdjust="spacingAndGlyphs">Croc</text>
<text x="57.9" y="671.5" textLength="21.3" lengthAdjust="spacingAndGlyphs">3.0</text>
<text x="83.7" y="671.5" textLength="82.8" lengthAdjust="spacingAndGlyphs">Lochstreifen</text>
<text x="174.4" y="671.5" text-anchor="middle">-</text>
<text x="181.6" y="671.5" textLength="33.8" lengthAdjust="spacingAndGlyphs">Basic</text>
<text x="221.2" y="671.5" textLength="28.6" lengthAdjust="spacingAndGlyphs">(off)</text>
<ellipse cx="264.4" cy="667.35" rx="3.25" ry="3.95" fill="none" stroke="#17181c" stroke-width="1.2"/><path d="M261.7 672.65L267 662.15" stroke="#17181c" stroke-width="0.8" fill="none"/>
<text x="280.6" y="671.5" style="color:#ff0000" textLength="33.8" lengthAdjust="spacingAndGlyphs">14,00</text>
<ellipse cx="329.4" cy="667.35" rx="3.25" ry="3.95" fill="none" stroke="#17181c" stroke-width="1.2"/><path d="M326.7 672.65L332 662.15" stroke="#17181c" stroke-width="0.8" fill="none"/>
<ellipse cx="348.4" cy="667.35" rx="3.25" ry="3.95" fill="none" stroke="#17181c" stroke-width="1.2"/><path d="M345.7 672.65L351 662.15" stroke="#17181c" stroke-width="0.8" fill="none"/>
<ellipse cx="367.4" cy="667.35" rx="3.25" ry="3.95" fill="none" stroke="#17181c" stroke-width="1.2"/><path d="M364.7 672.65L370 662.15" stroke="#17181c" stroke-width="0.8" fill="none"/>
<ellipse cx="386.4" cy="667.35" rx="3.25" ry="3.95" fill="none" stroke="#17181c" stroke-width="1.2"/><path d="M383.7 672.65L389 662.15" stroke="#17181c" stroke-width="0.8" fill="none"/>
<ellipse cx="405.4" cy="667.35" rx="3.25" ry="3.95" fill="none" stroke="#17181c" stroke-width="1.2"/><path d="M402.7 672.65L408 662.15" stroke="#17181c" stroke-width="0.8" fill="none"/>
<text x="421.6" y="671.5" style="color:#ff0000" textLength="34.4" lengthAdjust="spacingAndGlyphs">10,50</text>
<text x="467.6" y="671.5" style="color:#ffff00" textLength="34.6" lengthAdjust="spacingAndGlyphs">11,50</text>
<text x="513" y="671.5" style="color:#ff0000" textLength="34.7" lengthAdjust="spacingAndGlyphs">11,50</text>
<ellipse cx="562.6" cy="667.35" rx="3.25" ry="3.95" fill="none" stroke="#17181c" stroke-width="1.2"/><path d="M559.9 672.65L565.2 662.15" stroke="#17181c" stroke-width="0.8" fill="none"/>
<text x="577.8" y="671.5" style="color:#00ff00" textLength="27" lengthAdjust="spacingAndGlyphs">9,50</text>
<ellipse cx="619.7" cy="667.35" rx="3.25" ry="3.95" fill="none" stroke="#17181c" stroke-width="1.2"/><path d="M617 672.65L622.3 662.15" stroke="#17181c" stroke-width="0.8" fill="none"/>
<ellipse cx="638.6" cy="667.35" rx="3.25" ry="3.95" fill="none" stroke="#17181c" stroke-width="1.2"/><path d="M635.9 672.65L641.2 662.15" stroke="#17181c" stroke-width="0.8" fill="none"/>
<ellipse cx="657.5" cy="667.35" rx="3.25" ry="3.95" fill="none" stroke="#17181c" stroke-width="1.2"/><path d="M654.8 672.65L660.1 662.15" stroke="#17181c" stroke-width="0.8" fill="none"/>
<text x="672.7" y="671.5" style="color:#ff0000" textLength="27.3" lengthAdjust="spacingAndGlyphs">8,50</text>
<ellipse cx="714.8" cy="667.35" rx="3.25" ry="3.95" fill="none" stroke="#17181c" stroke-width="1.2"/><path d="M712.1 672.65L717.4 662.15" stroke="#17181c" stroke-width="0.8" fill="none"/>
<ellipse cx="733.8" cy="667.35" rx="3.25" ry="3.95" fill="none" stroke="#17181c" stroke-width="1.2"/><path d="M731.1 672.65L736.4 662.15" stroke="#17181c" stroke-width="0.8" fill="none"/>
<text x="748.7" y="671.5" style="color:#ff0000" textLength="27.6" lengthAdjust="spacingAndGlyphs">7,50</text>
<ellipse cx="792" cy="667.35" rx="3.25" ry="3.95" fill="none" stroke="#17181c" stroke-width="1.2"/><path d="M789.3 672.65L794.6 662.15" stroke="#17181c" stroke-width="0.8" fill="none"/>
<ellipse cx="811" cy="667.35" rx="3.25" ry="3.95" fill="none" stroke="#17181c" stroke-width="1.2"/><path d="M808.3 672.65L813.6 662.15" stroke="#17181c" stroke-width="0.8" fill="none"/>
<ellipse cx="830" cy="667.35" rx="3.25" ry="3.95" fill="none" stroke="#17181c" stroke-width="1.2"/><path d="M827.3 672.65L832.6 662.15" stroke="#17181c" stroke-width="0.8" fill="none"/>
<text x="843.6" y="671.5" textLength="27.3" lengthAdjust="spacingAndGlyphs">6,50</text>
<ellipse cx="886.6" cy="667.35" rx="3.25" ry="3.95" fill="none" stroke="#17181c" stroke-width="1.2"/><path d="M883.9 672.65L889.2 662.15" stroke="#17181c" stroke-width="0.8" fill="none"/>
<ellipse cx="905.6" cy="667.35" rx="3.25" ry="3.95" fill="none" stroke="#17181c" stroke-width="1.2"/><path d="M902.9 672.65L908.2 662.15" stroke="#17181c" stroke-width="0.8" fill="none"/>
<ellipse cx="924.6" cy="667.35" rx="3.25" ry="3.95" fill="none" stroke="#17181c" stroke-width="1.2"/><path d="M921.9 672.65L927.2 662.15" stroke="#17181c" stroke-width="0.8" fill="none"/>
<path d="M57.35 619.3H73.65a3 3 0 0 1 3 3V636.3L65.5 643.1L54.35 636.3V622.3a3 3 0 0 1 3 -3Z" fill="#fff" stroke="#fff" stroke-width="5" stroke-linejoin="round"/><path d="M57.35 619.3H73.65a3 3 0 0 1 3 3V636.3L65.5 643.1L54.35 636.3V622.3a3 3 0 0 1 3 -3Z" fill="#fff" stroke="#f23645" stroke-width="1.9" stroke-linejoin="round"/><path d="M69.3 625.9H62.9V634.9H69.3M62.9 630.4H68.1" fill="none" stroke="#f23645" stroke-width="2"/>
<path d="M612.35 619.3H628.65a3 3 0 0 1 3 3V636.3L620.5 643.1L609.35 636.3V622.3a3 3 0 0 1 3 -3Z" fill="#fff" stroke="#fff" stroke-width="5" stroke-linejoin="round"/><path d="M612.35 619.3H628.65a3 3 0 0 1 3 3V636.3L620.5 643.1L609.35 636.3V622.3a3 3 0 0 1 3 -3Z" fill="#fff" stroke="#f23645" stroke-width="1.9" stroke-linejoin="round"/><path d="M624.3 625.9H617.9V634.9H624.3M617.9 630.4H623.1" fill="none" stroke="#f23645" stroke-width="2"/>
<path d="M970.35 640.7H986.65a3 3 0 0 0 3 -3V625L978.5 617.2L967.35 625V637.7a3 3 0 0 0 3 3Z" fill="#fff" stroke="#fff" stroke-width="5" stroke-linejoin="round"/><path d="M970.35 640.7H986.65a3 3 0 0 0 3 -3V625L978.5 617.2L967.35 625V637.7a3 3 0 0 0 3 3Z" fill="#fff" stroke="#089981" stroke-width="1.9" stroke-linejoin="round"/><path d="M982.3 625H975.9V634H982.3M975.9 629.5H981.1" fill="none" stroke="#089981" stroke-width="2"/>
<path d="M1408.35 619.3H1424.65a3 3 0 0 1 3 3V636.3L1416.5 643.1L1405.35 636.3V622.3a3 3 0 0 1 3 -3Z" fill="#fff" stroke="#fff" stroke-width="5" stroke-linejoin="round"/><path d="M1408.35 619.3H1424.65a3 3 0 0 1 3 3V636.3L1416.5 643.1L1405.35 636.3V622.3a3 3 0 0 1 3 -3Z" fill="#fff" stroke="#f23645" stroke-width="1.9" stroke-linejoin="round"/><path d="M1420.3 625.9H1413.9V634.9H1420.3M1413.9 630.4H1419.1" fill="none" stroke="#f23645" stroke-width="2"/>
<g fill="#131722"><path d="M15.2 820.2H30.8V839H22.8V827.8H15.2Z"/><circle cx="36.8" cy="824" r="3.3"/><path d="M44.6 820.2H52.6L45 839H36.8Z"/></g>
<text x="61.6" y="839" font-weight="bold" style="font-size:25.5px" textLength="151.5" lengthAdjust="spacingAndGlyphs">TradingView</text>
<rect x="0" y="30" width="12" height="770" fill="#fff"/>
<rect x="13" y="34" width="1788" height="759" fill="none" stroke="#f2f2f4" stroke-width="2"/>
</svg></body></html>
